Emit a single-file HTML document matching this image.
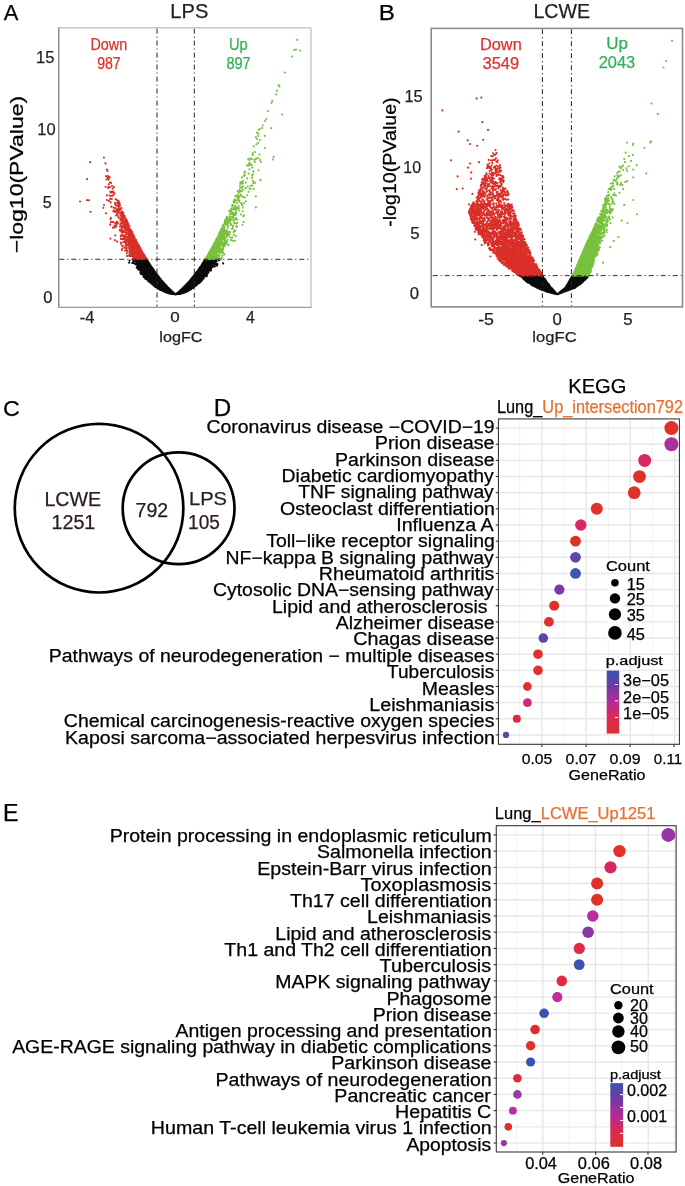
<!DOCTYPE html>
<html><head><meta charset="utf-8"><style>
html,body{margin:0;padding:0;background:#fff;}
svg{display:block;will-change:transform;}
text{font-family:"Liberation Sans",sans-serif;}
</style></head><body>
<svg width="685" height="1186" viewBox="0 0 685 1186">
<rect width="685" height="1186" fill="#fff"/>
<text x="3.85" y="20.10" font-size="22.84" fill="#000" stroke="#000" stroke-width="0.25" textLength="14.60" lengthAdjust="spacingAndGlyphs">A</text>
<text x="170.34" y="17.90" font-size="20.07" fill="#231f20" stroke="#231f20" stroke-width="0.25" textLength="37.96" lengthAdjust="spacingAndGlyphs">LPS</text>
<path d="M136 260h11v1h-11zM205 260h9v1h-9zM137 261h11v1h-11zM204 261h12v1h-12zM138 262h10v1h-10zM203 262h10v1h-10zM214 262h1v1h-1zM137 263h12v1h-12zM203 263h9v1h-9zM137 264h13v1h-13zM202 264h10v1h-10zM216 264h1v1h-1zM138 265h12v1h-12zM202 265h11v1h-11zM137 266h1v1h-1zM139 266h12v1h-12zM201 266h12v1h-12zM140 267h12v1h-12zM200 267h10v1h-10zM211 267h1v1h-1zM139 268h13v1h-13zM199 268h10v1h-10zM140 269h13v1h-13zM199 269h11v1h-11zM141 270h13v1h-13zM198 270h11v1h-11zM142 271h12v1h-12zM197 271h11v1h-11zM142 272h13v1h-13zM196 272h12v1h-12zM143 273h13v1h-13zM196 273h11v1h-11zM144 274h13v1h-13zM195 274h12v1h-12zM145 275h13v1h-13zM194 275h11v1h-11zM144 276h14v1h-14zM194 276h10v1h-10zM144 277h15v1h-15zM193 277h10v1h-10zM145 278h15v1h-15zM192 278h11v1h-11zM149 279h11v1h-11zM191 279h11v1h-11zM150 280h11v1h-11zM190 280h12v1h-12zM149 281h13v1h-13zM189 281h12v1h-12zM151 282h12v1h-12zM188 282h12v1h-12zM152 283h12v1h-12zM187 283h11v1h-11zM153 284h12v1h-12zM187 284h10v1h-10zM154 285h12v1h-12zM186 285h9v1h-9zM155 286h12v1h-12zM185 286h9v1h-9zM157 287h11v1h-11zM184 287h8v1h-8zM159 288h10v1h-10zM183 288h8v1h-8zM160 289h10v1h-10zM182 289h8v1h-8zM162 290h9v1h-9zM180 290h8v1h-8zM165 291h7v1h-7zM179 291h7v1h-7zM167 292h6v1h-6zM178 292h5v1h-5zM171 293h3v1h-3zM177 293h4v1h-4z" fill="#0a0a0a"/><path d="M170.2 293.5h0M166.8 291.8h0M170.2 293.1h0M164.5 290.9h0M171.7 293.3h0M174.1 294.1h0M170.9 293.7h0M172.6 293.2h0M162.7 282.4h0M169.8 292.2h0M167.4 292.6h0M146.6 260.3h0M168.8 292.2h0M171.7 293.8h0M161.8 289.2h0M157.2 276.3h0M163.7 290.0h0M168.4 288.0h0M173.7 294.1h0M151.0 282.6h0M163.2 283.8h0M166.6 291.3h0M157.9 275.8h0M164.7 290.4h0M174.7 294.2h0M171.1 293.0h0M174.3 294.2h0M170.5 293.3h0M161.2 281.2h0M165.6 291.7h0M172.8 293.9h0M170.5 292.9h0M169.8 292.3h0M169.5 292.2h0M174.5 294.2h0M175.1 294.2h0M160.3 279.7h0M168.9 292.1h0M157.6 287.4h0M172.8 293.0h0M175.6 294.4h0M171.5 293.8h0M167.7 287.5h0M163.6 291.0h0M173.9 293.2h0M159.1 278.6h0M161.3 280.9h0M175.0 294.0h0M172.1 293.4h0M160.9 289.6h0M169.9 293.4h0M170.2 293.0h0M169.3 292.8h0M172.2 292.7h0M151.6 282.2h0M168.2 292.7h0M160.9 279.9h0M173.2 293.9h0M164.4 284.6h0M167.9 292.7h0M151.2 266.9h0M154.4 272.0h0M174.9 294.2h0M165.3 291.2h0M157.6 276.4h0M153.0 283.9h0M170.3 292.2h0M172.4 293.8h0M143.6 259.8h0M159.3 289.1h0M170.6 290.4h0M168.4 288.8h0M169.4 293.4h0M160.0 279.8h0M140.7 267.3h0M171.3 290.8h0M167.4 287.6h0M173.2 293.1h0M164.2 290.2h0M169.5 292.8h0M172.1 292.5h0M168.2 292.3h0M156.1 274.1h0M147.0 279.2h0M170.7 293.1h0M163.2 290.1h0M162.3 281.7h0M172.2 292.8h0M162.1 281.0h0M159.4 288.1h0M140.0 269.9h0M169.3 293.0h0M173.7 293.6h0M170.7 292.4h0M169.8 293.4h0M163.3 290.4h0M163.0 282.6h0M169.0 292.3h0M164.3 284.3h0M149.1 264.6h0M172.7 293.1h0M148.1 262.8h0M153.3 271.8h0M170.4 290.9h0M174.0 293.4h0M159.5 278.6h0M149.2 265.8h0M165.4 285.3h0M169.9 289.8h0M164.5 290.2h0M164.9 284.7h0M164.2 283.6h0M136.5 263.5h0M150.0 279.1h0M164.9 291.7h0M173.1 293.6h0M167.7 292.1h0M168.9 293.2h0M149.4 279.7h0M166.5 292.5h0M161.7 281.6h0M148.4 263.3h0M160.2 280.2h0M158.4 288.2h0M173.4 293.3h0M151.7 268.0h0M171.0 293.6h0M153.9 271.0h0M157.5 288.2h0M160.8 280.5h0M172.4 293.9h0M166.2 291.8h0M163.6 290.6h0M156.9 274.6h0M174.2 293.4h0M174.3 293.7h0M164.1 290.8h0M168.3 288.6h0M138.7 259.4h0M161.6 289.8h0M170.4 292.3h0M140.6 267.4h0M154.0 271.1h0M158.7 288.0h0M160.9 289.0h0M174.6 293.6h0M137.1 262.8h0M148.3 278.3h0M172.6 293.5h0M171.2 291.7h0M151.2 268.2h0M159.3 288.6h0M163.2 283.2h0M171.5 292.0h0M166.4 291.8h0M169.9 289.7h0M149.7 279.4h0M172.3 291.9h0M172.1 293.1h0M164.6 283.9h0M144.7 259.4h0M152.4 269.2h0M166.0 292.3h0M165.8 291.8h0M171.2 291.9h0M164.4 291.6h0M148.3 278.6h0M161.2 289.9h0M172.2 291.6h0M163.8 290.2h0M170.2 290.2h0M167.7 292.3h0M152.2 268.0h0M166.9 291.2h0M168.1 288.1h0M154.3 271.6h0M173.3 292.8h0M156.3 287.2h0M167.9 287.5h0M163.6 283.2h0M148.7 263.6h0M165.7 291.2h0M161.3 281.8h0M173.1 292.6h0M145.3 275.4h0M158.2 277.8h0M150.0 266.5h0M165.3 285.5h0M171.0 293.8h0M150.9 281.5h0M159.2 277.4h0M148.5 281.4h0M166.9 292.0h0M154.2 285.4h0M162.4 281.9h0M156.1 274.4h0M159.3 288.4h0M171.4 291.3h0M165.9 291.1h0M152.3 269.8h0M164.8 290.7h0M150.9 280.7h0M161.7 289.7h0M150.6 281.0h0M153.5 269.7h0M154.2 272.5h0M172.7 292.2h0M171.0 290.9h0M158.2 287.0h0M151.1 268.0h0M165.9 291.6h0M150.5 265.8h0M161.4 289.5h0M164.2 291.3h0M172.4 292.5h0M162.4 282.8h0M148.2 263.9h0M168.0 292.3h0M168.6 293.0h0M147.2 261.3h0M141.7 259.4h0M165.3 291.9h0M169.1 289.5h0M149.0 278.5h0M156.8 286.3h0M162.2 282.4h0M154.7 271.7h0M146.4 259.6h0M164.3 284.0h0M160.0 288.3h0M166.8 292.6h0M170.8 292.8h0M143.7 276.4h0M165.2 291.8h0M152.1 268.7h0M149.7 265.3h0M162.7 282.6h0M164.3 290.4h0M161.7 281.9h0M160.9 280.9h0M152.1 269.4h0M172.0 291.9h0M154.1 285.0h0M160.2 278.9h0M152.1 268.3h0M162.5 290.3h0M159.6 279.4h0M171.0 291.3h0M164.3 291.1h0M158.7 277.9h0M154.0 272.2h0M141.8 261.0h0M159.1 279.6h0M171.8 291.8h0M147.8 261.7h0M167.9 293.1h0M151.4 266.9h0M153.7 270.8h0M141.1 270.3h0M163.1 290.6h0M161.3 289.1h0M167.4 292.6h0M167.0 292.7h0M153.7 271.3h0M159.7 289.0h0M156.6 286.7h0M145.4 260.6h0M150.8 281.4h0M157.5 275.7h0M165.2 285.0h0M148.0 262.1h0M167.0 287.4h0M172.2 293.9h0M157.9 287.4h0M168.8 292.7h0M150.3 280.1h0M153.3 270.8h0M163.0 283.0h0M155.9 273.3h0M172.1 291.8h0M147.7 261.8h0M162.1 281.1h0M167.8 293.0h0M147.1 260.9h0M170.7 290.2h0M134.0 260.6h0M162.2 290.6h0M152.6 269.3h0M157.9 276.5h0M164.0 283.4h0M133.1 259.7h0M148.5 263.6h0M146.8 278.0h0M161.2 280.5h0M146.4 279.2h0M163.0 291.1h0M159.6 288.3h0M163.8 291.5h0M163.6 290.4h0M162.1 281.8h0M147.7 261.0h0M162.6 290.4h0M162.8 291.0h0M152.3 284.2h0M145.1 259.6h0M149.4 264.9h0M158.9 288.8h0M155.3 286.9h0M138.8 268.4h0M166.3 286.1h0M161.5 280.5h0M137.5 260.4h0M158.3 276.5h0M154.1 271.5h0M137.4 259.8h0M160.0 281.0h0M174.2 294.2h0M160.6 279.6h0M157.4 275.7h0M153.2 269.9h0M144.1 259.8h0M171.8 291.1h0M137.0 264.7h0M133.2 261.8h0M165.7 291.9h0M155.4 273.9h0M166.7 286.9h0M157.4 276.9h0M164.8 291.0h0M165.9 285.5h0M140.9 274.0h0M153.1 269.8h0M170.3 289.7h0M160.5 279.2h0M155.0 272.0h0M129.2 262.7h0M149.1 279.0h0M150.1 265.8h0M142.5 261.0h0M142.7 274.4h0M143.5 260.8h0M152.5 268.7h0M169.4 289.1h0M160.5 280.1h0M157.5 287.2h0M145.8 260.4h0M137.4 264.2h0M159.1 279.2h0M155.6 273.2h0M168.7 288.8h0M149.1 264.2h0M142.1 260.0h0M168.0 288.9h0M167.6 287.9h0M153.2 285.1h0M151.0 280.4h0M158.0 276.8h0M159.9 278.5h0M145.4 275.2h0M145.2 278.4h0M160.0 279.1h0M137.5 262.1h0M173.8 292.9h0M146.9 259.9h0M152.0 282.3h0M137.4 259.3h0M147.7 261.5h0M151.7 267.7h0M141.9 272.5h0M169.3 288.9h0M164.4 283.8h0M157.6 276.8h0M147.5 260.8h0M145.3 260.6h0M135.5 260.9h0M151.0 267.1h0M163.6 283.5h0M146.1 260.9h0M138.0 266.0h0M149.3 264.5h0M145.7 259.6h0M140.6 269.8h0M144.5 259.7h0M144.6 275.9h0M152.3 283.9h0M158.0 287.5h0M142.7 260.2h0M144.5 274.9h0M143.4 259.5h0M166.7 286.3h0M153.1 284.1h0M157.1 275.3h0M167.1 286.8h0M140.4 260.5h0M155.6 273.9h0M158.8 277.5h0M151.2 267.5h0M148.6 262.9h0M134.5 263.4h0M150.3 266.1h0M170.6 290.4h0M157.9 275.8h0M166.4 286.6h0M156.9 287.5h0M155.3 272.5h0M169.6 289.8h0M159.0 287.4h0M159.6 279.0h0M136.6 261.4h0M147.3 278.9h0M160.1 289.2h0M154.2 285.5h0M144.9 277.0h0M138.6 262.9h0M160.5 280.8h0M142.8 272.8h0M159.4 277.8h0M162.1 290.1h0M165.5 285.8h0M149.7 264.4h0M159.3 279.9h0M160.6 289.2h0M153.0 269.7h0M147.1 262.9h0M148.0 264.0h0M162.7 282.0h0M162.2 290.2h0M155.4 272.7h0M149.7 279.1h0M140.2 267.0h0M143.1 274.7h0M137.8 259.5h0M137.7 261.1h0M136.7 259.9h0M141.6 260.0h0M143.9 274.9h0M149.8 282.0h0M143.3 260.5h0M156.5 274.9h0M139.4 259.8h0M163.8 291.4h0M151.2 283.3h0M142.2 273.9h0M142.5 271.0h0M159.6 289.4h0M148.2 261.9h0M159.1 288.1h0M155.3 273.7h0M161.8 281.7h0M153.3 284.5h0M165.5 292.2h0M157.5 276.2h0M144.2 276.2h0M157.3 276.1h0M152.3 269.8h0M165.9 285.3h0M153.9 270.2h0M169.9 289.3h0M165.0 284.3h0M169.2 289.0h0M138.1 269.3h0M164.2 283.4h0M169.3 293.5h0M161.2 281.9h0M157.9 288.2h0M162.2 290.6h0M137.8 259.3h0M150.0 266.7h0M163.5 282.6h0M164.8 291.8h0M154.4 272.6h0M151.6 282.9h0M142.1 272.1h0M149.3 265.2h0M145.7 279.0h0M159.7 288.8h0M154.3 285.3h0M148.2 263.0h0M153.6 270.4h0M149.7 264.1h0M149.9 264.7h0M136.7 267.7h0M167.1 286.5h0M153.1 271.1h0M144.4 259.3h0M151.7 268.8h0M144.0 260.8h0M163.1 282.1h0M149.6 281.1h0M136.9 267.0h0M159.3 278.5h0M138.7 260.6h0M158.6 288.1h0M138.0 262.9h0M172.7 291.9h0M149.7 281.8h0M155.4 273.7h0M144.8 275.8h0M145.5 260.6h0M147.9 278.2h0M167.9 287.4h0M161.7 281.4h0M159.4 278.6h0M152.2 283.0h0M137.5 265.6h0M150.5 265.4h0M142.1 260.2h0M137.6 264.7h0M156.2 286.8h0M161.5 281.0h0M139.9 259.8h0M133.8 263.0h0M155.8 273.5h0M138.2 262.0h0M158.4 276.6h0M155.7 286.4h0M152.1 267.6h0M165.7 285.1h0M150.8 266.0h0M143.7 259.9h0M144.5 260.3h0M152.4 268.2h0M144.3 260.7h0M157.0 287.3h0M171.2 290.6h0M142.5 274.4h0M141.6 271.4h0M151.5 268.3h0M143.6 260.3h0M171.5 290.9h0M137.3 260.7h0M160.7 289.9h0M142.8 271.2h0M129.6 260.5h0M166.2 286.2h0M141.3 259.7h0M158.7 288.3h0M153.3 270.5h0M153.7 285.6h0M132.3 263.0h0M144.7 260.8h0M173.8 292.9h0M151.5 283.6h0M160.8 279.3h0M152.5 283.0h0M144.8 274.1h0M137.5 266.9h0M140.3 272.2h0M158.9 277.2h0M139.6 260.5h0M136.8 261.1h0M168.8 288.4h0M133.3 260.7h0M135.5 261.4h0M160.5 289.4h0M140.4 267.7h0M154.8 272.7h0M137.6 265.2h0M162.7 281.7h0M135.6 264.3h0M147.2 262.3h0M153.1 269.2h0M142.9 260.9h0M142.3 259.6h0M155.9 286.4h0M154.8 285.3h0M146.5 260.5h0M145.2 260.0h0M152.2 284.1h0M155.4 273.1h0M156.4 274.4h0M146.0 275.5h0M159.9 289.4h0M154.3 272.9h0M138.9 266.5h0M170.9 293.8h0M140.7 259.4h0M166.6 292.6h0M148.8 279.5h0M153.4 284.8h0M141.2 260.9h0M156.3 273.7h0M136.7 260.5h0M141.4 260.2h0M141.7 260.5h0M156.9 287.1h0M154.2 271.1h0M151.7 282.5h0M137.6 265.9h0M140.9 270.4h0M158.6 287.5h0M138.6 265.1h0M150.3 280.7h0M158.3 277.2h0M152.7 283.3h0M139.7 260.1h0M156.8 274.3h0M155.3 286.3h0M169.5 289.0h0M158.4 287.7h0M167.7 287.3h0M155.3 272.9h0M139.1 269.6h0M169.0 288.4h0M138.8 262.4h0M154.7 286.2h0M150.3 266.2h0M140.3 260.0h0M136.5 259.7h0M139.3 266.4h0M160.1 289.8h0M149.5 280.2h0M155.9 286.8h0M154.8 271.9h0M136.6 260.8h0M147.2 279.7h0M150.4 281.5h0M137.9 264.4h0M166.4 285.7h0M136.5 261.2h0M153.7 271.4h0M154.9 286.0h0M137.8 266.9h0M148.8 263.1h0M150.1 280.0h0M139.4 267.5h0M148.1 278.9h0M144.1 276.6h0M168.3 287.8h0M139.3 259.5h0M151.4 283.2h0M149.4 281.1h0M150.5 282.4h0M143.5 273.8h0M148.8 262.9h0M157.5 275.4h0M147.0 262.1h0M147.4 262.7h0M144.1 260.1h0M143.7 276.9h0M165.4 284.9h0M143.3 273.5h0M153.8 270.2h0M142.5 272.7h0M150.7 280.2h0M152.5 268.5h0M179.9 293.0h0M183.6 291.4h0M183.8 291.4h0M177.2 293.2h0M178.9 293.7h0M178.9 292.1h0M178.1 293.0h0M183.1 291.8h0M176.9 294.2h0M175.8 294.3h0M177.9 293.7h0M182.2 292.4h0M178.2 294.0h0M179.5 293.1h0M180.1 293.7h0M182.3 292.6h0M181.0 293.2h0M204.8 262.0h0M190.8 279.5h0M206.8 274.4h0M184.8 292.1h0M187.7 282.9h0M176.4 294.2h0M181.2 293.2h0M192.0 287.9h0M200.2 267.0h0M183.1 291.1h0M206.7 276.3h0M187.2 290.4h0M203.5 262.7h0M184.5 287.8h0M181.1 292.4h0M183.4 292.4h0M187.4 284.7h0M196.0 274.6h0M176.8 294.0h0M183.6 291.8h0M185.2 291.8h0M186.6 290.4h0M177.2 294.0h0M177.1 293.5h0M214.5 263.9h0M192.5 278.8h0M189.7 289.9h0M204.9 260.5h0M182.1 293.1h0M176.2 294.2h0M180.6 293.4h0M190.6 281.0h0M178.3 293.6h0M188.8 282.0h0M187.7 290.5h0M177.4 294.0h0M181.2 289.8h0M195.4 285.0h0M179.4 293.5h0M185.4 291.2h0M178.8 293.1h0M187.3 284.6h0M179.3 291.8h0M187.6 284.4h0M181.9 289.7h0M175.9 294.2h0M185.3 286.1h0M183.0 288.0h0M208.1 268.6h0M183.8 288.4h0M194.9 275.5h0M185.4 291.2h0M180.6 293.2h0M190.5 280.2h0M199.5 283.1h0M213.6 266.3h0M186.5 284.3h0M184.5 286.4h0M184.0 292.1h0M187.8 284.2h0M183.6 292.5h0M206.1 260.2h0M197.7 271.0h0M179.5 293.6h0M187.0 284.1h0M201.5 266.6h0M197.2 284.0h0M182.9 289.3h0M177.9 292.9h0M190.7 280.0h0M181.5 292.7h0M178.7 292.9h0M183.2 292.8h0M188.2 282.8h0M205.2 260.6h0M182.5 292.1h0M183.3 291.9h0M209.9 259.7h0M179.6 291.2h0M181.1 292.7h0M181.6 293.3h0M182.7 290.0h0M184.7 291.3h0M186.8 285.1h0M178.3 292.9h0M183.5 288.1h0M178.6 293.8h0M178.5 293.9h0M200.0 267.4h0M182.5 288.6h0M191.9 279.3h0M179.2 293.8h0M182.7 292.1h0M208.3 268.0h0M203.5 263.4h0M181.6 292.4h0M210.6 260.6h0M206.1 259.9h0M185.7 286.8h0M197.2 284.5h0M196.6 273.5h0M187.4 285.0h0M183.9 291.4h0M180.6 293.6h0M177.4 293.7h0M202.9 264.6h0M182.2 292.2h0M177.7 292.9h0M194.0 285.8h0M182.7 288.6h0M189.0 289.4h0M207.9 260.0h0M181.1 293.4h0M183.8 287.6h0M196.7 273.0h0M184.2 287.1h0M181.1 290.8h0M189.8 281.4h0M189.0 290.0h0M207.4 260.0h0M181.9 291.0h0M196.9 272.5h0M186.7 290.9h0M193.2 287.9h0M191.1 279.7h0M189.3 281.7h0M186.2 285.3h0M182.3 289.1h0M184.9 291.7h0M178.2 293.4h0M179.2 291.6h0M181.1 292.2h0M189.8 281.4h0M183.8 288.0h0M197.8 271.6h0M189.4 281.4h0M188.4 289.6h0M178.5 292.2h0M192.5 277.5h0M202.0 265.7h0M196.4 273.3h0M191.2 279.2h0M190.4 289.2h0M186.7 290.3h0M190.1 289.7h0M180.6 290.7h0M190.9 280.3h0M198.5 269.7h0M185.5 292.0h0M181.3 290.4h0M190.3 288.5h0M176.6 293.7h0M182.5 289.7h0M186.6 291.1h0M195.8 274.9h0M181.7 290.3h0M189.3 281.9h0M215.7 259.4h0M182.7 292.7h0M178.4 292.2h0M184.3 291.6h0M206.9 275.2h0M202.8 263.7h0M195.4 274.2h0M194.2 275.7h0M185.9 291.3h0M191.7 288.3h0M179.6 293.8h0M204.1 261.7h0M184.6 287.0h0M188.2 289.4h0M200.0 269.4h0M191.3 287.7h0M183.9 287.5h0M180.0 292.0h0M188.5 289.8h0M198.0 270.7h0M190.6 280.1h0M209.1 260.2h0M179.7 291.9h0M213.6 265.7h0M192.8 278.3h0M195.2 284.3h0M188.8 289.7h0M183.6 292.7h0M184.5 291.0h0M187.1 283.8h0M189.2 289.4h0M196.5 284.2h0M193.3 286.2h0M215.3 260.0h0M182.9 292.6h0M199.6 269.7h0M202.9 277.2h0M196.9 273.3h0M187.8 283.7h0M182.2 292.7h0M208.8 261.0h0M207.8 271.4h0M191.4 278.9h0M195.8 285.4h0M195.3 285.6h0M196.2 272.7h0M184.7 287.4h0M213.6 260.6h0M184.5 292.2h0M193.5 277.9h0M194.5 275.1h0M183.2 288.8h0M202.6 265.5h0M199.4 268.5h0M205.1 274.2h0M208.4 270.1h0M182.6 288.7h0M212.9 259.7h0M193.1 287.0h0M184.0 292.4h0M186.1 290.1h0M185.4 286.3h0M183.9 287.0h0M188.0 283.6h0M203.2 262.6h0M201.7 265.0h0M183.6 288.7h0M191.3 287.8h0M186.3 291.4h0M190.7 288.6h0M184.6 292.4h0M180.5 290.9h0M178.8 292.5h0M204.6 261.7h0M182.3 293.2h0M188.3 290.4h0M183.6 287.3h0M194.8 276.9h0M188.2 289.5h0M189.2 281.3h0M202.6 263.9h0M192.2 286.6h0M193.7 276.4h0M186.5 284.6h0M193.5 287.7h0M184.4 286.9h0M183.1 288.0h0M185.5 285.7h0M213.9 262.9h0M190.7 288.0h0M201.2 266.2h0M182.1 292.1h0M181.7 290.6h0M202.3 265.3h0M191.7 288.0h0M181.7 289.6h0M188.6 289.4h0M186.8 290.1h0M186.3 285.8h0M195.3 284.9h0M199.3 269.9h0M185.7 286.6h0M202.3 279.7h0M180.1 293.8h0M187.0 290.7h0M209.6 269.1h0M201.8 280.0h0M184.5 292.2h0M186.3 290.9h0M195.6 274.6h0M187.8 290.4h0M192.0 279.6h0M193.7 276.6h0M180.1 290.9h0M199.6 268.8h0M192.2 277.9h0M192.2 286.1h0M211.5 264.2h0M180.3 290.5h0M196.4 272.9h0M196.1 273.0h0M183.9 291.2h0M194.7 276.1h0M191.2 279.9h0M189.8 281.9h0M193.1 277.9h0M179.7 291.7h0M204.5 260.6h0M208.5 260.1h0M190.8 288.3h0M191.8 287.3h0M191.5 278.9h0M203.4 262.3h0M199.0 282.8h0M195.7 273.3h0M195.7 284.3h0M185.1 286.9h0M208.8 259.6h0M187.8 283.1h0M186.2 284.9h0M191.5 279.7h0M207.7 259.4h0M188.1 290.0h0M216.4 264.0h0M193.5 287.1h0M193.1 277.8h0M189.0 290.3h0M202.1 280.2h0M213.2 260.0h0M190.5 288.6h0M181.6 293.5h0M185.0 291.8h0M206.0 259.6h0M193.1 287.5h0M182.1 288.9h0M185.7 291.6h0M204.9 260.0h0M194.2 285.1h0M189.8 280.8h0M186.6 291.4h0M214.9 266.4h0M179.2 293.3h0M197.0 283.5h0M187.8 283.9h0M203.7 261.9h0M194.0 276.6h0M197.6 270.8h0M194.7 286.1h0M195.8 273.9h0M180.7 290.2h0M205.3 259.3h0M191.6 287.2h0M194.0 286.9h0M177.6 293.4h0M211.8 263.1h0M188.9 282.4h0M194.0 277.1h0M209.7 259.5h0M201.4 266.6h0M203.3 263.4h0M192.6 287.4h0M185.7 285.2h0M212.5 266.9h0M195.8 284.7h0M187.9 282.9h0M208.4 272.4h0M205.5 259.5h0M191.7 279.2h0M194.8 274.6h0M206.7 260.0h0M206.8 260.5h0M199.1 269.4h0M210.1 260.6h0M186.0 285.6h0M199.2 269.5h0M183.3 287.6h0M196.8 284.6h0M186.7 284.7h0M215.4 259.8h0M207.5 272.0h0M192.5 287.3h0M207.2 271.5h0M186.3 285.9h0M191.1 287.1h0M194.2 275.6h0M200.7 267.3h0M202.2 277.8h0M197.8 271.9h0M200.3 267.1h0M177.0 293.7h0M210.1 260.1h0M196.2 284.4h0M190.2 289.4h0M190.7 289.1h0M196.4 285.4h0M204.3 261.5h0M194.6 275.2h0M209.4 259.7h0M184.7 286.5h0M192.6 277.9h0M191.2 288.3h0M201.7 279.6h0M197.4 271.6h0M209.3 270.4h0M180.4 293.8h0M197.6 283.6h0M191.9 278.5h0M198.7 271.0h0M197.0 271.9h0M195.0 285.2h0M182.7 293.1h0M203.9 262.4h0M194.5 276.2h0M198.7 270.2h0M198.2 270.3h0M192.6 277.7h0M186.1 291.9h0M200.1 282.2h0M204.8 261.1h0M182.5 288.4h0M211.9 259.8h0M197.3 283.3h0M198.7 282.0h0M212.5 263.3h0M200.6 281.4h0M203.7 262.6h0M216.9 265.7h0M182.0 289.3h0M204.4 261.3h0M183.2 288.6h0M192.0 278.9h0M208.4 259.6h0M207.6 273.4h0M184.7 287.7h0M178.2 292.5h0M195.7 274.1h0M209.3 267.1h0M210.8 267.5h0M202.6 264.6h0M216.0 259.9h0M203.9 276.3h0M198.8 282.3h0M198.6 270.9h0M217.5 264.2h0M207.5 272.8h0M194.6 285.9h0M186.2 285.2h0M201.1 266.6h0M194.8 276.3h0M184.2 292.7h0M193.7 286.5h0M194.3 275.9h0M178.8 291.8h0M194.6 285.5h0M194.5 286.2h0M206.7 259.8h0M188.5 282.6h0M195.1 274.7h0M198.0 282.7h0M202.2 279.9h0M210.2 267.9h0M207.9 260.9h0M195.0 274.6h0M202.5 278.1h0M200.4 281.4h0M219.3 259.9h0M198.0 283.5h0M211.4 264.0h0M187.0 291.0h0M199.7 267.8h0M193.5 277.3h0M193.3 276.5h0M188.8 290.6h0M201.1 279.4h0M195.5 273.5h0M208.4 268.8h0M192.6 278.1h0M204.0 262.1h0M184.9 286.1h0M205.8 260.1h0M211.3 263.0h0M193.7 276.2h0M205.2 260.0h0M193.7 277.7h0M214.7 262.8h0M199.6 268.6h0M196.9 273.7h0M187.3 284.1h0M177.0 294.2h0M211.2 259.4h0M185.5 286.0h0M204.8 276.3h0M202.3 264.0h0M218.7 260.3h0M207.5 271.2h0M194.4 274.9h0M199.5 268.2h0M214.5 261.8h0M191.2 289.2h0M186.8 284.4h0M188.7 283.0h0M203.4 277.7h0M192.9 278.7h0M200.1 267.1h0M192.0 287.4h0M209.7 260.7h0M190.1 280.6h0M184.1 292.7h0M194.6 277.0h0M189.2 290.0h0M192.9 287.0h0M186.1 291.5h0M181.6 290.2h0M212.4 260.2h0M210.2 270.3h0M201.9 266.4h0M212.0 264.1h0M192.4 278.4h0M204.7 275.6h0M179.7 291.0h0M192.8 287.5h0M190.4 288.2h0M188.1 290.7h0M193.4 277.0h0M207.6 259.5h0M187.4 283.3h0M210.4 259.6h0M196.7 274.0h0M202.5 263.8h0M203.7 276.6h0M180.9 289.8h0M210.4 260.5h0M195.5 285.3h0M181.2 289.8h0M199.0 269.5h0M184.6 288.0h0M211.3 268.4h0M183.0 289.7h0M191.8 288.2h0M209.1 269.5h0M215.7 260.3h0M181.5 289.4h0M202.2 265.1h0M196.3 273.8h0M201.4 279.9h0M200.3 267.4h0M192.5 286.3h0M212.7 260.2h0M211.0 270.3h0M205.5 275.6h0M201.6 265.3h0M203.8 263.3h0M195.0 285.9h0M193.3 286.8h0M213.2 261.4h0M215.6 260.1h0M202.9 264.4h0M209.7 267.0h0M202.0 264.4h0M215.1 260.6h0M198.5 269.9h0M191.8 279.9h0M212.8 265.0h0M207.6 260.2h0M203.2 277.0h0M215.2 264.3h0M211.3 260.3h0M199.1 268.7h0M189.7 289.1h0M205.1 274.2h0M196.1 273.7h0M186.8 291.5h0M206.4 260.7h0M210.2 269.6h0M192.6 277.3h0M206.1 259.3h0M191.0 288.8h0M193.9 286.2h0M201.1 279.7h0M187.6 291.0h0M194.1 275.8h0M196.4 272.4h0M194.4 286.8h0M196.8 284.1h0M203.7 278.4h0M223.1 263.4h0M207.2 272.2h0M192.7 286.3h0M215.6 261.9h0M193.9 286.6h0M200.9 266.9h0M205.0 260.4h0M206.6 275.3h0M206.3 260.4h0M206.9 273.3h0M192.7 277.2h0M193.7 286.1h0M216.6 261.6h0M184.1 286.8h0M187.0 291.4h0M212.2 260.3h0M205.8 260.4h0M194.1 276.7h0M187.6 291.1h0M201.6 281.1h0M187.0 285.7h0M177.0 293.3h0M204.4 260.7h0M201.7 280.4h0M203.3 263.6h0M191.8 278.3h0M207.6 261.0h0M209.2 260.8h0M191.0 280.7h0M213.4 262.0h0" stroke="#0a0a0a" stroke-width="2.16" stroke-linecap="round" fill="none"/>
<path d="M108 177h1v1h-1zM121 218h1v1h-1zM126 220h1v1h-1zM116 222h1v1h-1zM126 222h1v1h-1zM116 223h1v1h-1zM126 223h2v1h-2zM125 224h3v1h-3zM124 225h2v1h-2zM123 226h2v1h-2zM124 227h1v1h-1zM125 228h1v1h-1zM126 229h1v1h-1zM128 229h2v1h-2zM129 230h2v1h-2zM129 231h2v1h-2zM128 232h4v1h-4zM127 233h5v1h-5zM129 234h4v1h-4zM130 235h3v1h-3zM129 236h5v1h-5zM124 237h1v1h-1zM127 237h7v1h-7zM123 238h1v1h-1zM128 238h6v1h-6zM127 239h8v1h-8zM126 240h9v1h-9zM125 241h1v1h-1zM128 241h1v1h-1zM130 241h1v1h-1zM132 241h3v1h-3zM135 242h1v1h-1zM136 243h1v1h-1zM128 244h1v1h-1zM135 244h3v1h-3zM133 245h1v1h-1zM136 245h2v1h-2zM130 246h1v1h-1zM132 246h1v1h-1zM137 246h2v1h-2zM130 247h4v1h-4zM136 247h4v1h-4zM130 248h10v1h-10zM130 249h11v1h-11zM131 250h10v1h-10zM132 251h9v1h-9zM132 252h10v1h-10zM133 253h3v1h-3zM137 253h6v1h-6zM134 254h1v1h-1zM138 254h5v1h-5zM133 255h3v1h-3zM137 255h7v1h-7zM134 256h11v1h-11zM135 257h10v1h-10zM134 258h2v1h-2zM137 258h1v1h-1zM140 258h2v1h-2zM143 258h2v1h-2z" fill="#da2f28"/><path d="M135.5 241.5h0M134.7 256.1h0M118.4 216.3h0M113.6 194.8h0M140.3 249.5h0M119.0 210.0h0M141.8 258.0h0M127.0 256.1h0M123.8 231.1h0M129.1 249.0h0M132.3 233.5h0M131.7 232.3h0M135.3 240.9h0M143.6 255.9h0M145.5 258.1h0M128.1 227.3h0M131.8 247.3h0M144.3 257.0h0M136.2 255.6h0M129.3 255.9h0M110.5 219.3h0M122.5 245.8h0M127.3 232.5h0M125.2 219.4h0M117.0 241.7h0M133.8 258.3h0M115.0 211.3h0M129.2 234.0h0M135.6 245.8h0M144.4 257.7h0M142.3 253.2h0M134.3 255.0h0M128.0 229.7h0M128.6 232.5h0M144.0 257.4h0M123.3 223.3h0M135.4 254.5h0M124.6 239.1h0M132.5 256.1h0M137.4 253.9h0M130.8 241.3h0M138.0 255.8h0M141.8 258.4h0M112.0 191.6h0M119.1 202.2h0M127.0 251.0h0M128.5 236.7h0M143.7 254.6h0M118.4 208.7h0M142.8 258.1h0M140.9 258.3h0M122.3 232.9h0M145.2 258.7h0M141.7 251.1h0M131.0 243.3h0M138.6 257.7h0M144.2 257.4h0M119.6 203.4h0M132.3 234.8h0M125.6 224.1h0M130.9 230.3h0M140.0 248.1h0M134.2 240.7h0M144.7 259.1h0M144.2 258.9h0M123.5 213.1h0M125.0 239.4h0M133.8 247.9h0M138.3 244.6h0M122.0 227.1h0M129.0 231.8h0M122.4 220.4h0M121.0 212.7h0M138.8 245.9h0M108.7 184.4h0M140.0 257.0h0M120.8 242.6h0M125.0 240.1h0M144.2 256.1h0M133.1 242.8h0M133.6 236.4h0M134.8 248.1h0M125.4 234.9h0M136.4 257.3h0M113.5 207.6h0M145.5 257.3h0M132.2 243.5h0M140.3 258.1h0M139.2 246.8h0M132.6 241.3h0M140.1 258.7h0M135.6 244.7h0M122.3 229.5h0M117.9 210.5h0M144.9 258.1h0M143.5 258.3h0M143.9 254.8h0M143.9 255.0h0M141.4 258.1h0M126.6 225.2h0M125.8 229.4h0M142.2 257.1h0M134.3 242.7h0M144.2 259.2h0M143.8 258.6h0M128.5 231.6h0M124.8 225.5h0M123.7 235.9h0M110.0 182.4h0M125.6 220.3h0M134.9 240.5h0M118.5 217.5h0M139.0 258.4h0M135.6 258.1h0M138.9 254.0h0M137.2 242.3h0M126.6 249.4h0M140.2 250.0h0M125.4 245.3h0M125.8 237.2h0M134.0 256.9h0M142.3 254.2h0M116.6 215.2h0M139.0 248.2h0M134.5 244.7h0M111.3 206.7h0M115.1 202.9h0M140.7 250.6h0M135.1 255.3h0M129.2 251.7h0M129.7 253.6h0M146.3 258.7h0M134.5 248.9h0M118.1 206.4h0M106.9 200.0h0M131.7 233.6h0M127.0 244.8h0M107.6 177.8h0M125.9 245.4h0M116.9 223.7h0M115.7 199.2h0M127.9 236.9h0M119.2 202.6h0M144.5 257.5h0M126.6 237.0h0M127.1 241.7h0M122.3 239.2h0M118.9 210.8h0M131.5 252.2h0M126.9 253.3h0M109.6 177.1h0M139.0 247.3h0M127.3 232.7h0M137.9 244.2h0M128.2 228.2h0M133.7 235.6h0M133.7 255.8h0M136.5 245.3h0M130.4 242.6h0M111.8 199.0h0M130.9 249.1h0M137.7 246.9h0M122.9 214.9h0M134.2 247.5h0M124.5 232.0h0M135.2 239.6h0M120.9 238.9h0M126.4 245.5h0M130.0 229.1h0M133.5 242.6h0M131.5 252.5h0M130.1 230.0h0M125.9 223.9h0M135.7 241.3h0M142.7 252.8h0M140.8 250.9h0M126.8 220.5h0M128.7 243.3h0M120.8 215.8h0M120.3 208.8h0M123.3 242.1h0M116.1 226.6h0M129.6 247.2h0M131.7 250.5h0M144.5 256.0h0M128.9 238.0h0M133.3 242.5h0M123.9 225.1h0M134.9 258.8h0M137.8 244.3h0M129.5 231.1h0M134.0 241.9h0M126.2 224.6h0M128.5 233.3h0M124.1 247.7h0M134.9 247.6h0M128.3 230.0h0M128.7 238.4h0M144.0 259.1h0M123.7 239.1h0M143.3 254.1h0M132.8 253.4h0M112.2 221.8h0M135.2 255.7h0M136.6 243.9h0M127.7 239.1h0M131.6 247.0h0M143.0 254.1h0M144.5 256.6h0M105.6 186.8h0M132.7 243.0h0M126.5 229.8h0M145.1 258.0h0M133.2 254.8h0M126.6 239.9h0M144.7 256.7h0M142.3 257.6h0M140.9 258.7h0M128.9 243.9h0M128.7 233.1h0M136.1 245.8h0M128.9 228.8h0M121.3 229.0h0M134.1 257.1h0M133.9 244.2h0M144.9 256.4h0M113.1 222.2h0M130.4 231.6h0M125.6 221.0h0M132.3 251.7h0M119.5 210.2h0M139.0 254.8h0M120.5 231.4h0M145.5 258.3h0M118.6 217.8h0M124.8 228.7h0M138.6 257.5h0M117.7 223.3h0M138.1 245.3h0M140.5 248.9h0M130.1 250.6h0M131.5 240.8h0M121.3 219.1h0M109.6 195.5h0M131.9 232.9h0M142.2 253.9h0M132.5 235.6h0M124.1 238.4h0M123.1 214.5h0M138.4 245.6h0M145.0 257.0h0M118.9 209.3h0M125.4 229.4h0M130.2 235.1h0M123.3 236.4h0M133.2 258.2h0M132.9 235.4h0M106.1 176.2h0M134.5 239.0h0M139.4 247.7h0M134.2 245.7h0M126.4 233.4h0M127.0 234.2h0M126.5 230.4h0M124.5 215.9h0M139.6 248.7h0M144.6 258.7h0M144.4 255.5h0M114.0 210.4h0M131.7 251.1h0M126.9 241.8h0M136.4 247.4h0M131.2 233.9h0M139.8 248.7h0M138.9 246.3h0M129.6 226.6h0M144.1 258.8h0M144.8 257.8h0M130.2 241.6h0M128.6 241.5h0M137.6 245.9h0M145.9 258.1h0M142.6 252.6h0M142.8 257.0h0M133.3 234.8h0M138.8 246.5h0M119.4 206.6h0M144.6 258.4h0M137.2 243.1h0M137.8 245.8h0M131.8 241.0h0M130.7 249.4h0M128.4 234.6h0M123.3 227.2h0M139.2 246.1h0M141.4 252.7h0M130.9 247.5h0M129.7 248.5h0M128.9 236.5h0M135.1 259.2h0M131.7 231.2h0M127.3 240.1h0M121.3 208.7h0M133.4 238.2h0M120.3 220.4h0M130.4 229.5h0M135.2 243.1h0M144.8 257.3h0M136.4 256.7h0M123.5 222.1h0M141.2 251.9h0M134.8 248.5h0M111.3 192.7h0M144.2 255.1h0M138.1 255.0h0M120.1 226.7h0M141.7 258.8h0M140.7 251.5h0M133.3 246.4h0M124.1 218.3h0M143.9 255.7h0M125.9 248.1h0M125.5 240.4h0M132.9 246.7h0M128.9 245.8h0M117.3 203.2h0M110.8 222.3h0M128.8 226.5h0M116.1 215.4h0M137.3 243.9h0M143.0 257.5h0M141.4 250.9h0M139.5 247.2h0M131.1 232.1h0M131.0 256.2h0M136.9 243.9h0M134.9 242.1h0M108.7 176.5h0M144.1 255.2h0M136.9 242.1h0M127.1 251.2h0M121.5 211.3h0M134.9 248.9h0M137.2 244.9h0M120.3 224.4h0M142.9 254.8h0M126.5 228.4h0M132.0 255.4h0M128.4 233.6h0M128.5 230.3h0M122.7 218.8h0M122.8 218.9h0M123.4 218.0h0M123.3 226.4h0M116.0 211.2h0M128.7 242.6h0M138.0 254.7h0M113.0 192.3h0M121.4 208.0h0M116.4 205.7h0M122.7 216.6h0M118.8 212.7h0M144.9 258.6h0M133.6 235.9h0M144.5 259.0h0M125.9 228.5h0M132.1 255.7h0M108.6 179.6h0M114.6 193.3h0M143.0 258.0h0M131.9 241.4h0M130.9 255.9h0M144.1 256.1h0M131.7 240.4h0M126.4 243.5h0M120.8 223.4h0M114.7 227.4h0M143.7 259.0h0M128.0 232.3h0M135.2 243.8h0M139.4 246.5h0M124.3 217.0h0M126.6 223.1h0M110.2 195.8h0M135.9 240.9h0M133.2 255.8h0M121.9 217.2h0M134.8 254.2h0M141.4 258.9h0M131.7 253.5h0M129.4 230.7h0M143.0 258.3h0M119.7 230.0h0M123.9 237.6h0M134.9 241.9h0M136.0 239.9h0M122.3 211.8h0M124.9 225.3h0M138.8 254.3h0M134.3 241.3h0M133.5 237.1h0M137.1 247.0h0M116.4 224.8h0M121.1 235.3h0M138.9 257.4h0M114.5 225.5h0M131.4 231.5h0M125.5 221.7h0M127.0 229.6h0M131.9 247.3h0M121.6 218.5h0M116.6 209.4h0M141.9 252.9h0M127.4 222.7h0M115.3 204.6h0M125.7 222.6h0M143.2 254.3h0M142.5 257.4h0M126.0 225.2h0M132.8 252.3h0M132.3 243.2h0M135.1 248.8h0M129.7 244.7h0M137.5 259.3h0M119.4 213.0h0M128.8 225.7h0M145.8 257.8h0M131.3 246.3h0M122.1 221.9h0M125.1 221.7h0M143.2 258.6h0M128.7 245.0h0M125.1 250.6h0M143.6 254.2h0M127.6 238.6h0M133.9 245.0h0M143.1 253.9h0M137.9 245.7h0M126.9 248.1h0M124.9 217.1h0M110.9 217.8h0M125.0 241.7h0M134.2 244.8h0M122.0 249.0h0M136.8 258.0h0M126.8 237.1h0M135.0 248.3h0M125.5 221.3h0M129.2 230.2h0M114.8 240.2h0M126.2 219.5h0M110.2 224.7h0M124.8 224.3h0M141.2 258.4h0M122.0 226.2h0M121.9 250.1h0M127.6 222.4h0M135.6 243.3h0M118.5 204.6h0M128.8 236.8h0M139.9 258.0h0M110.7 202.4h0M129.1 231.1h0M133.3 247.5h0M136.6 247.0h0M109.8 187.2h0M117.4 214.2h0M130.1 253.4h0M121.2 214.0h0M127.9 224.1h0M134.6 237.3h0M118.1 202.2h0M143.4 254.7h0M115.3 208.0h0M132.2 245.7h0M113.3 211.3h0M123.8 215.7h0M138.4 257.6h0M127.7 237.9h0M115.7 222.9h0M136.9 258.8h0M133.4 237.8h0M121.4 212.8h0M134.5 242.2h0M144.3 258.7h0M142.7 257.4h0M142.6 257.7h0M117.9 222.8h0M141.4 251.5h0M134.6 245.2h0M131.2 246.6h0M138.3 244.9h0M126.8 222.8h0M137.8 258.8h0M115.2 235.3h0M135.4 254.9h0M115.1 223.0h0M136.3 253.2h0M126.3 234.5h0M106.0 213.3h0M110.1 198.9h0M124.5 226.1h0M133.6 241.2h0M142.0 257.6h0M141.8 258.8h0M120.6 215.4h0M135.4 245.7h0M134.4 257.6h0M124.2 236.4h0M141.1 249.8h0M129.2 247.3h0M131.6 255.3h0M131.7 233.2h0M145.2 257.8h0M126.2 222.8h0M112.9 227.7h0M126.6 220.6h0M127.3 223.1h0M123.7 221.1h0M127.4 225.7h0M125.6 231.9h0M136.2 252.1h0M130.4 245.4h0M136.7 256.8h0M121.3 243.9h0M122.7 232.5h0M135.9 253.9h0M144.8 258.2h0M135.8 248.5h0M137.1 253.1h0M116.7 221.9h0M135.3 253.9h0M137.7 253.3h0M110.3 191.8h0M120.5 218.5h0M130.4 249.0h0M137.7 245.3h0M121.9 229.6h0M122.5 213.9h0M108.9 200.9h0M134.0 241.3h0M142.9 254.4h0M134.2 237.0h0M140.6 259.0h0M126.2 219.0h0M127.0 221.1h0M122.1 223.7h0M120.1 205.4h0M122.5 222.6h0M131.1 241.0h0M123.5 231.9h0M138.5 254.1h0M137.4 258.3h0M117.5 211.5h0M133.5 254.8h0M123.7 215.2h0M141.9 259.1h0M127.2 227.7h0M117.4 200.4h0M130.6 245.0h0M133.6 255.7h0M123.6 217.8h0M136.2 245.5h0M118.4 200.8h0M108.0 176.1h0M137.0 242.6h0M127.8 227.6h0M138.0 244.6h0M125.5 227.0h0M133.9 247.3h0M140.3 251.5h0M122.2 246.3h0M117.3 213.5h0M122.5 232.3h0M133.1 254.0h0M138.2 246.0h0M134.6 244.9h0M113.3 191.6h0M123.9 221.1h0M132.6 242.0h0M128.4 226.1h0M129.2 235.2h0M128.9 255.3h0M137.7 244.6h0M140.1 248.3h0M115.2 212.2h0M131.2 247.1h0M112.1 195.9h0M125.5 242.9h0M139.2 258.4h0M139.9 247.8h0M133.2 235.3h0M132.0 232.3h0M128.3 228.7h0M133.1 255.2h0M133.5 235.0h0M140.0 248.6h0M131.7 250.9h0M108.1 187.9h0M128.5 230.7h0M128.0 233.2h0M127.6 245.3h0M126.1 245.9h0M127.8 238.9h0M137.1 255.6h0M144.7 258.0h0M131.4 232.4h0M110.4 238.6h0M134.3 245.1h0M130.4 243.1h0M120.9 236.5h0M134.6 237.7h0M130.8 255.6h0M139.7 248.5h0M123.2 221.2h0M121.9 231.0h0M133.4 237.4h0M142.1 258.7h0M132.9 245.3h0M122.5 235.0h0M121.6 214.3h0M142.3 257.9h0M131.0 230.5h0M132.9 259.3h0M124.2 216.0h0M124.2 227.5h0M133.2 247.9h0M112.7 188.7h0M132.5 233.5h0M139.7 247.4h0M143.5 255.2h0M125.4 223.0h0M128.4 224.0h0M134.8 247.7h0M146.0 258.5h0M133.6 253.7h0M126.6 228.9h0M136.9 253.7h0M103.9 157.5h0M90.1 162.2h0M105.5 163.4h0M106.9 169.7h0M107.5 171.0h0M87.1 179.2h0M106.5 179.5h0M108.5 178.0h0M111.1 182.9h0M108.5 187.0h0M112.0 186.0h0M114.0 187.0h0M80.0 201.5h0M87.1 200.2h0M89.0 200.3h0M90.5 211.8h0M106.9 195.3h0M103.3 207.8h0M104.0 205.0h0" stroke="#da2f28" stroke-width="2.16" stroke-linecap="round" fill="none"/>
<path d="M234 208h2v1h-2zM231 209h1v1h-1zM233 214h1v1h-1zM226 219h1v1h-1zM228 219h3v1h-3zM225 220h1v1h-1zM229 220h1v1h-1zM225 221h2v1h-2zM228 221h1v1h-1zM225 222h4v1h-4zM226 223h2v1h-2zM223 226h1v1h-1zM221 229h3v1h-3zM221 230h4v1h-4zM221 231h4v1h-4zM220 232h4v1h-4zM219 233h4v1h-4zM220 234h2v1h-2zM222 237h2v1h-2zM222 238h3v1h-3zM217 239h1v1h-1zM221 239h2v1h-2zM217 240h1v1h-1zM221 240h1v1h-1zM216 241h2v1h-2zM220 241h1v1h-1zM215 242h2v1h-2zM220 242h2v1h-2zM214 243h4v1h-4zM222 243h1v1h-1zM214 244h5v1h-5zM214 245h6v1h-6zM213 246h1v1h-1zM215 246h5v1h-5zM216 247h3v1h-3zM212 248h2v1h-2zM215 248h5v1h-5zM211 249h7v1h-7zM219 249h2v1h-2zM211 250h6v1h-6zM220 250h2v1h-2zM210 251h8v1h-8zM219 251h2v1h-2zM209 252h8v1h-8zM219 252h2v1h-2zM209 253h7v1h-7zM209 254h8v1h-8zM208 255h9v1h-9zM207 256h9v1h-9zM207 257h9v1h-9zM206 258h4v1h-4zM211 258h3v1h-3z" fill="#78c13c"/><path d="M235.7 236.1h0M210.2 258.8h0M247.1 178.4h0M213.3 246.3h0M217.3 249.7h0M241.3 195.4h0M228.8 221.8h0M222.9 238.3h0M255.8 207.4h0M216.2 255.8h0M218.4 249.6h0M245.9 201.3h0M234.7 202.0h0M233.4 216.6h0M233.1 225.9h0M205.6 258.7h0M259.9 140.1h0M233.3 220.7h0M218.0 257.5h0M208.4 258.1h0M221.3 235.8h0M223.4 237.2h0M242.8 189.5h0M215.7 257.5h0M214.7 245.2h0M207.7 257.3h0M230.0 214.3h0M208.8 253.7h0M225.8 242.4h0M215.2 242.6h0M223.4 225.6h0M240.2 188.0h0M218.8 257.3h0M207.7 257.6h0M218.5 235.3h0M218.1 257.6h0M221.0 240.2h0M206.7 257.1h0M207.1 257.4h0M245.6 188.4h0M239.6 190.0h0M209.9 251.9h0M221.4 234.0h0M209.7 254.7h0M221.7 237.2h0M241.8 187.2h0M210.8 258.4h0M242.9 181.2h0M227.0 231.1h0M225.9 223.9h0M208.7 255.2h0M206.9 258.5h0M216.3 240.5h0M207.8 256.6h0M224.7 232.1h0M213.9 248.2h0M222.8 246.2h0M249.5 188.7h0M207.1 257.8h0M233.8 201.2h0M218.4 251.8h0M238.8 208.3h0M226.4 225.0h0M206.6 259.1h0M237.8 191.2h0M217.9 243.9h0M213.6 258.8h0M208.5 259.0h0M221.7 231.7h0M256.9 132.6h0M224.6 246.3h0M211.7 249.4h0M215.3 256.9h0M209.2 252.6h0M211.6 249.6h0M207.9 258.8h0M209.5 254.5h0M229.8 216.3h0M259.4 154.5h0M222.3 244.6h0M227.6 232.0h0M221.9 249.1h0M226.6 217.5h0M214.3 248.8h0M222.7 238.8h0M225.6 233.5h0M209.4 252.9h0M231.9 216.7h0M225.0 231.4h0M214.3 248.9h0M260.5 180.5h0M235.3 206.4h0M218.1 241.4h0M253.7 188.9h0M211.0 250.9h0M228.1 244.8h0M211.0 249.7h0M254.4 159.8h0M225.0 237.6h0M214.6 245.2h0M213.9 244.6h0M259.8 129.0h0M222.6 225.9h0M221.9 240.3h0M238.6 206.0h0M233.8 213.6h0M241.5 191.3h0M206.7 258.4h0M221.4 235.5h0M218.7 251.8h0M226.5 234.2h0M233.7 234.8h0M224.2 243.4h0M219.7 234.0h0M217.1 251.6h0M219.0 235.5h0M219.1 259.0h0M255.8 196.4h0M216.0 246.4h0M244.6 172.0h0M218.8 255.7h0M219.5 250.2h0M216.4 256.7h0M228.3 233.2h0M215.4 248.2h0M225.2 237.6h0M209.9 253.0h0M221.8 228.4h0M231.5 213.0h0M218.5 247.6h0M222.4 234.3h0M207.6 256.0h0M215.6 253.2h0M219.4 255.6h0M220.0 253.2h0M217.6 240.0h0M221.3 238.2h0M228.0 223.2h0M208.0 259.2h0M222.8 238.4h0M209.1 254.5h0M231.9 229.1h0M211.1 249.8h0M218.2 243.5h0M250.4 158.4h0M214.8 242.2h0M216.1 257.3h0M248.6 191.8h0M248.6 173.7h0M218.2 255.4h0M251.9 159.3h0M217.3 237.7h0M207.1 258.2h0M221.3 240.4h0M210.1 251.3h0M225.2 230.6h0M238.2 195.3h0M210.5 250.8h0M212.8 247.5h0M242.8 207.6h0M219.7 242.8h0M217.3 250.9h0M227.9 228.0h0M211.8 250.7h0M216.5 253.4h0M213.5 246.6h0M229.3 231.8h0M243.4 186.5h0M244.2 215.3h0M221.1 231.0h0M222.4 255.5h0M210.6 250.2h0M219.6 248.2h0M224.4 232.3h0M215.9 256.7h0M224.5 224.1h0M218.7 254.8h0M240.6 191.2h0M219.5 237.7h0M212.1 259.1h0M236.2 213.4h0M217.8 251.4h0M216.8 257.0h0M220.8 241.3h0M254.8 161.9h0M214.0 243.7h0M206.8 257.6h0M218.1 241.0h0M233.7 215.1h0M221.8 241.1h0M235.2 207.6h0M219.9 239.6h0M212.9 258.9h0M222.6 237.2h0M234.2 202.6h0M245.7 182.7h0M216.2 255.3h0M223.7 232.4h0M216.5 241.9h0M208.9 254.8h0M217.3 244.0h0M213.8 258.4h0M244.5 172.9h0M216.7 252.2h0M235.7 207.4h0M242.5 225.0h0M238.5 199.4h0M230.8 223.8h0M223.3 226.4h0M218.1 255.5h0M217.3 251.0h0M224.8 223.6h0M217.2 243.2h0M252.0 178.1h0M250.3 164.3h0M223.4 243.5h0M244.7 197.6h0M242.9 183.4h0M219.0 240.0h0M221.1 229.4h0M238.7 192.6h0M215.7 248.7h0M244.8 175.1h0M218.0 249.7h0M252.0 185.5h0M233.4 209.2h0M209.8 252.4h0M220.5 249.0h0M222.6 236.5h0M218.8 244.2h0M248.9 164.3h0M215.7 241.6h0M227.8 223.5h0M213.7 244.3h0M207.4 258.9h0M222.3 237.3h0M253.3 171.6h0M256.0 158.8h0M217.4 254.7h0M207.6 258.9h0M220.6 243.5h0M231.0 224.5h0M227.5 225.1h0M211.8 248.2h0M236.4 226.2h0M206.4 258.1h0M209.4 259.1h0M217.4 240.2h0M213.8 245.7h0M241.0 214.6h0M227.1 224.3h0M223.1 233.7h0M208.4 254.1h0M220.5 231.8h0M217.0 252.3h0M237.0 197.1h0M228.4 232.6h0M225.5 219.5h0M214.4 244.3h0M252.3 175.7h0M215.4 246.1h0M209.6 258.8h0M237.9 199.4h0M209.7 259.1h0M235.0 209.2h0M233.2 216.8h0M225.9 219.2h0M248.6 165.7h0M208.3 255.0h0M228.0 225.9h0M253.4 183.2h0M227.7 232.6h0M220.5 231.2h0M225.5 244.5h0M227.5 239.8h0M219.5 234.8h0M216.8 239.5h0M215.0 243.2h0M218.3 241.2h0M232.5 237.5h0M220.2 246.1h0M218.4 237.1h0M232.8 227.6h0M234.9 213.4h0M225.2 233.9h0M221.2 249.8h0M234.3 230.3h0M240.2 182.6h0M212.8 246.7h0M208.9 258.2h0M219.5 233.2h0M210.9 251.8h0M223.2 253.0h0M220.5 246.6h0M221.6 234.3h0M222.8 248.5h0M222.6 243.3h0M221.7 252.5h0M242.8 211.3h0M224.0 245.2h0M216.1 247.3h0M217.3 258.6h0M238.8 197.6h0M218.3 248.6h0M235.1 214.7h0M223.1 248.8h0M235.2 208.8h0M227.3 224.3h0M218.2 237.7h0M212.4 246.7h0M225.4 221.3h0M233.6 232.0h0M210.2 251.9h0M213.2 248.8h0M232.2 213.9h0M225.6 230.3h0M220.0 242.0h0M207.7 258.7h0M226.9 243.0h0M216.6 240.8h0M224.5 240.1h0M258.2 142.8h0M225.9 222.8h0M220.5 240.9h0M244.0 175.9h0M212.9 246.8h0M205.7 258.5h0M206.2 258.9h0M230.5 210.2h0M229.6 220.2h0M235.4 196.0h0M227.3 216.9h0M207.4 256.5h0M226.4 221.9h0M210.6 257.5h0M239.2 210.5h0M236.5 223.5h0M224.8 242.2h0M227.6 224.8h0M220.0 251.4h0M218.6 247.3h0M226.7 236.9h0M226.6 240.9h0M239.4 200.5h0M210.5 250.4h0M229.7 222.2h0M242.0 205.2h0M207.2 257.8h0M214.5 243.6h0M238.4 196.6h0M237.7 199.8h0M252.6 154.9h0M221.6 239.8h0M219.7 232.5h0M228.2 235.1h0M211.1 250.6h0M220.2 249.6h0M220.7 258.6h0M221.6 237.9h0M214.7 243.0h0M219.2 233.4h0M224.4 254.4h0M219.6 237.4h0M218.9 249.6h0M219.0 252.1h0M248.3 159.2h0M229.4 220.5h0M209.3 253.6h0M206.3 257.5h0M230.9 225.1h0M235.0 219.7h0M210.7 251.3h0M253.0 180.9h0M238.2 208.2h0M207.3 256.0h0M234.3 222.8h0M230.2 218.2h0M249.5 162.7h0M245.2 171.5h0M241.9 177.4h0M227.5 222.7h0M230.8 224.2h0M214.1 258.5h0M239.7 196.5h0M229.8 218.5h0M220.1 244.2h0M247.1 165.3h0M209.9 254.9h0M208.9 253.2h0M229.8 221.0h0M210.5 251.6h0M212.2 247.7h0M207.2 257.2h0M216.2 254.9h0M219.1 241.5h0M212.3 247.8h0M228.2 221.5h0M224.6 224.0h0M235.3 215.2h0M242.3 190.6h0M234.3 207.3h0M222.1 228.5h0M234.3 230.9h0M219.4 234.0h0M232.8 205.2h0M209.3 253.7h0M206.7 258.6h0M214.1 246.2h0M226.7 218.0h0M217.1 238.2h0M215.1 242.1h0M219.9 250.7h0M221.6 229.2h0M226.6 220.7h0M231.4 224.3h0M258.8 130.0h0M218.3 240.2h0M231.7 237.9h0M224.8 222.2h0M208.0 258.6h0M227.3 236.1h0M224.7 223.2h0M238.4 207.8h0M237.1 222.8h0M229.8 237.0h0M242.3 204.5h0M235.6 209.6h0M211.6 250.2h0M236.2 218.1h0M229.8 219.2h0M232.8 240.8h0M237.0 208.1h0M214.7 243.5h0M209.8 251.4h0M221.2 242.9h0M232.4 204.9h0M216.5 242.2h0M223.1 234.4h0M226.2 234.8h0M215.7 242.1h0M236.8 208.9h0M222.0 242.3h0M252.1 167.6h0M222.5 239.8h0M232.2 206.7h0M235.2 231.0h0M208.9 254.4h0M256.4 144.3h0M224.5 227.4h0M218.6 236.5h0M224.3 235.8h0M206.1 258.3h0M236.5 196.6h0M220.3 232.0h0M209.1 254.2h0M235.9 209.6h0M206.4 259.0h0M220.4 250.8h0M247.8 186.3h0M206.9 256.9h0M228.7 233.5h0M212.3 248.8h0M216.0 246.7h0M240.7 194.6h0M223.6 224.6h0M225.2 240.2h0M238.5 208.1h0M219.8 233.2h0M224.7 227.5h0M223.9 229.7h0M229.8 231.9h0M209.7 254.3h0M207.8 255.5h0M220.8 230.1h0M230.8 240.2h0M211.5 248.9h0M233.2 213.1h0M250.7 189.0h0M230.3 220.4h0M223.2 235.0h0M251.6 165.2h0M207.6 258.3h0M216.5 255.3h0M243.3 216.3h0M231.2 212.9h0M211.4 259.0h0M213.8 248.9h0M214.4 249.9h0M214.2 249.2h0M230.6 225.0h0M237.2 219.6h0M235.9 200.6h0M228.3 220.6h0M211.6 249.8h0M209.0 254.8h0M216.7 254.3h0M223.5 227.9h0M220.4 235.7h0M241.0 182.0h0M223.2 234.6h0M228.4 219.7h0M221.5 235.1h0M212.3 258.8h0M242.2 182.0h0M226.4 230.4h0M212.7 247.0h0M207.8 255.8h0M229.7 234.5h0M214.7 257.3h0M212.0 258.7h0M228.6 218.8h0M234.9 208.7h0M207.4 257.5h0M247.3 195.3h0M219.8 233.6h0M216.3 254.1h0M217.2 250.0h0M209.2 255.0h0M207.0 259.0h0M223.0 247.5h0M216.3 254.7h0M205.5 258.8h0M253.5 171.4h0M211.6 248.3h0M244.0 203.1h0M234.4 208.4h0M250.9 185.9h0M215.3 246.4h0M224.3 243.9h0M209.7 252.1h0M221.3 250.9h0M206.0 259.3h0M233.2 218.2h0M213.2 245.8h0M210.5 258.3h0M233.7 201.9h0M221.0 231.2h0M222.1 248.8h0M224.1 224.5h0M213.8 259.0h0M221.0 230.7h0M226.1 231.6h0M222.3 229.4h0M220.7 244.2h0M210.4 258.0h0M217.7 254.8h0M224.5 230.7h0M220.0 249.6h0M226.3 223.0h0M216.5 238.9h0M230.2 219.8h0M219.1 237.7h0M220.1 246.4h0M224.4 230.2h0M233.0 226.2h0M209.9 258.9h0M221.6 259.3h0M219.8 244.6h0M210.9 251.5h0M223.1 242.8h0M214.2 246.1h0M258.6 170.3h0M245.7 188.1h0M228.6 245.2h0M212.4 259.2h0M218.4 239.9h0M219.1 250.1h0M211.9 248.4h0M227.0 216.8h0M215.7 243.0h0M206.4 257.7h0M249.4 169.4h0M218.8 243.9h0M215.5 258.3h0M217.0 242.8h0M223.8 238.4h0M212.4 247.4h0M210.7 251.9h0M211.9 249.7h0M226.8 218.7h0M216.3 250.6h0M222.2 248.6h0M229.1 211.3h0M231.0 211.4h0M235.6 205.5h0M216.9 250.4h0M249.1 159.8h0M237.0 226.9h0M214.5 244.8h0M255.8 137.3h0M215.6 246.6h0M209.5 258.7h0M216.3 256.5h0M237.0 203.0h0M238.6 191.8h0M209.8 251.8h0M209.6 254.1h0M234.7 223.4h0M243.6 221.9h0M220.8 231.2h0M217.6 243.3h0M221.0 251.2h0M235.4 219.0h0M220.2 245.7h0M239.2 192.4h0M222.0 238.0h0M234.8 240.8h0M239.1 201.6h0M220.3 242.3h0M241.4 183.8h0M231.9 212.1h0M231.6 209.8h0M215.1 257.3h0M222.9 250.8h0M215.9 241.4h0M216.0 241.0h0M207.7 257.9h0M228.4 221.9h0M219.1 235.2h0M231.4 208.9h0M216.2 240.2h0M220.1 241.8h0M223.8 239.4h0M208.4 255.0h0M222.8 225.7h0M236.1 211.6h0M217.0 250.2h0M224.8 222.0h0M221.0 252.3h0M210.7 249.9h0M213.4 247.9h0M234.4 201.9h0M219.0 249.9h0M234.7 199.4h0M231.3 219.7h0M255.2 182.7h0M225.0 220.7h0M225.2 237.9h0M239.9 185.5h0M221.5 236.0h0M242.9 196.9h0M228.1 219.4h0M205.9 259.2h0M217.5 239.0h0M232.9 209.3h0M206.7 256.8h0M216.4 239.6h0M237.6 194.8h0M224.2 226.5h0M241.0 203.1h0M221.7 257.8h0M220.3 240.5h0M215.0 253.9h0M297.2 39.9h0M294.1 50.0h0M296.0 49.5h0M300.2 50.5h0M292.1 56.5h0M284.8 72.6h0M278.6 85.1h0M279.5 86.5h0M277.0 90.7h0M276.0 94.5h0M272.2 100.9h0M271.5 103.0h0M267.9 111.0h0M282.0 114.6h0M266.2 119.0h0M265.0 121.0h0M262.8 125.5h0M262.0 128.0h0M271.2 128.2h0M258.5 133.6h0M258.0 136.0h0M264.8 135.9h0M257.1 139.0h0M253.6 146.3h0M255.0 152.0h0M265.1 148.1h0M252.7 153.0h0M273.6 156.9h0M273.0 159.5h0M257.8 158.2h0M260.0 160.0h0M261.0 162.0h0M252.7 174.4h0M260.4 179.8h0" stroke="#78c13c" stroke-width="2.16" stroke-linecap="round" fill="none"/>
<line x1="157.0" y1="28.6" x2="157.0" y2="306.7" stroke="#222" stroke-width="1" stroke-dasharray="5 2.9 1.2 2.9"/>
<line x1="194.3" y1="28.6" x2="194.3" y2="306.7" stroke="#222" stroke-width="1" stroke-dasharray="5 2.9 1.2 2.9"/>
<line x1="59.3" y1="259.3" x2="310.3" y2="259.3" stroke="#333" stroke-width="1" stroke-dasharray="5 2.9 1.2 2.9"/>
<line x1="58.5" y1="27.8" x2="311" y2="27.8" stroke="#c8c8c8" stroke-width="1.5"/>
<line x1="311" y1="27.8" x2="311" y2="307.4" stroke="#c8c8c8" stroke-width="1.5"/>
<line x1="58.8" y1="27.5" x2="58.8" y2="307.6" stroke="#666" stroke-width="1.1"/>
<line x1="58.5" y1="307.3" x2="311.5" y2="307.3" stroke="#999" stroke-width="1.2"/>
<text x="90.42" y="49.90" font-size="16.73" fill="#e0322b" stroke="#e0322b" stroke-width="0.25" textLength="36.71" lengthAdjust="spacingAndGlyphs">Down</text>
<text x="97.13" y="68.50" font-size="16.20" fill="#e0322b" stroke="#e0322b" stroke-width="0.25" textLength="23.59" lengthAdjust="spacingAndGlyphs">987</text>
<text x="229.06" y="49.70" font-size="16.58" fill="#2fb358" stroke="#2fb358" stroke-width="0.25" textLength="18.73" lengthAdjust="spacingAndGlyphs">Up</text>
<text x="226.38" y="68.70" font-size="16.49" fill="#2fb358" stroke="#2fb358" stroke-width="0.25" textLength="24.15" lengthAdjust="spacingAndGlyphs">897</text>
<text x="36.01" y="63.00" font-size="16.87" fill="#231f20" stroke="#231f20" stroke-width="0.25" textLength="18.39" lengthAdjust="spacingAndGlyphs">15</text>
<text x="37.22" y="134.80" font-size="16.63" fill="#231f20" stroke="#231f20" stroke-width="0.25" textLength="18.34" lengthAdjust="spacingAndGlyphs">10</text>
<text x="42.76" y="208.30" font-size="16.44" fill="#231f20" stroke="#231f20" stroke-width="0.25" textLength="8.90" lengthAdjust="spacingAndGlyphs">5</text>
<text x="43.34" y="302.50" font-size="16.20" fill="#231f20" stroke="#231f20" stroke-width="0.25" textLength="9.20" lengthAdjust="spacingAndGlyphs">0</text>
<text x="79.86" y="322.50" font-size="16.73" fill="#231f20" stroke="#231f20" stroke-width="0.25" textLength="14.62" lengthAdjust="spacingAndGlyphs">-4</text>
<text x="170.32" y="322.30" font-size="14.77" fill="#231f20" stroke="#231f20" stroke-width="0.25" textLength="9.43" lengthAdjust="spacingAndGlyphs">0</text>
<text x="245.94" y="322.50" font-size="16.73" fill="#231f20" stroke="#231f20" stroke-width="0.25" textLength="8.81" lengthAdjust="spacingAndGlyphs">4</text>
<text x="159.31" y="342.10" font-size="14.90" fill="#231f20" stroke="#231f20" stroke-width="0.25" textLength="43.20" lengthAdjust="spacingAndGlyphs">logFC</text>
<g transform="translate(22.90,252.10) rotate(-90)"><text x="-1.15" y="0" font-size="18.76" fill="#000" stroke="#000" stroke-width="0.25" textLength="157.43" lengthAdjust="spacingAndGlyphs">−log10(PValue)</text></g>
<text x="378.70" y="20.10" font-size="22.84" fill="#000" stroke="#000" stroke-width="0.25" textLength="16.16" lengthAdjust="spacingAndGlyphs">B</text>
<text x="533.49" y="17.60" font-size="19.78" fill="#231f20" stroke="#231f20" stroke-width="0.25" textLength="56.53" lengthAdjust="spacingAndGlyphs">LCWE</text>
<path d="M522 276h15v1h-15zM538 276h5v1h-5zM573 276h15v1h-15zM523 277h20v1h-20zM572 277h15v1h-15zM523 278h21v1h-21zM571 278h15v1h-15zM525 279h20v1h-20zM571 279h14v1h-14zM526 280h19v1h-19zM570 280h14v1h-14zM527 281h19v1h-19zM569 281h14v1h-14zM529 282h18v1h-18zM569 282h13v1h-13zM530 283h18v1h-18zM568 283h13v1h-13zM531 284h18v1h-18zM568 284h11v1h-11zM533 285h16v1h-16zM567 285h10v1h-10zM535 286h15v1h-15zM567 286h9v1h-9zM538 287h13v1h-13zM566 287h9v1h-9zM539 288h13v1h-13zM565 288h7v1h-7zM542 289h11v1h-11zM564 289h5v1h-5zM545 290h9v1h-9zM562 290h5v1h-5zM548 291h6v1h-6zM561 291h3v1h-3zM551 292h4v1h-4zM560 292h1v1h-1zM555 293h1v1h-1z" fill="#0a0a0a"/><path d="M543.0 289.6h0M549.4 286.4h0M544.3 290.3h0M530.6 276.9h0M555.2 292.3h0M540.7 275.8h0M526.9 280.1h0M542.8 289.9h0M552.5 293.0h0M542.2 289.4h0M552.0 289.5h0M550.8 287.8h0M531.3 275.7h0M550.2 292.5h0M526.9 280.5h0M553.8 293.0h0M550.9 291.9h0M551.4 288.4h0M553.3 292.3h0M555.3 293.8h0M548.9 291.8h0M556.1 293.5h0M545.9 281.5h0M551.8 292.3h0M553.9 293.5h0M553.8 293.4h0M553.0 292.8h0M534.4 285.1h0M553.5 292.2h0M525.5 279.5h0M550.6 291.8h0M554.8 292.5h0M555.7 293.9h0M540.8 288.4h0M556.4 293.7h0M556.9 293.9h0M555.6 293.8h0M554.5 292.7h0M539.4 288.3h0M532.1 284.5h0M549.1 291.6h0M553.9 292.3h0M555.9 294.0h0M541.8 288.7h0M543.1 289.3h0M554.6 293.3h0M554.7 293.7h0M532.6 276.0h0M544.4 289.4h0M549.0 291.1h0M530.1 283.1h0M532.9 285.6h0M550.0 287.6h0M549.4 286.9h0M555.5 292.6h0M542.7 277.4h0M538.3 287.8h0M540.3 288.0h0M536.0 286.3h0M543.2 289.6h0M542.4 290.0h0M532.4 276.7h0M557.2 294.3h0M552.1 292.8h0M538.0 276.5h0M553.1 291.9h0M526.7 276.4h0M550.9 292.5h0M550.0 291.7h0M547.9 290.6h0M537.9 277.6h0M554.4 291.4h0M545.6 280.4h0M556.4 294.0h0M541.6 289.0h0M544.7 279.8h0M527.6 277.0h0M555.1 293.1h0M523.7 276.3h0M551.6 292.9h0M547.1 290.0h0M533.3 276.7h0M545.2 290.2h0M535.9 276.1h0M537.2 276.4h0M554.4 293.2h0M549.9 292.2h0M550.2 291.0h0M553.8 291.4h0M537.5 286.2h0M546.9 290.6h0M555.0 292.8h0M528.9 275.8h0M550.0 292.0h0M549.5 291.6h0M544.2 290.4h0M542.6 275.9h0M536.7 286.0h0M543.7 278.8h0M557.0 294.1h0M530.6 283.8h0M547.9 291.3h0M530.9 283.6h0M547.7 290.2h0M541.4 288.9h0M536.4 286.6h0M540.0 275.8h0M530.1 275.7h0M548.9 291.6h0M535.4 286.3h0M538.2 287.6h0M549.2 291.8h0M553.5 292.0h0M539.9 288.9h0M544.9 289.2h0M537.3 286.2h0M546.6 282.3h0M552.3 292.2h0M526.1 276.4h0M547.7 291.3h0M534.7 285.5h0M546.6 291.3h0M546.3 281.9h0M524.4 278.7h0M546.7 290.1h0M544.5 289.3h0M538.9 288.2h0M539.2 288.2h0M541.8 289.2h0M525.0 276.3h0M538.6 287.5h0M554.2 292.2h0M547.1 291.3h0M544.6 290.4h0M545.2 290.6h0M523.9 277.5h0M553.1 289.8h0M526.5 280.5h0M546.8 291.6h0M549.4 291.9h0M542.1 276.3h0M525.0 279.6h0M538.2 288.2h0M529.2 276.1h0M551.1 292.2h0M552.8 293.1h0M549.5 291.4h0M552.4 289.0h0M552.7 292.9h0M550.7 291.2h0M548.5 284.0h0M554.4 292.2h0M544.9 280.9h0M548.0 291.9h0M549.5 292.3h0M547.1 290.4h0M531.8 284.0h0M550.4 291.4h0M551.3 292.6h0M525.0 278.7h0M531.3 284.5h0M546.0 280.9h0M533.9 276.6h0M533.9 285.5h0M545.4 290.3h0M538.9 288.0h0M555.8 293.3h0M526.8 281.0h0M535.5 277.0h0M548.6 291.6h0M549.3 291.3h0M528.8 281.1h0M553.4 291.1h0M551.4 292.0h0M549.3 285.7h0M553.2 290.7h0M543.6 289.9h0M536.2 286.9h0M553.3 291.3h0M535.8 275.7h0M521.6 276.6h0M532.1 276.8h0M542.5 289.7h0M542.8 277.8h0M551.5 292.3h0M519.9 276.0h0M541.8 288.3h0M540.5 289.0h0M547.0 290.9h0M544.0 289.0h0M537.2 287.3h0M541.4 288.3h0M552.7 289.9h0M541.4 288.2h0M521.9 276.6h0M524.9 275.8h0M548.1 291.4h0M551.3 288.3h0M543.7 278.4h0M537.7 287.2h0M534.8 286.2h0M550.9 291.6h0M554.8 292.8h0M546.6 290.0h0M544.9 289.5h0M527.1 281.4h0M525.3 279.9h0M550.9 287.6h0M545.9 291.1h0M557.0 294.2h0M553.8 291.1h0M527.7 282.4h0M543.6 290.2h0M545.6 281.1h0M549.0 285.2h0M553.6 293.4h0M528.6 282.7h0M551.4 288.6h0M540.5 288.7h0M547.2 291.5h0M547.9 283.9h0M553.1 293.1h0M545.6 290.7h0M547.5 290.9h0M544.5 290.6h0M528.2 281.4h0M554.2 291.7h0M547.6 291.7h0M537.7 287.7h0M554.7 291.7h0M528.3 276.7h0M525.7 279.8h0M539.7 288.5h0M542.2 276.2h0M526.1 280.2h0M533.9 285.2h0M544.2 290.1h0M534.8 276.2h0M554.1 293.3h0M534.3 285.4h0M554.0 291.9h0M550.8 287.3h0M542.6 276.3h0M527.1 276.9h0M544.9 290.6h0M532.6 284.3h0M551.8 288.5h0M547.3 282.5h0M544.0 289.7h0M543.1 277.7h0M526.5 280.6h0M536.5 287.3h0M545.5 291.2h0M534.7 285.1h0M521.0 276.5h0M545.1 279.3h0M536.9 286.4h0M552.9 292.4h0M539.4 276.5h0M538.2 276.0h0M527.4 281.5h0M539.4 288.7h0M533.8 286.0h0M535.5 286.8h0M524.1 276.8h0M544.7 279.1h0M524.1 275.7h0M525.8 276.7h0M547.7 283.4h0M528.2 281.8h0M525.0 275.9h0M521.8 276.6h0M553.8 290.5h0M552.2 288.9h0M528.1 282.2h0M538.4 287.3h0M528.6 282.7h0M539.4 288.9h0M545.6 290.1h0M546.3 290.2h0M540.4 288.4h0M539.4 275.8h0M531.6 284.9h0M555.7 293.1h0M556.6 293.8h0M532.7 285.4h0M525.2 276.9h0M552.9 289.6h0M533.6 285.5h0M531.0 284.2h0M532.2 275.8h0M525.8 281.0h0M541.5 289.2h0M533.7 275.7h0M529.4 276.3h0M554.2 292.8h0M532.7 276.9h0M547.0 290.7h0M548.1 285.1h0M543.5 289.5h0M526.7 275.8h0M555.6 292.6h0M522.6 277.2h0M530.2 283.3h0M528.0 275.7h0M536.3 286.1h0M526.9 281.7h0M539.4 276.8h0M545.1 281.6h0M520.3 276.1h0M536.0 276.2h0M541.2 289.4h0M546.8 291.3h0M542.9 289.3h0M546.1 290.4h0M534.3 276.1h0M536.6 276.6h0M553.3 290.5h0M537.3 286.5h0M543.4 289.1h0M544.3 290.1h0M545.3 291.1h0M553.4 291.4h0M546.4 282.3h0M537.6 276.8h0M540.3 276.1h0M541.3 275.7h0M537.5 277.3h0M541.8 276.8h0M555.3 293.8h0M550.2 292.1h0M533.8 285.3h0M552.5 293.0h0M534.5 286.2h0M523.8 276.2h0M537.3 277.0h0M535.9 287.1h0M554.0 290.8h0M554.6 293.4h0M524.2 278.3h0M534.1 275.9h0M550.2 287.1h0M532.0 275.8h0M530.1 283.5h0M538.0 286.4h0M542.0 276.1h0M539.6 275.6h0M533.0 284.9h0M541.3 289.1h0M541.2 276.5h0M522.3 277.2h0M531.3 276.7h0M540.8 289.1h0M537.1 277.2h0M525.0 276.3h0M543.2 277.1h0M538.9 287.0h0M529.7 282.5h0M539.5 288.0h0M541.8 289.8h0M537.1 287.6h0M522.6 275.6h0M528.8 281.8h0M549.2 286.7h0M543.1 290.2h0M540.7 288.7h0M537.9 287.2h0M524.7 279.6h0M528.5 276.1h0M548.6 285.8h0M523.6 277.8h0M529.8 282.6h0M533.7 276.6h0M546.1 290.9h0M535.9 276.6h0M529.4 276.1h0M548.5 291.8h0M536.9 287.2h0M535.5 286.5h0M552.6 289.5h0M544.9 289.9h0M544.4 280.1h0M549.0 285.3h0M533.7 276.7h0M537.4 286.8h0M525.9 276.7h0M531.5 276.6h0M533.4 276.2h0M536.7 287.6h0M537.9 287.9h0M547.7 290.5h0M536.4 275.9h0M535.1 276.0h0M553.4 290.7h0M554.8 291.9h0M537.5 286.8h0M524.0 279.3h0M525.4 275.6h0M539.9 288.2h0M523.9 276.4h0M529.0 282.5h0M555.9 293.0h0M554.3 291.3h0M533.0 285.6h0M551.7 288.2h0M529.4 277.0h0M528.5 281.1h0M540.8 276.5h0M537.8 286.1h0M533.6 275.9h0M551.7 288.7h0M549.6 286.5h0M545.9 281.2h0M522.0 275.9h0M523.8 278.1h0M532.5 276.2h0M531.2 276.2h0M544.7 280.2h0M523.2 278.6h0M532.0 284.7h0M537.4 277.4h0M529.3 282.8h0M523.0 276.7h0M548.3 284.8h0M541.4 289.7h0M531.2 275.9h0M535.4 276.5h0M523.6 276.7h0M536.8 287.0h0M528.6 276.3h0M543.9 278.4h0M543.6 278.2h0M524.8 279.8h0M542.0 290.0h0M526.7 276.9h0M533.1 275.7h0M524.7 279.1h0M549.0 284.7h0M531.4 284.0h0M527.1 282.0h0M545.6 281.7h0M531.7 284.2h0M549.7 285.9h0M542.3 278.0h0M528.3 282.4h0M548.6 291.4h0M550.4 287.5h0M529.1 275.6h0M526.8 276.1h0M530.4 276.3h0M570.1 289.2h0M569.1 289.8h0M561.8 291.5h0M563.0 290.5h0M564.4 289.3h0M563.7 291.4h0M578.4 276.2h0M560.9 292.1h0M572.1 277.7h0M567.3 290.1h0M557.5 294.2h0M558.7 293.7h0M560.9 292.7h0M568.9 289.3h0M576.6 286.5h0M567.3 289.5h0M559.3 292.8h0M563.7 290.1h0M569.3 288.1h0M559.0 293.2h0M557.5 294.2h0M559.8 292.5h0M558.0 294.0h0M559.4 293.4h0M571.0 279.2h0M558.4 293.8h0M567.9 289.7h0M564.4 289.7h0M562.9 290.8h0M560.8 292.6h0M564.2 290.7h0M575.0 276.5h0M564.2 290.7h0M563.4 289.8h0M572.7 277.5h0M563.5 290.5h0M565.0 288.3h0M568.8 282.4h0M560.0 292.8h0M571.6 277.3h0M559.8 293.2h0M559.0 293.4h0M566.7 287.1h0M561.0 291.7h0M558.2 293.8h0M570.1 288.8h0M562.0 292.5h0M564.4 290.2h0M563.4 290.9h0M569.2 288.4h0M560.0 293.3h0M567.6 289.8h0M567.0 289.3h0M559.5 292.6h0M576.8 285.6h0M563.3 291.8h0M561.4 291.0h0M562.3 291.6h0M562.5 290.6h0M563.1 291.3h0M585.0 279.7h0M562.2 292.0h0M561.0 292.7h0M560.5 292.2h0M565.9 290.6h0M572.3 276.7h0M558.5 293.8h0M561.6 292.2h0M567.7 284.5h0M568.7 283.5h0M568.8 289.5h0M564.1 290.4h0M569.6 289.3h0M562.1 290.6h0M565.9 290.4h0M564.4 288.8h0M561.3 291.2h0M583.1 276.9h0M564.7 289.4h0M577.2 276.5h0M563.8 290.0h0M561.4 292.3h0M577.0 285.7h0M565.4 291.1h0M563.0 290.8h0M562.6 291.7h0M560.2 293.1h0M565.0 291.2h0M566.8 290.5h0M570.0 288.4h0M564.7 290.1h0M586.4 277.4h0M567.6 289.4h0M560.3 293.0h0M562.4 292.2h0M572.1 287.0h0M565.6 290.9h0M569.1 289.3h0M583.7 275.8h0M571.9 288.4h0M565.2 290.2h0M560.4 292.1h0M562.9 291.1h0M564.1 289.7h0M564.8 291.0h0M563.4 291.7h0M567.0 286.8h0M582.2 276.1h0M566.3 290.4h0M565.7 287.9h0M565.6 288.8h0M580.3 276.0h0M581.2 276.5h0M569.3 282.8h0M565.8 288.5h0M566.3 286.9h0M570.2 288.1h0M568.0 289.8h0M561.9 291.2h0M561.4 291.9h0M577.6 276.9h0M570.7 288.8h0M569.0 281.8h0M562.5 290.1h0M564.0 291.7h0M564.2 291.0h0M567.6 285.6h0M564.6 290.3h0M561.1 292.4h0M572.9 276.0h0M565.0 288.4h0M560.7 293.0h0M566.4 287.8h0M568.3 284.8h0M564.9 288.8h0M570.4 288.6h0M565.2 290.3h0M588.3 276.2h0M568.6 290.0h0M570.3 288.7h0M564.5 290.2h0M562.6 292.4h0M562.2 291.3h0M569.9 289.4h0M570.9 279.5h0M568.8 284.2h0M565.5 290.5h0M563.5 289.3h0M576.4 275.9h0M573.8 275.6h0M572.4 288.3h0M573.4 276.5h0M566.7 286.7h0M575.4 276.3h0M561.1 291.8h0M570.0 282.4h0M570.0 288.0h0M569.2 288.7h0M566.0 287.6h0M563.2 291.9h0M577.8 284.5h0M572.4 275.9h0M564.0 289.0h0M565.6 288.4h0M565.4 288.9h0M573.2 287.9h0M571.4 278.5h0M568.3 289.7h0M567.7 289.7h0M572.8 277.2h0M563.6 289.7h0M566.8 286.3h0M570.8 279.9h0M562.0 290.6h0M562.7 292.2h0M562.8 292.1h0M563.0 289.7h0M559.5 292.5h0M567.9 286.7h0M568.5 289.3h0M568.2 283.4h0M580.1 283.5h0M570.9 281.0h0M580.5 284.1h0M567.8 284.2h0M571.1 288.4h0M564.7 289.1h0M570.9 278.7h0M571.9 278.6h0M564.9 290.8h0M572.8 277.9h0M566.1 287.1h0M580.5 276.4h0M567.0 286.1h0M570.5 279.9h0M571.0 288.6h0M572.2 287.3h0M574.1 276.8h0M573.4 287.1h0M570.2 289.4h0M567.4 285.8h0M571.6 279.3h0M583.6 276.8h0M566.6 286.5h0M561.5 291.4h0M566.4 290.9h0M573.4 287.4h0M576.4 285.3h0M568.2 284.3h0M573.5 276.8h0M566.8 290.8h0M573.0 287.6h0M577.0 284.9h0M571.3 277.7h0M581.2 283.1h0M573.3 287.3h0M579.3 276.2h0M571.5 278.7h0M579.8 284.5h0M568.9 285.0h0M569.8 288.4h0M562.5 290.4h0M568.4 283.3h0M587.2 276.2h0M566.1 290.1h0M579.7 276.5h0M566.8 287.9h0M562.8 290.2h0M559.6 293.4h0M561.8 290.8h0M571.6 277.9h0M563.8 289.3h0M565.7 287.3h0M570.4 289.2h0M566.5 287.4h0M572.7 287.1h0M564.0 291.3h0M573.5 276.1h0M568.9 284.4h0M567.5 284.9h0M579.6 275.7h0M578.7 284.5h0M568.7 289.9h0M569.7 289.5h0M568.0 285.0h0M569.7 288.9h0M569.9 280.1h0M585.5 276.8h0M570.4 279.6h0M560.1 292.1h0M582.5 281.4h0M566.8 287.7h0M585.2 275.9h0M572.4 277.2h0M577.5 276.0h0M569.9 280.6h0M578.2 275.7h0M573.9 287.5h0M577.5 276.4h0M575.0 287.4h0M572.1 277.1h0M567.8 289.2h0M585.4 278.2h0M567.6 290.3h0M567.4 290.4h0M569.6 281.0h0M567.8 286.5h0M572.4 277.8h0M561.8 292.6h0M576.8 276.0h0M565.3 288.1h0M584.1 279.2h0M565.4 290.7h0M575.3 286.9h0M574.1 276.0h0M577.6 285.1h0M564.9 288.2h0M564.7 291.4h0M576.2 285.5h0M577.8 276.4h0M567.6 286.6h0M573.5 288.0h0M569.0 282.6h0M558.6 293.3h0M572.1 277.8h0M583.8 276.1h0M571.5 288.3h0M570.2 280.6h0M585.8 278.4h0M569.0 281.7h0M569.9 282.8h0M561.4 292.6h0M570.8 288.3h0M586.0 276.6h0M583.2 281.3h0M567.0 285.2h0M574.5 276.5h0M575.5 276.1h0M564.5 291.4h0M576.0 285.1h0M566.3 287.3h0M576.4 276.5h0M570.5 280.9h0M569.9 281.6h0M578.7 285.0h0M575.9 286.5h0M583.0 280.8h0M577.1 285.1h0M572.7 276.8h0M577.4 277.0h0M569.5 282.6h0M572.0 288.8h0M571.2 278.7h0M586.2 276.9h0M569.5 282.4h0M572.5 277.5h0M562.8 290.1h0M571.0 289.1h0M579.5 276.9h0M570.4 279.2h0M573.5 287.5h0M578.9 276.4h0M580.9 275.7h0M576.7 276.8h0M569.3 281.3h0M581.4 282.1h0M576.3 286.2h0M575.4 276.2h0M566.7 285.8h0M574.3 288.1h0M567.3 286.2h0M579.0 275.7h0M585.6 279.5h0M583.8 276.3h0M572.2 287.7h0M575.5 286.8h0M559.0 293.0h0M583.1 276.2h0M568.7 282.1h0M568.1 283.5h0M573.3 276.7h0M560.5 291.7h0M567.0 285.3h0M568.2 290.3h0M577.9 285.5h0M577.5 285.7h0M563.6 291.8h0M578.0 276.9h0M583.3 276.3h0M575.1 286.1h0M567.3 284.7h0M566.0 291.0h0M567.8 285.6h0M582.8 281.5h0M568.6 284.1h0M571.6 288.7h0M569.0 282.7h0M572.7 276.4h0M575.1 275.7h0M577.4 275.6h0M572.6 288.1h0M580.4 283.2h0M567.6 285.2h0M581.6 276.0h0M581.5 276.2h0M566.4 286.1h0M587.6 276.5h0M573.5 276.2h0M568.6 282.8h0M574.5 275.8h0M568.5 284.3h0M575.1 287.3h0M562.9 289.8h0M574.4 276.8h0M574.7 275.7h0M566.1 286.9h0M577.1 284.0h0M580.1 276.7h0M574.7 276.8h0M575.2 276.1h0M570.1 280.7h0M578.4 284.6h0M572.8 275.7h0M577.5 284.9h0M575.1 286.2h0M570.6 280.5h0M582.0 276.7h0M578.4 276.1h0M572.5 288.1h0M580.7 283.3h0M582.3 282.5h0M582.3 275.7h0M586.9 277.7h0M587.6 276.2h0M577.8 285.3h0M576.2 275.8h0M582.0 281.6h0M574.2 276.0h0M569.7 281.0h0M584.8 279.0h0M586.0 277.1h0M565.9 288.7h0M573.2 276.1h0M574.4 287.7h0M573.5 288.2h0M587.3 277.6h0M575.5 287.4h0M567.6 286.5h0M577.1 276.1h0M565.6 287.6h0M570.8 289.0h0M585.2 276.4h0M584.3 275.6h0M582.7 276.5h0M571.9 279.4h0M585.5 276.1h0M583.6 281.2h0M571.3 279.4h0M573.9 275.6h0M572.8 288.2h0M582.8 276.9h0M579.6 283.1h0M569.6 281.9h0M577.4 284.5h0M584.0 276.7h0M586.3 277.6h0M582.2 276.4h0M566.2 291.0h0M569.8 281.7h0M572.5 276.4h0M571.4 279.2h0M584.3 276.1h0M578.1 275.8h0M563.4 289.4h0M584.4 276.5h0M581.1 276.7h0M572.0 276.9h0M560.9 291.4h0M587.0 275.6h0M574.7 287.9h0M567.2 290.6h0M567.7 285.9h0M581.7 282.5h0M568.7 283.1h0M578.4 284.0h0M564.6 288.4h0M561.4 291.0h0M578.4 284.4h0M571.7 278.3h0M585.9 275.8h0M567.3 285.8h0M579.5 283.6h0M582.1 275.7h0M585.9 278.6h0M582.9 276.1h0M573.4 288.2h0M579.9 275.6h0M585.2 278.9h0M584.0 275.8h0M583.9 280.4h0M580.9 276.1h0M571.8 277.5h0M576.9 276.3h0M576.5 286.3h0M580.4 275.8h0M568.6 282.5h0M579.2 283.4h0M580.1 276.0h0M574.8 287.5h0M577.9 284.8h0M575.6 286.6h0M586.6 278.2h0M568.0 284.2h0M582.5 276.3h0M576.6 276.7h0M575.3 276.8h0M582.8 281.1h0M574.0 287.2h0M579.0 283.1h0M571.2 278.0h0M581.5 276.9h0M578.8 275.9h0M579.1 283.9h0" stroke="#0a0a0a" stroke-width="2.16" stroke-linecap="round" fill="none"/>
<path d="M488 166h1v1h-1zM489 167h1v1h-1zM490 168h1v1h-1zM492 174h1v1h-1zM498 186h1v1h-1zM503 188h1v1h-1zM483 192h1v1h-1zM484 193h1v1h-1zM483 194h2v1h-2zM497 194h1v1h-1zM481 195h2v1h-2zM481 196h1v1h-1zM500 196h1v1h-1zM473 203h1v1h-1zM477 203h1v1h-1zM472 204h1v1h-1zM474 204h1v1h-1zM476 204h1v1h-1zM478 204h1v1h-1zM486 204h2v1h-2zM475 205h1v1h-1zM507 205h1v1h-1zM509 205h2v1h-2zM471 206h2v1h-2zM478 206h1v1h-1zM481 206h1v1h-1zM509 206h3v1h-3zM472 207h1v1h-1zM477 207h1v1h-1zM481 207h3v1h-3zM502 207h1v1h-1zM511 207h1v1h-1zM473 208h1v1h-1zM477 208h2v1h-2zM470 209h1v1h-1zM472 209h3v1h-3zM476 209h4v1h-4zM506 209h1v1h-1zM470 210h7v1h-7zM478 210h1v1h-1zM480 210h1v1h-1zM469 211h7v1h-7zM489 211h1v1h-1zM509 211h1v1h-1zM469 212h6v1h-6zM501 212h1v1h-1zM509 212h1v1h-1zM470 213h6v1h-6zM477 213h1v1h-1zM502 213h1v1h-1zM508 213h1v1h-1zM470 214h2v1h-2zM473 214h2v1h-2zM509 214h1v1h-1zM470 215h1v1h-1zM473 216h2v1h-2zM500 216h1v1h-1zM514 216h1v1h-1zM472 217h2v1h-2zM471 218h2v1h-2zM479 218h1v1h-1zM510 218h1v1h-1zM472 219h2v1h-2zM506 219h1v1h-1zM473 220h1v1h-1zM499 220h1v1h-1zM505 220h1v1h-1zM514 220h2v1h-2zM472 221h2v1h-2zM494 221h1v1h-1zM496 221h1v1h-1zM514 221h1v1h-1zM477 222h1v1h-1zM510 222h1v1h-1zM514 222h2v1h-2zM517 222h1v1h-1zM475 223h1v1h-1zM478 223h1v1h-1zM513 223h5v1h-5zM490 224h1v1h-1zM494 224h1v1h-1zM498 224h1v1h-1zM513 224h2v1h-2zM516 224h1v1h-1zM486 225h1v1h-1zM489 225h1v1h-1zM495 225h1v1h-1zM497 225h4v1h-4zM508 225h1v1h-1zM517 225h1v1h-1zM494 226h1v1h-1zM496 226h2v1h-2zM499 226h1v1h-1zM504 226h2v1h-2zM513 226h1v1h-1zM477 227h1v1h-1zM503 227h2v1h-2zM511 227h2v1h-2zM517 227h1v1h-1zM478 228h2v1h-2zM492 228h1v1h-1zM497 228h1v1h-1zM504 228h1v1h-1zM511 228h1v1h-1zM517 228h2v1h-2zM478 229h3v1h-3zM483 229h1v1h-1zM503 229h2v1h-2zM512 229h1v1h-1zM516 229h2v1h-2zM479 230h1v1h-1zM481 230h2v1h-2zM502 230h2v1h-2zM512 230h1v1h-1zM501 231h2v1h-2zM508 231h2v1h-2zM511 231h2v1h-2zM517 231h1v1h-1zM492 232h1v1h-1zM495 232h1v1h-1zM499 232h3v1h-3zM503 232h1v1h-1zM507 232h1v1h-1zM509 232h5v1h-5zM516 232h1v1h-1zM482 233h1v1h-1zM492 233h1v1h-1zM500 233h1v1h-1zM510 233h2v1h-2zM481 234h1v1h-1zM486 234h2v1h-2zM501 234h1v1h-1zM503 234h2v1h-2zM510 234h1v1h-1zM521 234h1v1h-1zM485 235h2v1h-2zM500 235h5v1h-5zM515 235h2v1h-2zM521 235h2v1h-2zM484 236h2v1h-2zM490 236h1v1h-1zM497 236h1v1h-1zM499 236h7v1h-7zM507 236h1v1h-1zM515 236h3v1h-3zM521 236h2v1h-2zM484 237h1v1h-1zM490 237h1v1h-1zM500 237h1v1h-1zM502 237h6v1h-6zM516 237h3v1h-3zM520 237h1v1h-1zM484 238h1v1h-1zM497 238h1v1h-1zM499 238h1v1h-1zM503 238h3v1h-3zM516 238h4v1h-4zM484 239h2v1h-2zM503 239h2v1h-2zM515 239h3v1h-3zM520 239h1v1h-1zM484 240h2v1h-2zM489 240h1v1h-1zM499 240h1v1h-1zM503 240h3v1h-3zM511 240h2v1h-2zM515 240h2v1h-2zM521 240h1v1h-1zM500 241h1v1h-1zM504 241h1v1h-1zM508 241h5v1h-5zM516 241h2v1h-2zM520 241h3v1h-3zM492 242h2v1h-2zM500 242h1v1h-1zM505 242h1v1h-1zM509 242h5v1h-5zM515 242h1v1h-1zM517 242h7v1h-7zM492 243h3v1h-3zM496 243h2v1h-2zM499 243h2v1h-2zM504 243h1v1h-1zM510 243h3v1h-3zM514 243h1v1h-1zM518 243h5v1h-5zM492 244h1v1h-1zM496 244h2v1h-2zM503 244h3v1h-3zM509 244h3v1h-3zM519 244h4v1h-4zM525 244h1v1h-1zM503 245h7v1h-7zM511 245h2v1h-2zM520 245h2v1h-2zM525 245h1v1h-1zM504 246h3v1h-3zM508 246h1v1h-1zM512 246h3v1h-3zM517 246h1v1h-1zM519 246h4v1h-4zM499 247h1v1h-1zM505 247h1v1h-1zM512 247h1v1h-1zM519 247h3v1h-3zM500 248h1v1h-1zM502 248h1v1h-1zM504 248h3v1h-3zM511 248h1v1h-1zM520 248h1v1h-1zM499 249h1v1h-1zM506 249h2v1h-2zM509 249h4v1h-4zM514 249h1v1h-1zM519 249h2v1h-2zM526 249h2v1h-2zM493 250h1v1h-1zM497 250h4v1h-4zM502 250h1v1h-1zM507 250h6v1h-6zM514 250h1v1h-1zM519 250h3v1h-3zM527 250h1v1h-1zM498 251h2v1h-2zM506 251h6v1h-6zM520 251h3v1h-3zM526 251h1v1h-1zM507 252h1v1h-1zM509 252h4v1h-4zM514 252h1v1h-1zM519 252h6v1h-6zM526 252h1v1h-1zM529 252h1v1h-1zM498 253h2v1h-2zM502 253h3v1h-3zM506 253h1v1h-1zM510 253h3v1h-3zM514 253h10v1h-10zM498 254h10v1h-10zM509 254h1v1h-1zM511 254h1v1h-1zM515 254h10v1h-10zM499 255h1v1h-1zM501 255h8v1h-8zM515 255h11v1h-11zM502 256h8v1h-8zM511 256h2v1h-2zM514 256h11v1h-11zM502 257h6v1h-6zM509 257h17v1h-17zM527 257h2v1h-2zM503 258h4v1h-4zM510 258h22v1h-22zM503 259h5v1h-5zM510 259h22v1h-22zM499 260h1v1h-1zM505 260h3v1h-3zM511 260h5v1h-5zM517 260h14v1h-14zM506 261h3v1h-3zM510 261h5v1h-5zM518 261h14v1h-14zM506 262h2v1h-2zM509 262h7v1h-7zM517 262h11v1h-11zM529 262h4v1h-4zM505 263h1v1h-1zM510 263h17v1h-17zM530 263h4v1h-4zM509 264h19v1h-19zM529 264h6v1h-6zM507 265h26v1h-26zM534 265h2v1h-2zM508 266h24v1h-24zM535 266h2v1h-2zM509 267h4v1h-4zM514 267h19v1h-19zM534 267h3v1h-3zM515 268h18v1h-18zM535 268h2v1h-2zM514 269h12v1h-12zM527 269h5v1h-5zM536 269h2v1h-2zM513 270h12v1h-12zM528 270h5v1h-5zM535 270h4v1h-4zM514 271h12v1h-12zM527 271h13v1h-13zM515 272h17v1h-17zM533 272h7v1h-7zM516 273h15v1h-15zM534 273h7v1h-7zM518 274h7v1h-7zM526 274h6v1h-6zM533 274h3v1h-3zM537 274h5v1h-5z" fill="#da2f28"/><path d="M529.2 255.6h0M490.2 212.7h0M514.4 249.3h0M482.4 222.9h0M517.3 222.6h0M481.7 233.8h0M510.1 223.4h0M528.7 274.1h0M493.4 241.3h0M504.4 235.4h0M491.7 187.2h0M492.2 220.3h0M479.1 190.4h0M483.1 209.0h0M515.0 262.0h0M497.8 254.9h0M520.2 275.4h0M483.5 229.3h0M491.7 211.6h0M513.0 210.4h0M479.6 198.1h0M475.1 209.5h0M503.0 261.9h0M489.3 237.7h0M530.6 275.4h0M508.8 210.6h0M511.8 224.5h0M472.1 221.2h0M492.6 225.3h0M492.7 228.6h0M486.6 229.9h0M496.5 226.6h0M482.3 227.3h0M498.6 205.6h0M481.9 205.1h0M473.8 217.3h0M490.9 201.0h0M497.9 244.9h0M522.5 274.3h0M515.9 244.0h0M494.0 234.4h0M501.5 216.5h0M527.1 255.6h0M509.5 232.8h0M525.0 251.1h0M501.5 229.7h0M524.2 251.5h0M480.3 201.4h0M502.6 251.2h0M518.0 239.3h0M509.3 240.6h0M497.8 227.2h0M482.4 179.6h0M478.8 211.8h0M529.7 274.6h0M518.4 244.7h0M497.0 252.9h0M511.6 211.3h0M514.7 246.9h0M500.8 237.1h0M499.1 240.0h0M501.1 237.1h0M495.6 171.2h0M486.3 228.3h0M536.7 268.9h0M532.0 259.5h0M538.4 270.8h0M501.5 192.4h0M488.8 234.8h0M524.7 244.8h0M497.8 249.3h0M478.7 215.3h0M505.4 194.5h0M497.3 220.5h0M486.5 174.3h0M506.9 266.7h0M493.0 214.7h0M489.0 190.7h0M535.4 266.3h0M518.5 249.8h0M470.9 214.6h0M488.8 223.8h0M532.9 274.4h0M492.6 177.9h0M499.1 246.7h0M513.6 227.0h0M530.3 258.9h0M518.5 274.7h0M509.0 211.4h0M506.1 250.1h0M537.0 267.0h0M505.3 243.4h0M479.0 232.2h0M489.9 223.3h0M487.5 166.6h0M483.7 206.4h0M497.4 217.2h0M513.9 240.7h0M517.6 223.0h0M486.1 177.1h0M480.0 205.0h0M493.8 232.1h0M481.5 188.1h0M488.0 206.1h0M517.0 244.0h0M496.5 256.0h0M499.6 178.3h0M518.8 261.7h0M531.0 274.9h0M526.7 263.4h0M516.7 229.3h0M504.3 249.6h0M507.8 236.3h0M525.8 252.7h0M514.9 261.6h0M475.7 211.5h0M509.4 267.8h0M517.9 236.4h0M500.7 249.9h0M506.1 265.1h0M527.2 271.1h0M505.7 219.8h0M526.3 272.4h0M504.0 189.7h0M493.7 207.1h0M514.6 261.7h0M517.3 273.7h0M505.5 261.5h0M534.2 267.3h0M507.9 203.9h0M502.0 229.5h0M503.2 182.1h0M493.5 240.1h0M508.6 242.3h0M512.3 207.1h0M493.8 218.8h0M513.6 219.5h0M525.9 244.0h0M513.1 267.5h0M497.9 237.1h0M495.6 181.8h0M507.9 206.0h0M506.1 222.8h0M529.0 274.8h0M508.7 260.6h0M492.1 194.6h0M483.1 208.7h0M498.6 226.3h0M534.5 274.2h0M475.0 223.4h0M504.4 242.1h0M478.9 212.1h0M496.8 223.0h0M506.7 265.6h0M517.0 262.7h0M479.8 191.7h0M496.4 165.7h0M477.7 226.5h0M502.7 221.1h0M488.2 228.4h0M498.5 232.6h0M519.3 250.1h0M514.5 221.5h0M489.1 177.9h0M508.3 227.7h0M522.8 238.0h0M517.7 273.2h0M542.0 275.2h0M492.2 238.4h0M506.3 263.0h0M498.7 256.2h0M498.1 257.4h0M524.6 239.3h0M523.0 251.8h0M502.6 256.5h0M495.1 234.5h0M487.9 211.6h0M526.8 271.6h0M473.5 202.3h0M481.1 202.8h0M523.5 246.5h0M531.2 269.7h0M527.8 270.3h0M531.0 258.9h0M515.3 221.3h0M501.1 232.8h0M506.9 266.5h0M492.7 189.4h0M486.7 205.1h0M485.9 236.6h0M513.7 230.5h0M499.1 172.2h0M511.9 267.9h0M482.5 190.0h0M497.3 186.6h0M483.4 192.0h0M509.2 252.1h0M472.8 206.4h0M504.5 263.6h0M520.6 229.2h0M534.2 268.6h0M482.6 225.8h0M475.0 206.7h0M523.6 275.4h0M535.1 265.9h0M473.3 221.1h0M484.4 218.2h0M525.0 245.6h0M489.1 203.1h0M498.5 253.4h0M471.3 217.5h0M509.8 262.2h0M472.3 217.7h0M513.3 256.3h0M499.7 231.8h0M526.3 268.0h0M492.4 175.6h0M496.8 185.9h0M492.8 200.4h0M486.5 173.3h0M501.2 253.6h0M469.5 211.4h0M489.9 201.1h0M478.2 231.0h0M512.7 247.3h0M472.5 222.1h0M468.9 212.6h0M504.4 241.1h0M512.4 270.3h0M492.2 213.5h0M503.5 253.2h0M485.6 232.1h0M511.4 226.6h0M517.2 236.5h0M478.4 193.2h0M513.0 266.0h0M499.5 248.2h0M496.0 243.5h0M532.1 269.1h0M511.2 207.1h0M469.3 213.5h0M471.5 215.3h0M510.4 215.1h0M504.5 230.3h0M518.9 237.7h0M511.7 233.2h0M519.4 248.1h0M528.5 256.5h0M499.1 233.0h0M512.3 248.9h0M497.1 199.8h0M532.2 266.4h0M505.7 254.3h0M482.8 230.1h0M540.4 273.5h0M500.9 181.0h0M479.5 227.4h0M529.8 262.0h0M508.5 224.9h0M519.0 275.1h0M473.1 207.1h0M529.8 257.6h0M508.9 212.8h0M491.3 182.0h0M522.1 274.4h0M526.5 274.3h0M518.0 241.7h0M496.7 255.8h0M490.2 205.0h0M534.9 271.5h0M540.4 271.7h0M489.9 203.4h0M500.7 216.0h0M491.6 188.0h0M511.0 232.7h0M534.2 273.9h0M524.8 245.2h0M485.7 214.3h0M475.3 218.1h0M533.8 272.9h0M482.4 234.5h0M487.3 239.9h0M496.3 236.8h0M528.0 264.0h0M518.7 274.2h0M473.1 217.9h0M509.0 252.5h0M489.8 226.6h0M510.4 253.2h0M485.8 177.9h0M483.2 220.6h0M511.2 238.1h0M487.3 223.6h0M518.5 262.0h0M535.7 270.7h0M487.9 223.6h0M511.2 237.1h0M483.7 212.3h0M485.1 232.1h0M477.5 198.5h0M500.7 228.5h0M503.6 234.4h0M476.7 205.5h0M517.4 252.6h0M511.0 239.1h0M494.8 226.5h0M515.6 260.8h0M485.2 231.4h0M493.0 186.9h0M502.8 253.2h0M508.3 264.5h0M509.0 247.8h0M491.8 169.6h0M509.9 267.4h0M516.4 240.3h0M514.9 254.7h0M481.7 193.6h0M503.5 259.4h0M491.1 223.5h0M516.9 224.7h0M526.5 252.1h0M513.4 266.9h0M478.2 219.0h0M493.5 204.3h0M477.3 215.5h0M473.1 203.4h0M531.2 260.5h0M500.0 251.5h0M513.2 245.9h0M509.5 254.2h0M510.7 260.6h0M508.1 261.9h0M513.0 226.4h0M518.1 261.3h0M524.5 274.8h0M514.4 219.9h0M496.8 200.1h0M478.1 204.7h0M526.1 255.3h0M472.9 213.8h0M497.5 207.4h0M482.2 208.1h0M519.9 274.4h0M533.1 259.2h0M502.2 256.8h0M527.2 269.7h0M489.3 232.9h0M478.5 213.0h0M506.5 217.7h0M529.9 257.1h0M479.5 219.9h0M531.2 266.5h0M475.9 211.7h0M500.5 171.4h0M491.1 174.4h0M491.5 214.8h0M517.5 244.3h0M499.5 215.6h0M503.1 190.8h0M509.8 256.1h0M513.0 226.3h0M495.5 169.8h0M507.0 263.9h0M491.0 228.8h0M501.3 256.0h0M490.1 212.4h0M527.9 274.7h0M513.5 266.8h0M513.5 241.1h0M491.0 197.4h0M509.7 221.5h0M512.3 248.7h0M475.0 204.5h0M493.5 210.6h0M485.5 229.4h0M510.1 234.9h0M514.3 227.8h0M471.0 218.5h0M515.9 220.2h0M499.8 216.4h0M534.3 265.2h0M507.6 224.5h0M535.0 268.3h0M529.6 254.8h0M501.2 243.7h0M500.0 195.9h0M476.3 201.4h0M531.9 274.6h0M511.0 249.7h0M507.2 233.2h0M481.5 234.2h0M534.3 264.8h0M538.9 270.7h0M480.3 214.4h0M494.8 231.6h0M522.0 274.9h0M474.5 220.9h0M506.0 253.1h0M508.2 240.1h0M521.5 275.5h0M509.8 249.0h0M486.9 233.8h0M521.8 232.4h0M499.7 259.1h0M508.2 242.0h0M507.4 218.4h0M516.8 232.5h0M525.6 252.0h0M530.1 274.1h0M508.9 254.3h0M479.1 221.9h0M507.9 254.5h0M536.8 266.5h0M509.2 226.0h0M475.7 212.3h0M538.1 270.7h0M529.5 257.7h0M503.6 259.9h0M507.6 213.3h0M496.5 239.6h0M471.8 210.1h0M488.3 165.6h0M495.9 195.8h0M500.2 234.2h0M507.7 266.1h0M501.5 237.3h0M481.0 184.9h0M523.2 238.6h0M496.6 153.1h0M490.2 236.1h0M503.7 240.9h0M471.0 215.5h0M474.7 215.7h0M540.8 275.1h0M526.8 274.8h0M506.2 212.4h0M532.7 257.5h0M500.5 244.1h0M476.7 214.8h0M483.7 201.5h0M502.3 190.7h0M482.8 206.6h0M475.9 224.9h0M497.9 197.6h0M495.4 224.0h0M540.3 275.5h0M513.2 247.2h0M527.4 264.5h0M471.7 218.1h0M507.0 231.3h0M499.7 235.9h0M481.7 226.5h0M519.4 246.1h0M508.7 245.7h0M519.3 275.5h0M492.5 156.4h0M541.4 275.6h0M490.5 248.9h0M507.8 236.9h0M514.0 256.2h0M488.0 245.4h0M470.0 213.8h0M541.4 273.6h0M496.6 218.9h0M511.3 237.9h0M514.0 211.0h0M476.9 204.3h0M510.2 231.9h0M497.6 240.4h0M527.3 271.4h0M487.9 239.2h0M484.3 240.7h0M480.0 191.9h0M476.0 218.6h0M530.9 273.3h0M525.7 274.5h0M492.4 208.2h0M527.8 264.2h0M489.4 163.3h0M498.4 247.0h0M485.4 224.5h0M481.0 221.0h0M485.0 215.7h0M509.6 243.4h0M502.7 220.7h0M496.8 170.4h0M471.3 207.2h0M506.5 230.9h0M480.5 211.4h0M484.0 193.7h0M525.6 270.1h0M517.6 260.7h0M505.6 188.6h0M513.7 267.4h0M519.7 247.0h0M494.3 242.6h0M537.4 269.4h0M518.9 225.1h0M535.5 269.8h0M500.5 225.0h0M501.6 251.2h0M537.1 269.1h0M526.4 268.7h0M506.2 205.8h0M509.3 221.6h0M506.3 210.1h0M508.3 211.4h0M496.1 254.0h0M528.0 274.2h0M514.6 221.6h0M494.1 246.1h0M508.3 199.5h0M523.0 236.8h0M485.1 186.3h0M498.3 166.5h0M525.1 246.3h0M516.1 262.9h0M509.6 229.5h0M514.6 251.8h0M531.6 260.5h0M478.2 203.6h0M509.8 262.9h0M536.8 273.1h0M533.5 265.6h0M483.6 232.4h0M479.4 205.2h0M479.2 228.0h0M472.0 209.5h0M481.2 209.0h0M511.0 253.9h0M491.1 237.5h0M514.9 239.9h0M488.0 218.5h0M520.6 236.0h0M509.8 209.2h0M513.2 210.4h0M491.3 207.8h0M493.4 174.6h0M523.0 240.0h0M500.1 240.6h0M512.9 247.7h0M518.7 253.3h0M503.7 181.1h0M528.0 250.8h0M528.9 275.4h0M511.4 229.4h0M512.4 269.3h0M533.6 270.5h0M521.6 237.6h0M532.4 268.7h0M527.9 271.4h0M527.1 271.5h0M502.2 245.8h0M499.6 253.0h0M479.0 210.1h0M493.1 181.3h0M500.0 238.7h0M473.1 216.3h0M534.1 264.8h0M489.7 190.2h0M497.8 160.3h0M516.9 250.1h0M486.1 209.7h0M508.2 241.8h0M500.7 244.4h0M499.8 170.6h0M496.3 251.1h0M484.9 203.4h0M471.4 219.5h0M488.9 219.8h0M489.4 215.3h0M482.0 213.0h0M479.5 233.1h0M499.0 206.0h0M476.6 209.2h0M511.0 228.7h0M514.7 247.1h0M525.5 246.3h0M496.3 207.0h0M502.7 205.3h0M484.1 183.8h0M517.6 228.4h0M501.5 180.9h0M493.4 175.1h0M517.1 236.8h0M503.8 245.3h0M499.7 179.1h0M497.4 239.4h0M509.9 261.8h0M505.7 244.2h0M510.4 258.8h0M489.4 218.0h0M498.7 188.6h0M515.7 215.9h0M497.8 250.0h0M532.7 271.9h0M485.5 183.5h0M469.3 211.6h0M482.8 178.8h0M474.2 204.5h0M507.5 246.4h0M503.2 194.3h0M502.8 230.7h0M481.4 186.8h0M517.6 239.3h0M513.3 266.0h0M479.2 213.3h0M490.9 215.3h0M474.2 214.4h0M527.1 269.3h0M474.8 216.2h0M504.8 220.2h0M482.8 232.4h0M475.8 216.2h0M508.6 250.3h0M510.2 267.2h0M508.7 227.1h0M502.9 250.1h0M509.4 235.0h0M510.3 217.2h0M532.9 271.2h0M484.0 229.6h0M496.6 244.8h0M505.3 220.2h0M481.1 229.9h0M528.6 275.1h0M509.2 214.0h0M524.2 274.1h0M515.5 262.7h0M524.5 239.4h0M482.7 203.9h0M514.4 269.0h0M523.2 246.8h0M513.9 253.8h0M477.2 215.1h0M498.3 250.3h0M533.4 270.5h0M517.2 225.9h0M473.1 218.1h0M522.8 274.9h0M508.6 251.0h0M478.1 208.0h0M470.8 219.3h0M496.4 176.0h0M489.8 180.2h0M509.7 257.8h0M502.4 192.5h0M495.0 173.3h0M504.4 250.9h0M521.0 245.8h0M515.8 223.5h0M518.2 227.4h0M469.0 212.0h0M484.7 230.9h0M516.0 227.1h0M491.7 208.0h0M496.9 238.3h0M496.9 172.5h0M512.7 231.9h0M512.6 248.1h0M487.4 235.1h0M487.4 208.8h0M489.4 210.9h0M540.6 275.4h0M510.7 235.3h0M536.2 264.4h0M484.8 196.1h0M513.9 249.4h0M498.7 251.6h0M499.9 182.0h0M504.4 220.6h0M506.1 265.9h0M481.4 217.4h0M479.4 198.1h0M481.0 233.0h0M485.4 185.6h0M499.0 219.9h0M533.5 273.6h0M537.4 275.0h0M487.3 212.8h0M509.4 246.0h0M485.9 229.9h0M513.7 226.3h0M499.9 165.1h0M514.9 219.7h0M512.7 246.6h0M509.1 206.6h0M501.0 170.6h0M491.4 232.9h0M488.0 204.3h0M513.0 226.7h0M475.8 225.7h0M499.6 193.5h0M524.0 270.2h0M500.7 195.6h0M508.2 250.2h0M489.9 224.7h0M493.2 172.8h0M539.4 270.2h0M508.7 254.6h0M488.5 194.7h0M502.9 239.1h0M526.7 268.8h0M494.2 167.2h0M525.3 243.6h0M505.2 242.9h0M500.5 242.1h0M530.7 274.1h0M515.9 229.3h0M517.2 230.9h0M483.8 205.1h0M498.9 243.9h0M504.6 191.7h0M497.7 224.6h0M469.5 213.9h0M504.3 189.2h0M517.3 231.8h0M517.3 240.4h0M480.0 214.0h0M480.4 225.9h0M537.5 268.1h0M538.6 274.5h0M480.4 190.5h0M500.5 241.1h0M509.2 230.1h0M499.2 242.0h0M506.3 246.5h0M496.7 250.8h0M500.7 241.5h0M533.1 272.1h0M492.1 197.6h0M501.4 225.6h0M496.8 255.0h0M515.2 222.3h0M511.3 251.1h0M515.9 260.4h0M480.5 206.3h0M508.1 227.5h0M518.4 235.2h0M483.6 191.3h0M514.6 248.7h0M496.9 245.2h0M539.6 271.6h0M535.7 268.3h0M497.8 185.5h0M538.6 269.5h0M480.2 193.5h0M511.3 208.7h0M511.8 239.2h0M503.1 253.6h0M524.6 275.4h0M495.8 240.9h0M507.3 260.3h0M508.0 248.1h0M494.6 209.2h0M534.8 273.9h0M509.4 252.0h0M511.1 229.2h0M514.3 254.9h0M489.8 194.1h0M481.4 235.6h0M521.3 249.0h0M516.5 274.0h0M482.2 194.7h0M528.0 252.6h0M493.7 226.4h0M496.0 232.5h0M500.9 190.1h0M487.5 164.7h0M509.5 215.7h0M495.7 233.7h0M489.4 225.0h0M491.6 209.1h0M500.1 217.7h0M509.4 245.1h0M507.5 195.3h0M510.8 215.8h0M509.3 267.2h0M490.4 203.9h0M508.5 193.9h0M482.8 203.6h0M479.8 218.0h0M501.2 197.4h0M517.0 253.6h0M486.7 234.3h0M498.8 194.6h0M470.9 206.7h0M508.1 240.9h0M506.8 244.8h0M502.8 259.1h0M513.1 227.3h0M491.1 160.4h0M505.0 249.1h0M507.7 257.5h0M507.3 264.3h0M508.9 256.6h0M500.5 258.7h0M515.8 260.9h0M494.1 182.7h0M496.0 189.0h0M488.1 186.0h0M473.9 203.2h0M524.3 253.6h0M530.7 263.8h0M504.9 205.2h0M508.5 261.1h0M496.9 225.4h0M497.4 236.0h0M487.3 204.9h0M514.8 232.9h0M538.7 269.3h0M507.9 192.1h0M528.4 261.2h0M493.7 238.0h0M504.5 246.6h0M517.7 245.4h0M477.2 203.1h0M493.5 236.7h0M524.3 254.2h0M512.8 245.6h0M541.4 273.4h0M505.2 195.1h0M499.8 205.2h0M532.3 266.8h0M489.4 236.4h0M502.0 263.2h0M518.1 225.5h0M537.3 274.2h0M489.5 247.9h0M487.0 168.2h0M485.4 235.0h0M481.9 183.8h0M504.3 263.5h0M512.8 255.0h0M496.2 210.4h0M505.0 211.9h0M502.9 239.4h0M502.4 250.7h0M519.5 242.9h0M515.4 223.7h0M498.8 240.5h0M508.0 218.8h0M503.3 258.3h0M505.6 262.5h0M471.1 215.9h0M516.7 259.7h0M501.2 186.1h0M512.1 243.5h0M483.2 195.6h0M487.4 226.7h0M502.5 229.9h0M491.2 224.1h0M510.8 260.6h0M512.2 230.6h0M502.0 239.1h0M502.9 227.7h0M492.7 231.0h0M469.4 211.3h0M519.3 251.0h0M507.4 264.7h0M508.6 214.5h0M511.1 222.4h0M483.8 240.3h0M502.2 176.1h0M527.1 252.2h0M500.8 216.9h0M507.2 238.2h0M497.6 250.5h0M508.1 244.4h0M520.0 228.5h0M533.6 275.6h0M495.1 216.9h0M501.3 241.8h0M510.1 223.7h0M474.0 212.5h0M497.8 242.9h0M531.1 261.2h0M516.0 250.6h0M513.6 256.4h0M502.7 247.2h0M513.8 250.4h0M531.7 273.0h0M499.8 241.4h0M540.6 273.2h0M534.9 266.1h0M496.3 236.5h0M483.9 225.2h0M513.7 233.0h0M480.9 185.4h0M488.0 209.7h0M522.1 234.8h0M504.3 246.5h0M515.0 224.7h0M536.7 268.2h0M516.4 237.9h0M510.7 259.7h0M505.8 229.5h0M502.5 257.1h0M474.0 208.8h0M509.3 262.4h0M533.8 265.6h0M511.4 205.0h0M517.3 231.3h0M477.2 203.7h0M473.9 223.7h0M539.7 272.2h0M514.6 247.4h0M509.0 268.7h0M522.9 244.9h0M532.9 270.7h0M536.9 269.4h0M486.9 212.9h0M474.3 226.0h0M493.0 241.3h0M489.0 203.9h0M478.2 232.5h0M505.5 249.5h0M492.8 249.3h0M489.4 197.3h0M526.0 274.2h0M494.9 243.0h0M504.2 203.2h0M500.2 215.4h0M531.2 273.9h0M526.8 272.3h0M516.0 232.2h0M483.8 236.4h0M532.6 261.4h0M516.7 252.7h0M497.6 258.4h0M533.1 274.9h0M505.7 209.0h0M521.5 247.8h0M504.6 218.0h0M514.4 243.0h0M500.8 253.9h0M535.9 270.1h0M479.8 215.8h0M472.0 205.1h0M507.9 240.8h0M474.2 206.1h0M503.5 213.5h0M488.8 237.6h0M491.8 165.5h0M496.2 203.6h0M526.1 258.1h0M508.8 226.3h0M491.2 238.4h0M518.3 238.7h0M493.0 250.9h0M487.2 226.0h0M497.2 229.0h0M491.4 170.2h0M515.1 272.1h0M472.4 206.6h0M499.5 221.0h0M503.1 176.4h0M470.8 213.9h0M515.9 254.8h0M507.2 210.1h0M492.9 190.8h0M524.6 251.6h0M506.5 219.2h0M507.4 241.2h0M532.5 274.3h0M534.0 270.8h0M513.4 231.9h0M513.9 225.5h0M497.1 226.6h0M479.9 193.6h0M470.0 209.8h0M531.6 274.3h0M501.4 179.6h0M531.4 266.9h0M509.3 253.6h0M471.4 205.8h0M519.2 228.3h0M506.2 242.7h0M501.3 247.2h0M496.2 242.7h0M493.5 244.6h0M508.1 265.4h0M488.3 239.9h0M528.1 249.7h0M535.8 275.1h0M496.6 205.6h0M476.5 214.7h0M501.1 237.9h0M541.0 275.4h0M499.8 214.1h0M508.8 256.8h0M481.1 185.5h0M514.0 242.3h0M488.6 201.4h0M499.8 221.0h0M517.8 243.5h0M477.2 213.8h0M511.1 231.2h0M486.5 208.2h0M501.2 211.9h0M504.0 248.6h0M490.2 195.0h0M492.4 227.3h0M524.8 274.9h0M487.4 200.3h0M510.3 268.3h0M513.8 250.9h0M528.1 265.3h0M527.2 248.8h0M482.8 200.2h0M522.3 274.8h0M516.0 241.8h0M489.0 177.5h0M486.6 236.0h0M512.4 270.9h0M513.8 218.7h0M529.9 255.6h0M501.7 257.2h0M500.9 224.1h0M491.6 198.8h0M512.0 245.4h0M492.5 233.6h0M524.8 254.3h0M513.3 243.2h0M515.7 253.1h0M529.6 274.8h0M528.0 256.5h0M493.9 167.6h0M503.6 230.5h0M501.2 231.0h0M510.8 261.7h0M516.0 273.1h0M474.5 203.6h0M531.4 257.9h0M472.2 220.0h0M511.0 253.2h0M498.8 252.8h0M480.5 207.2h0M530.7 274.7h0M484.6 196.9h0M518.1 226.2h0M504.9 248.5h0M513.5 266.4h0M532.9 267.3h0M482.2 234.5h0M507.8 234.0h0M506.5 233.0h0M477.2 208.0h0M510.9 241.7h0M502.6 251.7h0M497.7 224.4h0M533.5 274.5h0M491.5 177.6h0M482.2 236.7h0M512.6 256.4h0M482.2 221.4h0M507.0 253.4h0M533.4 275.1h0M518.9 233.3h0M492.0 239.0h0M513.9 229.6h0M475.9 223.4h0M509.1 246.3h0M528.1 249.4h0M491.1 211.8h0M477.8 227.4h0M518.8 235.2h0M510.1 240.5h0M515.0 243.3h0M500.7 253.3h0M505.2 260.6h0M526.0 256.0h0M483.6 185.2h0M514.7 246.0h0M508.9 231.5h0M487.1 221.8h0M506.8 231.1h0M509.4 242.7h0M499.8 186.9h0M530.4 255.5h0M499.4 179.4h0M532.1 274.6h0M479.9 215.4h0M526.4 254.9h0M532.7 266.5h0M473.9 203.5h0M504.9 227.2h0M482.8 182.7h0M532.4 258.5h0M494.6 236.5h0M516.6 240.1h0M486.7 206.8h0M531.4 258.9h0M513.5 242.4h0M495.8 168.8h0M478.4 211.3h0M503.0 252.6h0M483.0 230.8h0M506.1 247.7h0M476.5 209.8h0M521.8 275.4h0M496.6 227.0h0M505.9 223.2h0M506.1 261.2h0M512.5 227.6h0M501.1 205.0h0M512.8 232.2h0M515.6 237.9h0M489.2 248.6h0M513.9 270.9h0M513.0 230.4h0M486.4 230.8h0M511.1 240.1h0M493.1 217.5h0M501.2 242.8h0M510.6 212.8h0M497.0 222.2h0M522.7 244.0h0M508.1 206.4h0M506.9 219.9h0M492.7 193.2h0M509.3 267.7h0M520.8 245.5h0M474.1 204.8h0M504.5 233.2h0M478.9 200.3h0M534.0 268.6h0M520.6 238.9h0M493.6 221.3h0M514.9 256.6h0M496.6 254.3h0M505.2 192.0h0M509.6 244.7h0M514.8 235.4h0M512.5 230.5h0M525.4 256.0h0M504.0 250.8h0M516.3 222.5h0M501.7 216.2h0M533.8 272.5h0M494.7 231.4h0M519.9 237.3h0M477.8 212.5h0M504.7 210.2h0M515.2 249.1h0M481.7 212.3h0M507.2 192.5h0M476.6 207.9h0M494.9 189.9h0M512.4 267.9h0M506.3 231.8h0M499.5 206.2h0M473.6 208.9h0M527.7 270.5h0M525.2 252.3h0M501.0 235.5h0M494.2 224.9h0M538.7 274.9h0M503.3 262.6h0M539.4 274.2h0M469.8 209.6h0M519.1 231.5h0M515.6 235.0h0M508.7 257.1h0M479.4 208.5h0M531.9 269.7h0M517.4 261.2h0M483.0 236.0h0M517.0 229.5h0M484.4 219.8h0M501.8 259.4h0M484.0 230.8h0M481.4 230.0h0M478.4 206.2h0M486.9 233.9h0M523.9 249.5h0M515.9 218.3h0M511.9 238.4h0M469.6 210.9h0M493.6 250.9h0M503.9 250.2h0M505.8 221.5h0M476.7 197.4h0M469.7 210.8h0M512.1 244.6h0M481.3 231.3h0M495.3 223.4h0M481.1 196.4h0M505.2 239.4h0M505.1 207.7h0M497.4 162.2h0M471.9 219.2h0M531.9 275.5h0M518.2 252.5h0M512.3 229.0h0M531.0 257.2h0M475.7 219.5h0M527.3 264.4h0M517.8 245.8h0M472.4 206.5h0M500.0 227.8h0M513.5 253.5h0M475.1 205.0h0M527.9 252.9h0M491.0 242.5h0M512.1 255.5h0M488.0 214.0h0M482.1 233.2h0M476.2 225.2h0M517.6 254.0h0M512.2 254.2h0M513.6 216.1h0M482.9 233.5h0M498.2 236.8h0M481.7 182.4h0M484.7 183.5h0M473.2 207.9h0M501.9 261.7h0M521.5 274.3h0M476.2 226.1h0M486.6 199.5h0M532.1 266.9h0M513.3 267.7h0M513.5 224.5h0M502.8 241.8h0M499.4 253.2h0M518.0 262.5h0M503.5 214.0h0M532.5 266.2h0M504.6 217.6h0M477.0 226.6h0M492.6 232.0h0M525.1 257.6h0M480.2 215.8h0M471.1 217.1h0M511.3 260.2h0M517.1 240.0h0M513.3 266.4h0M485.8 206.7h0M520.9 232.5h0M485.9 179.2h0M503.0 188.6h0M500.2 255.7h0M497.0 251.1h0M506.8 258.5h0M508.3 241.3h0M495.5 197.9h0M484.0 214.1h0M496.1 225.8h0M489.6 173.6h0M509.9 245.7h0M521.3 236.4h0M478.9 224.7h0M539.4 270.1h0M514.4 267.7h0M529.3 258.6h0M510.4 224.0h0M509.3 255.9h0M488.3 237.8h0M507.2 249.6h0M482.2 179.6h0M502.2 211.8h0M496.9 229.8h0M531.1 273.8h0M510.1 268.5h0M509.8 255.1h0M485.5 241.5h0M532.4 269.3h0M501.3 232.4h0M520.3 235.1h0M517.1 260.8h0M495.9 221.5h0M483.4 180.2h0M476.3 227.0h0M501.0 261.8h0M485.8 242.3h0M487.2 195.9h0M495.0 231.9h0M507.7 259.1h0M501.3 254.1h0M503.7 262.8h0M502.9 258.3h0M508.5 232.1h0M507.3 235.8h0M512.7 249.6h0M488.5 219.6h0M477.1 210.7h0M525.0 252.3h0M517.0 260.7h0M485.3 207.0h0M512.5 236.5h0M515.8 268.3h0M513.6 236.6h0M499.1 253.5h0M481.2 197.5h0M480.8 226.6h0M488.7 159.9h0M505.6 241.0h0M514.7 213.6h0M522.6 251.2h0M502.5 237.7h0M513.1 252.2h0M508.4 231.7h0M470.2 215.5h0M497.8 216.0h0M502.0 243.5h0M508.7 262.4h0M512.1 243.8h0M511.7 208.8h0M520.1 241.6h0M497.0 228.7h0M532.3 261.4h0M505.0 193.0h0M511.5 237.5h0M489.9 212.7h0M506.5 220.1h0M494.5 250.7h0M481.8 195.6h0M528.8 264.5h0M500.7 234.6h0M520.4 249.2h0M485.6 237.5h0M504.3 219.8h0M532.0 272.3h0M518.6 261.4h0M496.9 174.8h0M493.9 206.5h0M480.8 229.9h0M506.0 221.5h0M494.7 248.3h0M526.7 275.0h0M535.5 275.1h0M511.4 251.7h0M518.6 249.2h0M532.1 259.7h0M488.5 231.3h0M537.9 274.6h0M512.2 232.5h0M520.6 248.2h0M531.4 266.1h0M478.5 215.6h0M531.1 275.5h0M497.2 249.8h0M531.1 259.9h0M498.3 197.3h0M527.3 270.5h0M498.3 233.3h0M503.7 232.5h0M505.8 235.9h0M504.7 264.7h0M513.4 271.6h0M481.3 204.5h0M504.0 226.3h0M525.1 274.7h0M531.6 269.7h0M478.4 196.2h0M499.0 220.5h0M504.7 247.8h0M501.5 248.3h0M494.8 159.9h0M497.1 220.7h0M510.6 206.3h0M516.8 252.4h0M485.6 189.2h0M520.6 274.5h0M524.2 242.9h0M483.6 227.8h0M521.1 233.9h0M523.3 241.8h0M539.0 271.3h0M484.9 241.6h0M487.0 227.2h0M509.4 263.9h0M469.3 211.2h0M499.5 200.4h0M528.6 262.0h0M494.2 234.9h0M487.9 231.4h0M526.8 274.3h0M508.8 259.5h0M477.3 214.4h0M528.9 270.1h0M513.2 271.0h0M479.4 198.7h0M497.4 220.3h0M518.0 222.5h0M516.6 237.8h0M518.5 223.6h0M508.4 231.2h0M486.1 226.0h0M487.8 232.4h0M531.4 275.4h0M507.3 242.1h0M482.4 231.3h0M489.6 186.2h0M497.5 193.2h0M517.4 241.4h0M529.4 274.3h0M470.4 209.8h0M507.2 190.9h0M502.0 244.9h0M487.1 185.6h0M485.9 183.1h0M489.2 234.4h0M492.0 178.2h0M500.5 240.3h0M506.3 225.4h0M490.0 206.3h0M503.7 248.2h0M502.3 177.9h0M504.9 251.8h0M505.1 234.6h0M525.6 273.4h0M518.3 261.4h0M512.0 207.4h0M483.6 228.0h0M523.0 235.6h0M478.4 195.4h0M479.0 199.1h0M512.4 241.8h0M503.6 244.4h0M484.1 192.3h0M513.6 225.9h0M500.8 212.6h0M503.5 241.0h0M514.1 233.9h0M501.9 251.5h0M492.2 186.0h0M498.1 247.8h0M524.0 244.2h0M478.6 192.7h0M515.8 252.8h0M495.4 196.5h0M503.0 187.8h0M508.3 255.6h0M508.0 262.3h0M516.2 246.0h0M482.7 215.0h0M526.0 269.4h0M484.4 218.8h0M484.6 238.1h0M486.6 240.3h0M491.4 244.1h0M514.5 244.2h0M510.3 234.8h0M530.3 274.8h0M507.8 262.6h0M523.4 252.6h0M505.4 242.3h0M518.1 235.5h0M506.3 234.7h0M488.6 213.5h0M495.2 184.4h0M478.5 227.9h0M487.2 191.0h0M509.7 246.4h0M484.7 194.0h0M505.9 251.8h0M498.2 238.8h0M534.0 273.2h0M520.2 274.3h0M527.6 275.6h0M488.4 220.4h0M508.4 194.5h0M517.8 232.0h0M502.9 231.7h0M510.0 241.3h0M498.7 202.4h0M534.1 260.7h0M481.0 210.9h0M491.3 156.1h0M537.0 266.6h0M493.4 184.0h0M500.4 260.3h0M501.2 236.8h0M469.7 212.3h0M493.2 211.3h0M533.7 272.7h0M509.0 231.0h0M496.2 220.7h0M530.4 273.0h0M521.2 234.5h0M527.6 262.0h0M515.5 232.3h0M484.8 240.6h0M479.7 192.9h0M526.9 251.3h0M513.1 269.1h0M524.8 274.6h0M522.1 247.1h0M526.5 274.6h0M497.2 247.8h0M502.7 249.8h0M489.0 228.5h0M510.6 259.5h0M536.7 267.1h0M480.3 207.1h0M480.3 195.4h0M501.5 211.8h0M511.9 267.7h0M508.4 249.3h0M528.3 270.2h0M491.4 243.6h0M504.1 228.0h0M493.9 247.1h0M529.6 250.7h0M488.9 218.6h0M516.6 220.4h0M498.6 257.7h0M487.1 223.3h0M497.1 213.4h0M475.1 211.6h0M518.9 261.7h0M491.8 246.1h0M476.4 218.4h0M533.3 263.1h0M471.8 206.4h0M479.8 228.5h0M493.6 236.4h0M506.4 209.8h0M538.6 270.3h0M518.3 274.5h0M508.6 266.1h0M508.1 241.5h0M509.3 236.9h0M501.5 179.2h0M501.9 231.4h0M472.0 220.0h0M515.3 219.2h0M487.3 187.7h0M507.8 229.2h0M496.4 252.3h0M471.2 218.6h0M517.8 246.4h0M487.1 180.1h0M505.3 206.6h0M496.0 182.8h0M526.5 275.4h0M525.9 274.5h0M500.6 206.5h0M535.9 274.5h0M532.9 268.7h0M515.8 244.3h0M502.1 209.6h0M475.2 214.2h0M539.0 270.8h0M527.2 262.9h0M494.5 213.6h0M512.9 240.0h0M524.0 248.4h0M526.8 248.9h0M507.5 265.5h0M510.6 224.4h0M510.3 257.4h0M485.9 174.8h0M516.4 246.7h0M511.7 234.6h0M522.3 240.0h0M533.0 275.1h0M489.2 218.4h0M511.9 204.8h0M511.6 248.2h0M502.2 214.0h0M514.0 257.8h0M536.5 265.9h0M470.2 208.7h0M497.1 194.4h0M513.5 270.1h0M511.4 251.1h0M479.7 213.6h0M504.5 259.9h0M504.1 198.7h0M512.6 235.5h0M486.3 180.8h0M503.5 223.5h0M495.6 219.4h0M490.6 203.3h0M526.6 254.0h0M481.8 230.7h0M497.7 168.4h0M472.5 207.3h0M520.9 230.0h0M499.1 252.3h0M505.3 249.4h0M505.0 247.3h0M490.4 182.0h0M506.1 238.6h0M517.3 244.0h0M500.6 248.8h0M485.3 193.9h0M490.6 233.7h0M498.7 209.8h0M500.1 233.9h0M513.7 252.8h0M482.3 215.4h0M482.6 230.9h0M495.4 247.9h0M505.1 214.1h0M506.4 212.5h0M533.6 263.0h0M514.9 233.0h0M502.6 238.7h0M499.7 260.6h0M500.5 222.4h0M531.0 269.0h0M480.4 218.3h0M506.1 238.9h0M507.1 250.2h0M489.9 166.8h0M494.4 155.1h0M499.4 217.8h0M497.0 229.7h0M496.7 244.4h0M493.6 233.4h0M507.4 194.6h0M511.1 225.6h0M521.4 240.6h0M490.4 207.1h0M497.6 175.3h0M478.2 201.0h0M510.7 216.2h0M522.7 246.5h0M526.8 269.3h0M503.9 241.0h0M527.9 252.4h0M482.5 231.1h0M492.1 178.9h0M506.2 225.2h0M503.6 228.0h0M482.8 207.3h0M536.8 268.0h0M482.0 224.1h0M514.0 226.0h0M503.8 264.8h0M485.4 225.4h0M502.0 222.6h0M507.3 266.5h0M536.6 266.2h0M534.3 275.0h0M509.2 234.8h0M506.5 236.6h0M487.8 221.1h0M520.9 239.2h0M504.2 234.5h0M532.3 269.7h0M492.2 234.4h0M489.6 171.1h0M470.3 208.5h0M536.3 269.7h0M476.8 225.8h0M510.9 254.7h0M532.9 275.5h0M470.4 214.4h0M501.6 196.1h0M476.2 216.2h0M495.5 150.1h0M508.0 250.8h0M491.1 168.7h0M528.1 247.6h0M503.7 221.8h0M525.6 271.3h0M499.0 210.4h0M477.5 197.9h0M486.2 188.5h0M511.2 256.2h0M504.3 229.0h0M515.4 250.4h0M535.3 269.5h0M483.8 184.9h0M510.9 254.0h0M502.8 248.5h0M518.3 252.5h0M511.2 246.8h0M515.1 248.2h0M497.3 225.8h0M495.0 232.4h0M497.2 213.0h0M487.6 243.4h0M481.4 202.2h0M520.6 236.6h0M501.4 191.2h0M505.1 225.4h0M535.5 274.2h0M525.7 269.1h0M496.2 209.8h0M523.3 248.0h0M507.4 219.0h0M489.4 236.1h0M492.8 217.3h0M508.6 205.5h0M490.0 225.5h0M494.2 214.7h0M511.3 235.3h0M512.2 223.9h0M492.1 160.6h0M487.8 231.9h0M498.3 214.3h0M498.6 196.3h0M509.5 258.6h0M507.9 210.8h0M496.0 158.3h0M504.8 198.8h0M512.1 216.6h0M484.7 219.7h0M496.9 243.4h0M493.4 244.0h0M506.5 199.7h0M485.6 241.9h0M498.3 244.6h0M493.3 250.0h0M471.2 206.3h0M514.0 215.5h0M484.4 227.5h0M490.9 226.1h0M509.5 207.7h0M506.6 251.8h0M491.3 179.7h0M504.8 263.6h0M525.1 273.4h0M527.2 251.4h0M503.9 226.8h0M528.6 270.7h0M524.0 244.7h0M497.6 191.5h0M480.0 228.1h0M515.8 273.3h0M501.1 202.4h0M511.7 231.0h0M535.2 271.0h0M502.3 232.6h0M496.6 192.2h0M521.8 274.3h0M520.2 274.9h0M499.8 237.5h0M527.3 251.3h0M472.0 221.1h0M504.9 243.1h0M509.3 208.2h0M473.4 217.8h0M490.5 248.7h0M493.5 229.4h0M520.9 235.3h0M493.5 188.4h0M504.2 251.1h0M501.6 178.3h0M507.1 237.6h0M520.6 275.1h0M481.1 206.6h0M509.6 230.1h0M509.8 263.4h0M487.7 181.3h0M496.0 232.9h0M492.6 222.5h0M493.7 203.1h0M504.6 241.0h0M499.1 204.1h0M525.6 252.6h0M498.5 174.4h0M506.8 249.0h0M498.3 223.5h0M511.4 224.4h0M507.7 260.1h0M503.4 180.1h0M500.2 226.4h0M487.7 236.1h0M498.7 243.3h0M524.0 250.0h0M492.9 240.8h0M482.4 199.9h0M489.1 244.5h0M535.9 264.5h0M534.6 266.0h0M515.6 255.8h0M497.3 238.6h0M504.3 209.7h0M482.5 218.4h0M527.9 262.1h0M507.5 250.7h0M497.6 228.0h0M501.3 207.4h0M509.1 237.2h0M526.8 272.2h0M523.6 251.9h0M516.1 242.5h0M490.5 226.4h0M477.9 206.1h0M491.1 168.0h0M492.3 219.6h0M481.5 205.8h0M512.5 244.0h0M479.4 226.0h0M484.5 176.1h0M475.4 209.9h0M508.8 205.5h0M484.6 243.3h0M503.6 238.1h0M516.9 242.7h0M506.9 253.7h0M498.0 225.5h0M495.3 208.0h0M517.3 248.9h0M534.6 273.1h0M491.0 192.4h0M501.1 217.5h0M510.2 256.2h0M491.0 217.5h0M503.8 207.6h0M515.8 218.9h0M508.9 221.6h0M512.9 213.4h0M512.1 248.4h0M488.9 198.3h0M476.7 213.9h0M472.2 208.1h0M498.6 228.6h0M495.7 166.3h0M526.0 249.7h0M478.2 228.9h0M514.7 244.5h0M536.3 268.5h0M532.6 272.6h0M475.0 211.8h0M482.5 196.2h0M474.5 209.4h0M497.5 224.3h0M503.2 252.4h0M503.0 240.3h0M473.9 215.9h0M499.7 168.8h0M515.3 256.0h0M512.9 250.7h0M528.4 275.2h0M516.0 261.0h0M500.8 254.1h0M526.7 268.3h0M515.6 261.6h0M486.4 192.0h0M510.0 249.5h0M475.5 228.6h0M528.5 262.6h0M482.9 207.6h0M511.9 268.4h0M487.2 232.3h0M493.2 252.4h0M533.0 264.5h0M494.2 246.4h0M527.7 269.0h0M493.2 153.4h0M516.1 241.5h0M514.6 217.4h0M500.5 247.6h0M486.8 203.9h0M530.8 274.4h0M492.0 172.6h0M505.7 265.4h0M532.0 272.2h0M515.0 248.5h0M493.4 246.6h0M484.5 241.6h0M505.5 247.3h0M502.7 199.6h0M534.0 273.9h0M511.4 256.2h0M522.0 246.4h0M498.4 201.7h0M498.6 201.8h0M495.0 248.7h0M529.9 264.5h0M515.0 250.5h0M517.4 228.0h0M514.3 261.2h0M477.9 199.5h0M499.9 249.9h0M510.2 214.4h0M490.9 177.3h0M507.5 258.5h0M479.4 209.2h0M484.5 178.2h0M509.8 249.3h0M526.5 264.0h0M505.1 194.4h0M502.5 229.5h0M495.9 236.5h0M480.2 233.9h0M512.3 240.8h0M497.9 214.3h0M486.8 217.8h0M518.4 237.0h0M490.3 223.8h0M478.7 234.3h0M472.1 207.3h0M502.2 252.4h0M473.5 222.5h0M483.4 238.1h0M522.0 240.7h0M505.6 263.9h0M484.4 208.0h0M507.6 263.8h0M484.1 196.2h0M499.7 257.5h0M496.6 212.3h0M515.3 260.1h0M540.3 275.6h0M493.2 194.1h0M520.2 274.5h0M483.5 219.1h0M513.4 219.1h0M521.3 249.6h0M492.3 174.0h0M527.7 275.5h0M517.3 244.1h0M480.5 222.9h0M522.2 244.9h0M474.4 217.6h0M494.6 246.5h0M487.3 212.1h0M490.3 232.7h0M516.7 232.2h0M513.2 242.6h0M517.0 231.1h0M508.1 267.0h0M510.2 214.7h0M488.7 194.6h0M498.9 224.8h0M487.3 198.0h0M513.7 253.2h0M497.3 241.5h0M482.8 225.7h0M501.7 214.0h0M505.8 234.3h0M475.7 225.8h0M528.3 275.3h0M512.4 268.2h0M483.1 213.2h0M516.4 234.9h0M492.9 242.5h0M501.4 185.7h0M510.3 222.0h0M504.6 188.9h0M533.7 270.2h0M494.3 249.9h0M494.6 223.1h0M514.7 233.5h0M498.7 232.1h0M479.1 206.2h0M498.6 199.3h0M518.4 243.7h0M515.2 227.7h0M540.0 274.6h0M478.8 200.0h0M489.4 167.9h0M522.2 246.7h0M509.3 214.8h0M505.3 264.0h0M489.7 214.3h0M523.2 274.2h0M515.5 246.4h0M525.5 255.3h0M504.7 252.6h0M498.9 228.6h0M500.0 206.7h0M485.7 241.1h0M500.2 175.1h0M507.9 245.0h0M510.5 240.4h0M490.2 226.5h0M477.4 210.3h0M527.9 257.2h0M482.5 192.1h0M511.5 238.5h0M478.6 230.1h0M503.8 239.2h0M503.2 198.4h0M508.5 255.4h0M469.6 213.6h0M487.3 237.3h0M513.1 229.3h0M492.9 217.8h0M506.4 209.0h0M472.1 222.0h0M477.0 220.4h0M524.8 249.4h0M513.6 267.7h0M485.1 204.6h0M506.2 222.3h0M478.5 222.1h0M506.2 248.8h0M500.3 175.2h0M514.6 251.2h0M505.5 222.7h0M535.4 264.4h0M512.3 237.1h0M517.3 222.1h0M518.6 228.4h0M512.6 249.1h0M475.2 205.7h0M510.9 249.2h0M488.2 225.6h0M483.8 211.3h0M494.8 167.4h0M504.8 239.8h0M519.9 239.1h0M503.4 239.3h0M476.2 230.1h0M534.4 265.6h0M489.3 240.9h0M510.7 248.8h0M510.7 207.7h0M476.9 222.9h0M491.8 250.0h0M531.1 274.6h0M511.2 267.6h0M511.0 237.3h0M509.7 236.9h0M489.9 229.1h0M523.1 252.4h0M518.6 232.9h0M472.0 214.2h0M505.2 228.0h0M494.9 228.2h0M494.7 227.6h0M507.6 205.1h0M500.7 244.3h0M477.6 228.3h0M512.5 253.0h0M488.4 234.4h0M537.6 274.2h0M531.6 273.8h0M492.6 243.9h0M529.6 253.6h0M479.9 230.8h0M532.4 274.4h0M471.4 217.8h0M514.1 229.1h0M482.5 207.6h0M507.7 223.5h0M506.0 195.4h0M475.7 209.5h0M524.9 249.2h0M519.0 229.7h0M531.3 258.4h0M483.0 187.6h0M502.4 256.9h0M477.5 209.1h0M495.8 243.4h0M495.0 208.7h0M479.7 223.3h0M502.2 235.0h0M512.7 230.4h0M494.6 221.7h0M504.0 243.5h0M482.0 231.6h0M495.8 172.3h0M524.3 244.7h0M500.1 220.5h0M521.8 247.5h0M485.5 239.2h0M494.6 220.0h0M500.6 234.4h0M483.3 193.4h0M511.1 216.2h0M474.8 216.8h0M541.9 274.4h0M511.7 255.1h0M480.6 188.7h0M524.6 254.1h0M501.8 233.9h0M494.8 243.2h0M507.9 195.2h0M500.1 200.9h0M516.7 228.9h0M475.7 217.3h0M534.6 267.3h0M502.4 227.5h0M486.1 230.1h0M502.7 220.2h0M477.2 226.6h0M493.7 228.7h0M529.0 252.8h0M507.4 258.7h0M501.3 229.3h0M510.2 206.1h0M485.0 210.3h0M527.2 250.4h0M525.2 274.6h0M522.4 239.8h0M542.1 275.6h0M517.5 247.1h0M508.5 229.9h0M498.6 254.5h0M503.1 254.0h0M474.5 208.5h0M483.1 214.7h0M469.1 212.2h0M511.0 240.8h0M501.8 184.0h0M508.4 215.3h0M510.0 222.2h0M534.8 273.7h0M476.0 216.9h0M523.2 244.0h0M533.0 262.6h0M508.9 260.1h0M535.9 266.3h0M484.6 179.3h0M484.9 182.6h0M510.7 211.3h0M483.4 222.9h0M482.4 215.0h0M472.8 223.0h0M469.6 210.5h0M514.6 236.6h0M531.3 274.9h0M507.7 231.9h0M500.3 240.7h0M494.4 244.1h0M525.1 244.5h0M475.5 222.5h0M507.0 252.9h0M482.4 218.6h0M504.0 216.9h0M490.2 220.8h0M485.9 215.5h0M496.1 251.9h0M474.4 209.6h0M493.2 196.8h0M469.9 210.4h0M499.1 226.0h0M519.4 229.1h0M472.3 205.1h0M512.8 244.9h0M526.1 244.0h0M497.6 243.6h0M508.2 256.3h0M518.5 246.8h0M519.3 244.6h0M514.0 267.6h0M502.4 207.0h0M510.1 244.4h0M509.2 248.9h0M522.9 275.4h0M521.8 240.0h0M499.6 185.8h0M509.4 204.7h0M496.1 244.4h0M480.7 211.7h0M517.0 250.9h0M493.3 186.5h0M483.9 224.9h0M529.1 252.0h0M509.1 245.9h0M501.3 179.9h0M499.8 260.9h0M518.1 242.5h0M532.0 270.8h0M476.7 201.3h0M509.6 213.3h0M496.1 212.8h0M529.4 264.7h0M492.4 180.4h0M521.2 236.6h0M507.8 224.5h0M508.9 261.7h0M500.7 231.3h0M477.9 223.4h0M498.8 187.0h0M488.3 175.9h0M529.0 256.0h0M499.2 256.0h0M515.2 240.0h0M508.3 250.7h0M529.0 270.7h0M497.6 254.3h0M496.4 235.6h0M497.8 253.7h0M495.0 196.8h0M506.6 263.7h0M498.9 206.6h0M508.0 213.5h0M483.5 218.6h0M497.5 195.3h0M484.3 230.5h0M523.2 274.6h0M507.1 265.3h0M513.1 233.4h0M508.0 257.3h0M492.8 204.4h0M490.3 168.0h0M508.7 262.2h0M525.2 242.2h0M509.3 243.2h0M523.9 252.4h0M504.6 253.4h0M507.7 209.2h0M505.2 248.3h0M504.7 216.1h0M533.0 263.4h0M479.6 190.5h0M520.4 234.3h0M513.4 247.6h0M499.3 178.6h0M483.9 194.7h0M527.2 257.1h0M511.2 230.8h0M508.6 237.1h0M487.6 226.3h0M495.0 186.2h0M499.6 257.9h0M492.4 162.9h0M475.6 211.5h0M498.9 260.0h0M484.6 220.9h0M508.8 214.0h0M522.0 245.4h0M482.8 229.1h0M498.1 212.3h0M533.7 271.7h0M495.3 173.3h0M515.1 216.5h0M510.3 235.5h0M497.5 253.4h0M516.4 224.8h0M495.9 252.4h0M517.0 273.3h0M516.3 260.7h0M516.5 230.7h0M503.6 230.0h0M498.2 226.2h0M516.2 233.3h0M497.9 249.9h0M506.0 226.9h0M486.5 209.0h0M482.6 190.4h0M533.6 264.6h0M490.8 220.8h0M513.3 223.0h0M470.5 209.4h0M529.5 253.9h0M506.1 232.9h0M531.4 259.3h0M532.4 269.9h0M531.3 274.6h0M484.4 235.5h0M519.6 238.0h0M477.0 225.4h0M483.8 232.6h0M526.1 247.5h0M511.9 247.0h0M483.5 180.8h0M492.2 245.1h0M479.0 230.8h0M485.8 224.2h0M490.9 224.5h0M499.6 242.7h0M499.9 167.5h0M525.9 270.2h0M504.6 248.9h0M503.9 228.2h0M521.8 248.7h0M516.8 232.9h0M501.1 183.7h0M482.9 199.3h0M487.8 167.5h0M508.9 260.9h0M492.6 229.2h0M523.5 252.9h0M511.1 268.7h0M512.4 251.2h0M526.1 268.1h0M510.6 268.1h0M502.1 212.8h0M514.5 247.2h0M530.2 274.0h0M494.5 253.3h0M521.5 250.0h0M502.4 208.7h0M524.0 275.4h0M510.2 243.1h0M485.8 181.0h0M494.2 225.8h0M510.6 220.2h0M514.2 222.3h0M521.5 245.5h0M490.2 250.1h0M515.2 255.4h0M539.1 272.0h0M513.1 243.5h0M539.1 275.4h0M518.3 231.6h0M512.0 247.8h0M494.1 178.5h0M514.8 249.7h0M472.0 204.8h0M499.4 237.6h0M518.0 223.3h0M500.6 215.6h0M478.1 230.8h0M526.7 257.6h0M476.0 227.1h0M514.0 245.0h0M500.9 211.5h0M486.7 215.7h0M499.3 171.6h0M488.4 215.4h0M474.6 220.3h0M515.4 268.0h0M509.9 204.6h0M496.5 161.6h0M523.1 275.0h0M502.6 256.3h0M507.2 218.2h0M499.4 244.2h0M488.8 225.3h0M479.8 232.1h0M520.1 229.5h0M484.4 201.4h0M497.2 241.4h0M516.4 252.8h0M476.4 227.3h0M499.5 196.1h0M488.3 240.3h0M503.0 231.8h0M488.7 197.8h0M522.5 275.5h0M487.7 228.1h0M478.2 227.4h0M516.2 220.8h0M475.1 213.9h0M488.8 242.8h0M494.0 195.5h0M486.4 189.4h0M519.1 251.9h0M504.9 248.7h0M507.6 225.1h0M527.8 264.7h0M484.2 234.1h0M517.7 274.2h0M498.8 205.7h0M515.4 236.8h0M483.2 212.7h0M510.8 223.0h0M487.4 178.6h0M529.6 263.4h0M500.4 167.3h0M490.9 236.0h0M533.0 270.3h0M528.0 248.9h0M491.1 169.7h0M516.2 273.2h0M530.4 252.8h0M490.2 192.4h0M491.7 245.7h0M504.7 253.0h0M474.2 219.5h0M493.2 224.6h0M505.5 235.8h0M498.1 198.4h0M505.5 261.8h0M520.5 240.0h0M511.7 234.9h0M527.0 252.0h0M495.5 154.6h0M518.1 232.8h0M505.8 260.5h0M477.3 229.1h0M507.5 207.0h0M492.1 199.8h0M475.5 223.5h0M506.8 246.4h0M504.4 239.6h0M500.8 248.5h0M497.4 221.8h0M503.0 239.0h0M510.9 218.5h0M481.2 207.1h0M476.3 226.7h0M533.3 267.3h0M506.6 240.3h0M492.6 241.8h0M488.5 166.7h0M470.3 216.1h0M506.1 237.5h0M490.9 227.8h0M494.4 198.5h0M477.6 218.1h0M515.0 221.3h0M522.3 243.3h0M517.2 227.6h0M503.0 195.9h0M493.0 212.5h0M497.3 170.7h0M475.3 224.0h0M517.9 273.7h0M526.8 274.6h0M506.6 262.6h0M517.9 229.1h0M486.1 239.3h0M513.3 221.1h0M479.1 213.5h0M539.3 271.5h0M530.4 253.3h0M469.8 211.1h0M518.8 241.8h0M511.3 260.4h0M508.9 251.5h0M487.3 200.2h0M503.8 246.2h0M476.4 210.9h0M533.9 263.4h0M538.9 269.8h0M525.3 255.4h0M504.1 239.4h0M535.2 268.8h0M492.5 242.3h0M509.2 253.9h0M503.3 199.8h0M491.5 175.1h0M507.0 247.1h0M531.9 261.5h0M515.4 248.3h0M514.2 226.0h0M493.7 159.8h0M506.5 253.2h0M541.4 274.1h0M486.2 224.0h0M491.9 183.0h0M500.4 250.4h0M499.4 241.4h0M494.0 223.0h0M525.2 257.3h0M480.3 209.9h0M501.5 212.2h0M488.4 205.3h0M534.3 271.4h0M509.0 245.3h0M493.0 191.0h0M497.1 207.6h0M522.5 250.9h0M516.2 248.5h0M469.6 210.4h0M491.2 222.3h0M501.0 193.6h0M489.3 184.0h0M480.4 211.7h0M504.2 233.4h0M484.0 239.8h0M524.5 252.4h0M509.9 236.0h0M529.7 254.4h0M505.0 235.9h0M500.0 195.7h0M499.4 257.5h0M497.3 234.7h0M494.1 227.1h0M489.3 223.7h0M527.0 245.5h0M492.0 250.1h0M476.2 223.7h0M520.5 241.8h0M490.7 235.8h0M526.1 268.9h0M518.7 235.4h0M507.7 248.7h0M535.7 266.9h0M540.4 274.7h0M496.5 248.4h0M510.2 240.4h0M511.6 234.0h0M529.9 254.6h0M523.7 247.4h0M479.2 231.8h0M480.8 216.3h0M492.5 224.8h0M495.6 218.7h0M510.2 233.9h0M508.2 261.2h0M509.8 213.0h0M502.1 222.6h0M503.3 198.2h0M495.5 189.7h0M514.6 272.0h0M521.7 274.5h0M477.6 222.0h0M527.1 275.4h0M510.1 215.2h0M491.2 215.9h0M483.8 227.7h0M497.4 183.2h0M497.2 221.6h0M470.4 215.2h0M499.9 196.5h0M484.2 187.5h0M530.6 257.5h0M535.0 266.3h0M526.3 248.3h0M511.9 240.6h0M490.6 215.3h0M488.0 203.1h0M511.2 227.6h0M509.2 236.9h0M506.0 245.8h0M487.1 240.5h0M501.9 229.8h0M504.3 230.7h0M498.4 222.7h0M526.2 254.9h0M479.5 230.8h0M513.3 222.5h0M491.1 236.2h0M509.6 218.6h0M485.9 235.5h0M490.3 239.5h0M498.2 211.4h0M492.1 219.7h0M481.1 234.6h0M490.7 240.7h0M503.5 177.4h0M494.7 242.3h0M487.9 184.0h0M519.4 229.4h0M503.0 195.0h0M442.4 110.4h0M476.6 98.4h0M481.3 97.6h0M482.3 122.1h0M458.6 131.6h0M488.0 129.9h0M467.7 140.3h0M470.0 144.1h0M477.2 145.8h0M483.2 139.8h0M451.0 160.3h0M457.6 176.4h0M456.7 189.1h0M462.7 188.5h0M470.0 163.5h0M468.0 167.7h0M471.3 172.4h0M470.9 178.7h0M479.0 162.2h0M474.7 231.8h0M475.3 239.4h0M481.7 245.1h0M490.4 256.5h0M472.4 193.9h0M469.0 204.3h0M471.8 210.9h0M473.4 218.9h0" stroke="#da2f28" stroke-width="2.16" stroke-linecap="round" fill="none"/>
<path d="M606 198h1v1h-1zM605 199h1v1h-1zM605 203h1v1h-1zM605 209h1v1h-1zM604 210h1v1h-1zM607 211h1v1h-1zM601 214h1v1h-1zM604 215h1v1h-1zM602 218h1v1h-1zM598 219h1v1h-1zM598 220h3v1h-3zM602 220h1v1h-1zM599 221h3v1h-3zM599 222h2v1h-2zM601 223h1v1h-1zM602 224h1v1h-1zM606 224h1v1h-1zM595 226h2v1h-2zM594 227h4v1h-4zM600 227h1v1h-1zM594 228h2v1h-2zM600 228h2v1h-2zM594 229h1v1h-1zM601 229h1v1h-1zM593 230h2v1h-2zM600 230h1v1h-1zM593 231h3v1h-3zM592 232h6v1h-6zM592 233h5v1h-5zM591 234h5v1h-5zM590 235h7v1h-7zM590 236h8v1h-8zM590 237h4v1h-4zM595 237h2v1h-2zM589 238h4v1h-4zM596 238h2v1h-2zM599 238h1v1h-1zM589 239h4v1h-4zM596 239h4v1h-4zM588 240h6v1h-6zM596 240h3v1h-3zM588 241h6v1h-6zM597 241h3v1h-3zM587 242h2v1h-2zM590 242h5v1h-5zM596 242h2v1h-2zM587 243h1v1h-1zM591 243h6v1h-6zM587 244h2v1h-2zM590 244h7v1h-7zM586 245h10v1h-10zM586 246h9v1h-9zM585 247h11v1h-11zM584 248h10v1h-10zM595 248h1v1h-1zM597 248h1v1h-1zM584 249h9v1h-9zM584 250h8v1h-8zM593 250h1v1h-1zM595 250h1v1h-1zM597 250h1v1h-1zM583 251h8v1h-8zM594 251h3v1h-3zM583 252h9v1h-9zM594 252h1v1h-1zM596 252h1v1h-1zM582 253h10v1h-10zM582 254h11v1h-11zM594 254h1v1h-1zM581 255h12v1h-12zM594 255h2v1h-2zM581 256h7v1h-7zM589 256h3v1h-3zM581 257h6v1h-6zM590 257h2v1h-2zM580 258h8v1h-8zM589 258h4v1h-4zM580 259h13v1h-13zM580 260h12v1h-12zM593 260h1v1h-1zM579 261h12v1h-12zM579 262h10v1h-10zM590 262h2v1h-2zM578 263h10v1h-10zM591 263h2v1h-2zM578 264h11v1h-11zM590 264h3v1h-3zM577 265h15v1h-15zM577 266h15v1h-15zM577 267h15v1h-15zM576 268h15v1h-15zM576 269h14v1h-14zM575 270h16v1h-16zM575 271h15v1h-15zM575 272h15v1h-15zM574 273h15v1h-15zM574 274h15v1h-15z" fill="#78c13c"/><path d="M614.2 188.9h0M594.3 252.6h0M599.6 227.3h0M584.9 249.1h0M580.1 258.3h0M599.9 243.4h0M574.9 270.9h0M590.2 258.0h0M609.8 206.8h0M592.9 260.1h0M590.5 261.0h0M596.8 237.9h0M609.9 210.9h0M580.5 275.1h0M575.3 271.3h0M582.5 274.3h0M582.9 253.9h0M601.4 227.2h0M600.7 222.6h0M576.9 275.3h0M590.3 243.5h0M606.1 222.2h0M603.3 228.5h0M575.6 275.3h0M597.7 244.1h0M608.8 201.1h0M582.8 254.1h0M594.9 237.3h0M603.9 227.4h0M577.4 274.1h0M576.0 274.0h0M598.0 227.3h0M576.1 274.1h0M598.3 225.1h0M576.2 274.2h0M574.6 275.6h0M594.5 246.1h0M593.8 238.2h0M590.5 262.7h0M594.4 241.6h0M580.5 259.7h0M593.0 261.0h0M578.6 274.4h0M597.4 230.7h0M589.9 245.7h0M599.3 241.9h0M595.1 234.1h0M601.0 220.6h0M594.1 242.6h0M576.9 275.1h0M611.8 211.2h0M617.6 184.2h0M595.7 254.9h0M594.4 228.8h0M596.7 234.8h0M612.7 202.0h0M596.7 245.2h0M587.8 275.2h0M604.9 215.3h0M594.7 246.4h0M593.5 241.3h0M584.6 249.4h0M600.1 229.9h0M575.8 268.9h0M608.2 192.1h0M575.0 272.1h0M581.9 275.6h0M594.4 258.0h0M588.3 258.9h0M580.9 258.8h0M597.1 236.5h0M597.6 226.8h0M593.4 258.7h0M593.6 228.7h0M596.6 226.0h0M585.7 274.8h0M579.4 262.7h0M588.7 258.2h0M594.0 237.4h0M605.8 204.9h0M602.4 224.9h0M575.5 270.5h0M599.9 241.6h0M580.7 274.0h0M587.2 244.8h0M596.3 252.7h0M578.2 263.7h0M608.5 216.6h0M591.8 263.9h0M602.8 217.8h0M575.4 270.0h0M574.3 272.9h0M597.3 231.0h0M580.4 274.5h0M583.3 250.9h0M589.5 238.9h0M612.7 217.4h0M593.7 249.0h0M595.7 230.9h0M576.8 274.6h0M578.7 275.2h0M600.8 227.7h0M580.2 259.6h0M577.1 267.3h0M605.0 203.1h0M620.3 184.9h0M581.5 255.5h0M601.5 215.3h0M589.9 269.2h0M593.1 237.0h0M582.0 255.6h0M586.6 244.7h0M597.1 224.5h0M602.5 228.6h0M593.3 252.3h0M603.1 205.6h0M596.9 248.5h0M598.4 238.3h0M588.4 275.3h0M579.8 260.4h0M592.9 264.3h0M575.7 271.8h0M604.4 214.5h0M593.4 258.4h0M597.2 243.2h0M591.1 250.7h0M598.3 249.6h0M600.2 214.2h0M595.6 225.0h0M589.2 257.0h0M590.0 258.4h0M615.9 181.1h0M582.0 257.4h0M596.3 255.7h0M586.8 244.8h0M583.9 252.3h0M587.3 241.7h0M596.5 226.0h0M593.8 252.2h0M602.4 224.8h0M589.1 274.3h0M601.3 234.3h0M605.7 202.6h0M590.2 235.4h0M579.9 274.1h0M612.7 209.2h0M610.9 190.0h0M585.6 275.2h0M587.9 242.7h0M603.7 206.6h0M590.8 243.8h0M585.0 247.2h0M593.3 248.7h0M596.0 252.8h0M599.0 230.9h0M591.9 262.5h0M590.7 251.8h0M597.9 220.9h0M589.1 274.5h0M619.6 171.6h0M589.6 265.0h0M618.0 171.8h0M582.8 253.2h0M600.3 231.3h0M595.3 246.5h0M580.0 275.6h0M587.5 258.7h0M580.5 259.6h0M575.0 275.1h0M579.8 275.1h0M589.2 271.3h0M594.8 226.1h0M594.0 242.2h0M590.2 261.7h0M606.0 226.4h0M592.9 258.1h0M578.2 263.2h0M583.4 274.8h0M594.4 229.9h0M579.4 262.6h0M610.1 219.6h0M592.8 231.8h0M597.5 253.4h0M594.6 237.0h0M576.5 268.2h0M575.9 272.6h0M588.7 239.5h0M588.6 264.0h0M596.6 242.9h0M575.8 268.5h0M577.1 265.6h0M613.5 201.8h0M592.0 266.7h0M595.3 249.4h0M581.2 255.5h0M593.0 263.5h0M574.0 274.7h0M614.4 193.6h0M578.8 264.5h0M585.9 247.1h0M604.3 230.4h0M614.6 195.1h0M592.1 250.4h0M579.3 274.7h0M580.8 256.5h0M588.8 263.8h0M580.2 260.0h0M576.1 269.7h0M611.3 197.1h0M601.0 230.0h0M598.2 242.4h0M586.7 275.0h0M574.9 273.3h0M587.4 263.8h0M592.4 263.5h0M589.1 265.5h0M577.9 275.0h0M594.2 247.3h0M600.5 232.5h0M597.2 244.5h0M577.0 265.7h0M596.3 243.3h0M588.5 275.6h0M588.1 259.7h0M590.2 236.4h0M595.1 243.8h0M617.2 173.5h0M589.1 245.7h0M588.2 264.2h0M584.0 250.4h0M612.7 182.8h0M598.7 219.2h0M592.3 231.9h0M600.6 226.4h0M607.5 218.8h0M602.9 208.2h0M602.0 229.3h0M602.9 232.9h0M602.6 212.2h0M578.6 262.0h0M589.6 273.8h0M587.1 242.1h0M592.1 232.1h0M599.2 233.3h0M581.2 274.4h0M619.5 192.9h0M603.6 204.9h0M588.7 241.1h0M597.7 227.4h0M606.4 220.3h0M582.6 275.2h0M575.5 274.6h0M596.1 228.6h0M598.4 246.0h0M595.4 250.3h0M586.6 245.5h0M582.1 253.3h0M594.9 237.5h0M598.0 218.5h0M598.5 222.3h0M592.4 259.8h0M593.7 240.8h0M576.2 269.1h0M596.2 232.5h0M582.9 254.4h0M578.9 274.1h0M589.8 258.2h0M607.3 203.1h0M574.4 273.6h0M594.2 255.6h0M601.7 224.9h0M575.7 272.9h0M598.8 250.3h0M609.3 194.8h0M609.8 209.0h0M608.3 203.8h0M604.3 217.1h0M591.0 271.1h0M595.4 248.3h0M603.8 206.3h0M604.6 212.7h0M591.4 266.8h0M591.7 252.0h0M595.5 247.4h0M578.8 274.0h0M619.0 176.5h0M574.3 272.2h0M595.1 256.2h0M596.1 253.2h0M591.8 233.9h0M602.7 223.9h0M606.9 224.0h0M601.6 228.0h0M574.1 273.5h0M592.8 259.2h0M593.9 249.1h0M602.5 217.9h0M578.7 262.1h0M587.2 256.2h0M579.7 262.6h0M573.5 275.4h0M589.0 242.0h0M621.1 182.9h0M592.6 265.5h0M576.8 269.3h0M617.2 184.6h0M602.8 210.0h0M598.1 241.9h0M602.6 216.3h0M587.3 256.0h0M606.7 232.2h0M590.0 236.9h0M578.4 274.4h0M602.5 220.2h0M611.7 186.9h0M599.5 242.5h0M599.8 237.2h0M611.1 183.6h0M574.5 274.1h0M607.0 209.8h0M596.0 247.6h0M598.8 248.3h0M585.1 274.8h0M586.9 242.8h0M601.2 236.8h0M576.0 271.3h0M593.9 237.8h0M587.1 263.7h0M593.3 231.3h0M596.7 250.8h0M596.8 235.7h0M599.8 247.4h0M588.7 262.5h0M606.8 229.5h0M595.9 228.0h0M596.2 234.7h0M590.1 271.4h0M620.9 175.3h0M601.3 222.5h0M592.0 260.6h0M581.3 256.4h0M595.1 232.0h0M582.4 274.2h0M598.9 236.4h0M574.7 273.9h0M575.9 275.0h0M575.7 272.0h0M595.3 237.8h0M575.3 272.3h0M597.0 241.5h0M606.9 203.2h0M593.9 250.7h0M606.4 197.9h0M573.3 274.8h0M603.2 205.2h0M584.0 251.1h0M594.2 242.9h0M587.9 241.0h0M583.1 251.4h0M588.3 258.5h0M618.3 175.9h0M588.1 243.0h0M586.5 274.9h0M605.8 212.8h0M592.2 265.5h0M594.9 226.7h0M595.1 243.5h0M580.1 274.7h0M605.6 205.1h0M595.3 224.9h0M604.0 210.9h0M576.8 266.0h0M603.0 210.9h0M602.0 240.8h0M592.9 250.3h0M603.2 224.7h0M596.3 241.0h0M589.8 256.0h0M600.0 223.4h0M613.2 195.1h0M603.8 214.7h0M576.3 274.9h0M596.4 241.5h0M593.1 240.9h0M610.3 223.1h0M596.7 240.5h0M582.1 274.9h0M574.6 273.1h0M578.8 263.0h0M582.5 254.4h0M582.3 275.0h0M580.5 275.5h0M576.6 267.1h0M596.2 231.7h0M613.6 179.9h0M587.4 244.5h0M581.2 256.4h0M601.6 225.3h0M604.1 220.4h0M580.8 258.1h0M594.4 236.2h0M590.7 236.4h0M577.0 267.2h0M593.6 249.7h0M590.1 263.0h0M575.5 275.6h0M602.1 227.0h0M589.7 264.2h0M597.8 248.6h0M597.8 226.5h0M600.9 218.6h0M604.1 228.8h0M583.4 252.5h0M587.0 245.2h0M588.5 259.7h0M588.2 259.9h0M608.9 211.7h0M589.0 245.5h0M587.9 258.7h0M591.4 258.0h0M595.8 251.9h0M587.7 258.2h0M594.5 252.7h0M616.7 178.9h0M577.8 265.7h0M599.3 233.9h0M594.3 241.0h0M575.0 270.4h0M611.6 210.9h0M593.3 259.7h0M574.9 271.6h0M575.3 271.9h0M596.9 235.7h0M579.0 274.4h0M592.3 253.9h0M612.2 199.1h0M587.5 257.5h0M577.2 266.6h0M607.7 218.8h0M575.4 270.9h0M589.9 239.6h0M599.9 238.8h0M577.3 274.9h0M595.8 240.0h0M582.0 275.5h0M607.9 220.9h0M593.9 248.5h0M579.5 274.8h0M587.7 256.2h0M602.6 225.6h0M590.7 242.1h0M588.7 240.3h0M579.4 260.5h0M589.4 258.8h0M587.4 256.8h0M589.4 262.7h0M594.5 251.0h0M600.9 229.7h0M583.9 275.1h0M606.9 202.2h0M606.5 199.3h0M586.9 274.9h0M599.2 236.6h0M578.9 261.1h0M575.7 271.4h0M596.4 251.4h0M598.2 239.3h0M598.7 230.0h0M599.9 241.1h0M599.3 239.4h0M592.9 249.4h0M604.6 218.6h0M596.4 237.5h0M594.8 241.7h0M596.8 231.6h0M595.3 250.5h0M586.0 245.5h0M574.3 274.5h0M575.4 275.4h0M610.4 188.2h0M593.7 239.9h0M593.5 254.7h0M591.4 233.0h0M595.9 240.9h0M576.7 274.8h0M599.9 221.4h0M596.2 225.5h0M600.7 220.2h0M589.7 261.4h0M573.6 274.1h0M608.5 195.8h0M597.4 253.3h0M605.8 208.1h0M575.1 274.8h0M595.3 252.6h0M579.4 260.1h0M616.0 195.5h0M598.2 249.4h0M597.1 224.0h0M601.6 224.0h0M586.1 245.1h0M626.4 168.3h0M575.0 274.3h0M603.7 215.7h0M609.9 213.1h0M600.2 214.4h0M602.6 211.1h0M604.9 224.4h0M624.9 162.2h0M592.7 259.4h0M613.3 185.8h0M611.4 189.4h0M597.9 218.2h0M598.8 248.8h0M600.2 216.9h0M596.0 242.1h0M593.9 260.2h0M597.0 255.2h0M595.0 234.4h0M573.2 275.3h0M593.6 228.2h0M604.2 227.1h0M574.1 273.2h0M595.7 229.9h0M596.6 225.7h0M583.0 252.0h0M599.8 220.5h0M595.5 238.3h0M588.6 242.1h0M607.4 210.0h0M580.8 274.9h0M589.4 244.7h0M591.0 263.3h0M599.6 221.9h0M580.0 262.2h0M573.3 274.6h0M594.3 229.2h0M588.1 242.3h0M591.1 250.5h0M612.1 203.5h0M575.2 275.3h0M574.0 275.0h0M590.4 269.4h0M605.4 198.3h0M590.0 272.5h0M607.2 224.9h0M589.0 238.8h0M603.3 235.5h0M599.4 228.4h0M589.5 269.6h0M604.0 218.0h0M593.3 238.3h0M597.4 251.9h0M596.1 239.3h0M601.9 213.5h0M593.1 240.5h0M593.8 237.9h0M600.8 238.6h0M603.7 227.0h0M586.7 257.4h0M588.0 274.0h0M581.2 257.5h0M573.0 275.3h0M588.4 256.1h0M595.0 242.1h0M601.0 222.8h0M592.4 239.9h0M604.4 209.9h0M598.7 229.8h0M586.6 275.0h0M600.9 230.3h0M577.3 265.0h0M590.5 261.5h0M605.8 210.2h0M598.1 221.2h0M594.5 241.1h0M592.5 256.3h0M583.8 249.9h0M611.3 188.1h0M589.0 275.3h0M590.9 270.7h0M595.4 246.3h0M604.3 233.2h0M576.4 267.5h0M582.8 275.3h0M576.6 267.4h0M594.5 228.1h0M581.8 256.0h0M573.7 274.5h0M598.4 218.1h0M596.9 226.3h0M587.4 275.1h0M611.3 209.4h0M591.9 234.6h0M610.0 204.7h0M598.6 217.7h0M597.6 219.4h0M593.5 261.8h0M604.2 211.0h0M604.3 232.5h0M620.8 168.2h0M607.0 225.7h0M590.2 268.7h0M577.7 275.3h0M590.2 270.1h0M612.5 200.1h0M575.8 274.5h0M578.4 263.6h0M583.1 251.6h0M574.7 272.2h0M600.5 214.0h0M574.9 270.5h0M598.9 220.2h0M599.7 241.5h0M583.7 250.8h0M591.6 260.8h0M605.7 204.7h0M578.6 275.5h0M591.8 232.7h0M614.4 204.1h0M573.9 274.1h0M577.1 267.9h0M576.6 266.7h0M602.7 208.5h0M580.7 259.8h0M583.1 275.5h0M596.3 245.2h0M574.3 275.5h0M581.7 274.9h0M589.5 271.8h0M604.3 235.9h0M589.0 264.7h0M613.1 183.5h0M593.3 263.9h0M598.8 232.9h0M589.4 238.1h0M617.5 178.1h0M611.2 197.6h0M603.9 231.2h0M601.1 211.0h0M578.2 275.1h0M590.2 269.8h0M595.1 245.4h0M586.9 274.5h0M577.3 275.2h0M580.4 259.1h0M606.2 222.5h0M603.2 218.0h0M596.6 226.5h0M594.6 236.2h0M579.5 274.2h0M587.3 274.6h0M594.3 253.6h0M593.5 229.9h0M587.5 275.5h0M605.7 216.3h0M590.0 269.2h0M599.1 219.2h0M596.3 227.1h0M598.8 241.4h0M588.2 240.2h0M585.4 275.4h0M583.5 250.8h0M590.3 268.9h0M600.5 228.2h0M591.8 233.8h0M593.5 255.2h0M607.1 221.7h0M588.6 273.6h0M593.2 239.6h0M596.0 233.1h0M589.9 245.2h0M593.5 263.0h0M578.3 274.7h0M578.5 274.2h0M577.4 275.3h0M575.1 273.0h0M595.5 246.6h0M594.4 257.6h0M595.6 240.1h0M602.2 233.4h0M598.2 245.5h0M591.5 261.5h0M591.9 267.2h0M617.1 182.8h0M596.3 235.2h0M580.6 257.2h0M585.2 246.1h0M600.8 217.9h0M584.8 275.1h0M606.4 230.1h0M623.0 165.6h0M600.6 227.5h0M596.0 238.2h0M590.9 268.5h0M600.7 231.6h0M576.8 269.7h0M583.9 274.5h0M574.7 272.7h0M606.8 195.9h0M578.7 263.7h0M582.0 255.1h0M587.6 263.9h0M608.6 198.6h0M598.1 230.3h0M574.1 274.1h0M590.5 272.1h0M595.5 247.3h0M592.9 230.1h0M592.6 253.2h0M601.1 221.8h0M572.9 275.2h0M609.1 216.6h0M608.8 189.2h0M596.1 242.3h0M601.5 220.4h0M595.6 228.3h0M595.5 234.0h0M608.9 204.0h0M600.6 226.0h0M595.6 245.7h0M593.8 255.4h0M580.4 260.4h0M575.6 269.2h0M591.7 257.9h0M604.1 225.1h0M587.3 243.6h0M609.3 218.0h0M608.3 195.2h0M587.9 244.2h0M607.1 211.5h0M603.3 224.1h0M594.7 250.6h0M574.7 274.7h0M592.0 256.1h0M589.0 258.5h0M581.7 274.3h0M590.4 269.0h0M596.6 248.5h0M591.3 260.7h0M602.4 214.6h0M595.5 227.0h0M592.9 231.2h0M620.7 175.3h0M587.1 275.5h0M585.8 274.1h0M578.0 274.4h0M585.8 275.3h0M605.9 205.6h0M593.4 250.1h0M589.2 261.4h0M597.4 233.2h0M576.8 266.4h0M579.6 275.1h0M590.6 265.0h0M596.8 221.2h0M575.1 274.5h0M578.9 275.5h0M597.5 247.9h0M610.4 213.4h0M580.7 260.5h0M596.5 227.7h0M596.5 240.7h0M595.2 230.5h0M586.6 246.6h0M602.3 219.7h0M600.4 228.5h0M581.2 275.0h0M588.3 256.0h0M602.4 237.7h0M584.2 248.3h0M590.0 261.8h0M576.3 275.5h0M596.1 247.2h0M586.6 244.0h0M594.2 237.1h0M592.3 258.2h0M591.9 233.2h0M595.6 223.7h0M609.5 211.8h0M592.3 252.3h0M576.5 274.6h0M580.2 275.4h0M589.5 272.3h0M582.2 254.4h0M589.4 273.4h0M600.7 217.7h0M574.4 275.3h0M601.7 214.5h0M589.3 237.2h0M591.2 253.2h0M575.1 272.4h0M595.8 250.1h0M592.5 254.8h0M586.1 274.9h0M578.9 264.4h0M597.8 226.3h0M602.8 218.3h0M583.5 274.2h0M593.2 250.2h0M597.3 238.1h0M593.9 260.8h0M592.2 238.7h0M580.3 258.5h0M576.0 271.4h0M582.0 275.2h0M586.2 244.2h0M586.5 257.1h0M590.7 243.4h0M589.2 265.0h0M594.1 255.6h0M573.6 273.6h0M623.2 169.9h0M579.9 275.4h0M594.5 246.5h0M574.5 271.8h0M595.9 238.0h0M589.1 241.7h0M599.9 230.8h0M599.7 227.9h0M605.2 207.5h0M606.1 217.0h0M605.0 199.5h0M605.4 209.4h0M605.2 201.1h0M597.5 250.4h0M589.2 256.0h0M592.2 233.1h0M591.5 243.9h0M576.2 269.4h0M584.5 250.8h0M605.9 201.1h0M591.6 243.6h0M601.8 218.4h0M594.3 257.4h0M590.6 270.6h0M605.3 215.2h0M577.7 264.1h0M599.2 220.6h0M610.3 212.2h0M597.0 231.5h0M589.9 264.7h0M597.7 245.6h0M602.6 221.6h0M574.5 274.6h0M583.0 252.6h0M595.1 243.2h0M575.7 271.0h0M591.5 253.0h0M588.8 240.9h0M590.5 244.7h0M594.1 254.4h0M580.8 275.5h0M599.9 239.6h0M590.5 251.3h0M581.4 257.4h0M585.9 274.7h0M579.1 275.2h0M588.5 241.5h0M598.3 229.3h0M578.0 264.4h0M599.3 235.6h0M573.9 273.1h0M591.9 250.1h0M607.7 200.1h0M614.6 176.3h0M589.7 242.4h0M577.0 274.3h0M596.5 234.1h0M590.6 251.2h0M597.2 228.4h0M581.2 257.9h0M590.2 244.7h0M590.1 237.9h0M576.9 274.7h0M601.8 227.7h0M579.6 260.0h0M594.5 256.9h0M602.5 212.7h0M607.3 212.9h0M589.5 265.4h0M593.7 251.9h0M587.2 274.9h0M591.7 256.5h0M607.0 198.9h0M598.9 225.4h0M579.2 261.4h0M591.4 262.0h0M594.1 240.3h0M596.8 247.1h0M577.1 274.6h0M595.8 239.3h0M598.3 233.1h0M576.1 267.9h0M587.5 256.2h0M590.3 235.1h0M599.5 235.8h0M593.3 239.8h0M598.4 249.6h0M587.9 241.8h0M599.0 217.5h0M592.9 262.8h0M593.7 238.8h0M595.5 229.8h0M581.7 275.4h0M603.1 218.2h0M672.0 40.8h0M666.0 61.0h0M663.5 67.5h0M651.5 103.5h0M657.9 113.9h0M651.2 141.3h0M650.0 142.5h0M644.4 147.8h0M627.1 142.6h0M633.2 143.6h0M633.0 145.0h0M625.7 152.6h0M629.0 156.1h0M632.9 154.8h0M624.2 159.0h0M631.0 160.9h0M636.7 165.2h0M619.4 166.7h0M621.7 167.0h0M628.6 166.3h0M633.2 169.6h0M627.1 170.9h0M646.3 173.4h0M617.4 175.8h0M633.2 177.3h0M614.5 180.2h0M627.1 181.2h0M625.1 182.1h0M622.3 185.0h0M623.2 188.9h0M633.2 200.0h0M624.2 204.9h0M637.1 214.3h0M621.7 220.7h0M627.5 223.0h0M618.4 237.0h0M613.6 240.9h0M610.1 247.2h0M603.0 262.7h0M597.2 274.2h0" stroke="#78c13c" stroke-width="2.16" stroke-linecap="round" fill="none"/>
<line x1="542.4" y1="29.2" x2="542.4" y2="306.1" stroke="#222" stroke-width="1" stroke-dasharray="5 2.9 1.2 2.9"/>
<line x1="571.4" y1="29.2" x2="571.4" y2="306.1" stroke="#222" stroke-width="1" stroke-dasharray="5 2.9 1.2 2.9"/>
<line x1="432.7" y1="275.6" x2="681.7" y2="275.6" stroke="#333" stroke-width="1" stroke-dasharray="5 2.9 1.2 2.9"/>
<rect x="431.2" y="28.4" width="251.3" height="278.5" fill="none" stroke="#8a8a8a" stroke-width="1.6"/>
<text x="479.95" y="49.70" font-size="16.44" fill="#e0322b" stroke="#e0322b" stroke-width="0.25" textLength="41.80" lengthAdjust="spacingAndGlyphs">Down</text>
<text x="482.48" y="68.50" font-size="15.63" fill="#e0322b" stroke="#e0322b" stroke-width="0.25" textLength="36.70" lengthAdjust="spacingAndGlyphs">3549</text>
<text x="606.18" y="49.30" font-size="16.44" fill="#2fb358" stroke="#2fb358" stroke-width="0.25" textLength="21.71" lengthAdjust="spacingAndGlyphs">Up</text>
<text x="598.68" y="68.30" font-size="16.20" fill="#2fb358" stroke="#2fb358" stroke-width="0.25" textLength="36.56" lengthAdjust="spacingAndGlyphs">2043</text>
<text x="404.42" y="101.80" font-size="16.87" fill="#231f20" stroke="#231f20" stroke-width="0.25" textLength="18.27" lengthAdjust="spacingAndGlyphs">15</text>
<text x="403.27" y="172.90" font-size="16.63" fill="#231f20" stroke="#231f20" stroke-width="0.25" textLength="17.77" lengthAdjust="spacingAndGlyphs">10</text>
<text x="410.23" y="239.20" font-size="16.58" fill="#231f20" stroke="#231f20" stroke-width="0.25" textLength="9.37" lengthAdjust="spacingAndGlyphs">5</text>
<text x="409.83" y="299.20" font-size="16.77" fill="#231f20" stroke="#231f20" stroke-width="0.25" textLength="9.32" lengthAdjust="spacingAndGlyphs">0</text>
<text x="478.20" y="325.00" font-size="16.00" fill="#231f20" stroke="#231f20" stroke-width="0.25" textLength="15.84" lengthAdjust="spacingAndGlyphs">-5</text>
<text x="552.63" y="325.00" font-size="15.77" fill="#231f20" stroke="#231f20" stroke-width="0.25" textLength="9.32" lengthAdjust="spacingAndGlyphs">0</text>
<text x="623.33" y="325.00" font-size="16.00" fill="#231f20" stroke="#231f20" stroke-width="0.25" textLength="9.37" lengthAdjust="spacingAndGlyphs">5</text>
<text x="532.38" y="341.80" font-size="15.31" fill="#231f20" stroke="#231f20" stroke-width="0.25" textLength="44.24" lengthAdjust="spacingAndGlyphs">logFC</text>
<g transform="translate(396.00,225.90) rotate(-90)"><text x="-0.88" y="0" font-size="18.76" fill="#000" stroke="#000" stroke-width="0.25" textLength="129.39" lengthAdjust="spacingAndGlyphs">-log10(PValue)</text></g>
<text x="3.13" y="415.80" font-size="22.37" fill="#000" stroke="#000" stroke-width="0.25" textLength="16.83" lengthAdjust="spacingAndGlyphs">C</text>
<circle cx="99.05" cy="508.2" r="84.3" fill="none" stroke="#000" stroke-width="2.7"/>
<circle cx="178.6" cy="508.3" r="55.9" fill="none" stroke="#000" stroke-width="2.7"/>
<text x="44.48" y="505.70" font-size="19.93" fill="#2a1d1b" stroke="#2a1d1b" stroke-width="0.25" textLength="56.63" lengthAdjust="spacingAndGlyphs">LCWE</text>
<text x="51.40" y="528.90" font-size="19.78" fill="#2a1d1b" stroke="#2a1d1b" stroke-width="0.25" textLength="43.99" lengthAdjust="spacingAndGlyphs">1251</text>
<text x="135.62" y="517.40" font-size="19.64" fill="#2a1d1b" stroke="#2a1d1b" stroke-width="0.25" textLength="32.57" lengthAdjust="spacingAndGlyphs">792</text>
<text x="188.94" y="505.40" font-size="18.78" fill="#2a1d1b" stroke="#2a1d1b" stroke-width="0.25" textLength="38.07" lengthAdjust="spacingAndGlyphs">LPS</text>
<text x="188.07" y="528.80" font-size="19.93" fill="#2a1d1b" stroke="#2a1d1b" stroke-width="0.25" textLength="31.81" lengthAdjust="spacingAndGlyphs">105</text>
<text x="213.81" y="415.70" font-size="23.71" fill="#000" stroke="#000" stroke-width="0.25" textLength="17.43" lengthAdjust="spacingAndGlyphs">D</text>
<text x="568.24" y="392.80" font-size="19.93" fill="#000" stroke="#000" stroke-width="0.25" textLength="58.06" lengthAdjust="spacingAndGlyphs">KEGG</text>
<defs><linearGradient id="gD" x1="0" y1="1" x2="0" y2="0">
<stop offset="0" stop-color="#e0302a"/><stop offset="0.25" stop-color="#d92a52"/>
<stop offset="0.5" stop-color="#b42a96"/><stop offset="0.75" stop-color="#6e3aa2"/><stop offset="1" stop-color="#3a55b0"/></linearGradient><linearGradient id="gE" x1="0" y1="1" x2="0" y2="0">
<stop offset="0" stop-color="#e0302a"/><stop offset="0.25" stop-color="#d92a52"/>
<stop offset="0.5" stop-color="#b42a96"/><stop offset="0.75" stop-color="#6e3aa2"/><stop offset="1" stop-color="#3a55b0"/></linearGradient></defs>
<line x1="519.70" y1="418.9" x2="519.70" y2="744.3" stroke="#f0f0f0" stroke-width="0.9"/>
<line x1="564.00" y1="418.9" x2="564.00" y2="744.3" stroke="#f0f0f0" stroke-width="0.9"/>
<line x1="608.30" y1="418.9" x2="608.30" y2="744.3" stroke="#f0f0f0" stroke-width="0.9"/>
<line x1="652.60" y1="418.9" x2="652.60" y2="744.3" stroke="#f0f0f0" stroke-width="0.9"/>
<line x1="541.80" y1="418.9" x2="541.80" y2="744.3" stroke="#e7e7e7" stroke-width="1.4"/>
<line x1="586.10" y1="418.9" x2="586.10" y2="744.3" stroke="#e7e7e7" stroke-width="1.4"/>
<line x1="630.30" y1="418.9" x2="630.30" y2="744.3" stroke="#e7e7e7" stroke-width="1.4"/>
<line x1="674.70" y1="418.9" x2="674.70" y2="744.3" stroke="#e7e7e7" stroke-width="1.4"/>
<line x1="498.45" y1="428.10" x2="679.45" y2="428.10" stroke="#e7e7e7" stroke-width="1.4"/>
<line x1="498.45" y1="444.25" x2="679.45" y2="444.25" stroke="#e7e7e7" stroke-width="1.4"/>
<line x1="498.45" y1="460.40" x2="679.45" y2="460.40" stroke="#e7e7e7" stroke-width="1.4"/>
<line x1="498.45" y1="476.55" x2="679.45" y2="476.55" stroke="#e7e7e7" stroke-width="1.4"/>
<line x1="498.45" y1="492.70" x2="679.45" y2="492.70" stroke="#e7e7e7" stroke-width="1.4"/>
<line x1="498.45" y1="508.85" x2="679.45" y2="508.85" stroke="#e7e7e7" stroke-width="1.4"/>
<line x1="498.45" y1="525.00" x2="679.45" y2="525.00" stroke="#e7e7e7" stroke-width="1.4"/>
<line x1="498.45" y1="541.15" x2="679.45" y2="541.15" stroke="#e7e7e7" stroke-width="1.4"/>
<line x1="498.45" y1="557.30" x2="679.45" y2="557.30" stroke="#e7e7e7" stroke-width="1.4"/>
<line x1="498.45" y1="573.45" x2="679.45" y2="573.45" stroke="#e7e7e7" stroke-width="1.4"/>
<line x1="498.45" y1="589.60" x2="679.45" y2="589.60" stroke="#e7e7e7" stroke-width="1.4"/>
<line x1="498.45" y1="605.75" x2="679.45" y2="605.75" stroke="#e7e7e7" stroke-width="1.4"/>
<line x1="498.45" y1="621.90" x2="679.45" y2="621.90" stroke="#e7e7e7" stroke-width="1.4"/>
<line x1="498.45" y1="638.05" x2="679.45" y2="638.05" stroke="#e7e7e7" stroke-width="1.4"/>
<line x1="498.45" y1="654.20" x2="679.45" y2="654.20" stroke="#e7e7e7" stroke-width="1.4"/>
<line x1="498.45" y1="670.35" x2="679.45" y2="670.35" stroke="#e7e7e7" stroke-width="1.4"/>
<line x1="498.45" y1="686.50" x2="679.45" y2="686.50" stroke="#e7e7e7" stroke-width="1.4"/>
<line x1="498.45" y1="702.65" x2="679.45" y2="702.65" stroke="#e7e7e7" stroke-width="1.4"/>
<line x1="498.45" y1="718.80" x2="679.45" y2="718.80" stroke="#e7e7e7" stroke-width="1.4"/>
<line x1="498.45" y1="734.95" x2="679.45" y2="734.95" stroke="#e7e7e7" stroke-width="1.4"/>
<circle cx="671.4" cy="428.10" r="7.0" fill="#e0322a"/>
<circle cx="671.4" cy="444.25" r="7.0" fill="#a5339b"/>
<circle cx="644.7" cy="460.40" r="6.5" fill="#d52a5c"/>
<circle cx="639.5" cy="476.55" r="6.4" fill="#e0302a"/>
<circle cx="634.2" cy="492.70" r="6.4" fill="#e0302a"/>
<circle cx="596.8" cy="508.85" r="6.0" fill="#e0302a"/>
<circle cx="580.8" cy="525.00" r="5.7" fill="#d62a5c"/>
<circle cx="575.5" cy="541.15" r="5.4" fill="#e0302a"/>
<circle cx="575.5" cy="557.30" r="5.4" fill="#5d47a8"/>
<circle cx="575.5" cy="573.45" r="5.4" fill="#3a58b0"/>
<circle cx="559.4" cy="589.60" r="5.1" fill="#7a3aa8"/>
<circle cx="554.2" cy="605.75" r="5.0" fill="#e0302a"/>
<circle cx="548.9" cy="621.90" r="4.9" fill="#e0302a"/>
<circle cx="543.3" cy="638.05" r="4.8" fill="#5a46a8"/>
<circle cx="538.0" cy="654.20" r="4.8" fill="#e0302a"/>
<circle cx="538.0" cy="670.35" r="4.8" fill="#e0302a"/>
<circle cx="527.4" cy="686.50" r="4.4" fill="#e0302a"/>
<circle cx="527.4" cy="702.65" r="4.4" fill="#d02a70"/>
<circle cx="516.8" cy="718.80" r="4.0" fill="#e0283a"/>
<circle cx="506.0" cy="734.95" r="3.1" fill="#5a46a8"/>
<rect x="607" y="575" width="16" height="66" fill="#fff"/>
<circle cx="614.96" cy="582.8" r="3.8" fill="#000"/>
<circle cx="614.96" cy="598.4" r="5.2" fill="#000"/>
<circle cx="614.96" cy="614.3" r="6.1" fill="#000"/>
<circle cx="614.96" cy="632.9" r="6.8" fill="#000"/>
<text x="605.98" y="571.10" font-size="14.48" fill="#000" stroke="#000" stroke-width="0.25" textLength="43.96" lengthAdjust="spacingAndGlyphs">Count</text>
<text x="626.78" y="589.50" font-size="15.80" fill="#000" stroke="#000" stroke-width="0.25" textLength="18.19" lengthAdjust="spacingAndGlyphs">15</text>
<text x="626.78" y="605.20" font-size="15.80" fill="#000" stroke="#000" stroke-width="0.25" textLength="18.19" lengthAdjust="spacingAndGlyphs">25</text>
<text x="626.78" y="620.90" font-size="15.80" fill="#000" stroke="#000" stroke-width="0.25" textLength="18.19" lengthAdjust="spacingAndGlyphs">35</text>
<text x="626.78" y="639.50" font-size="15.80" fill="#000" stroke="#000" stroke-width="0.25" textLength="18.19" lengthAdjust="spacingAndGlyphs">45</text>
<text x="605.74" y="665.00" font-size="13.24" fill="#000" stroke="#000" stroke-width="0.25" textLength="57.18" lengthAdjust="spacingAndGlyphs">p.adjust</text>
<rect x="606.7" y="670.6" width="12.5" height="63" fill="url(#gD)"/>
<line x1="614.9" y1="684.5" x2="617.9" y2="684.5" stroke="#fff" stroke-width="1"/>
<line x1="614.9" y1="700.8" x2="617.9" y2="700.8" stroke="#fff" stroke-width="1"/>
<line x1="614.9" y1="717.4" x2="617.9" y2="717.4" stroke="#fff" stroke-width="1"/>
<text x="623.09" y="685.70" font-size="15.80" fill="#000" stroke="#000" stroke-width="0.25" textLength="45.93" lengthAdjust="spacingAndGlyphs">3e−05</text>
<text x="623.09" y="702.50" font-size="15.80" fill="#000" stroke="#000" stroke-width="0.25" textLength="45.93" lengthAdjust="spacingAndGlyphs">2e−05</text>
<text x="623.09" y="718.50" font-size="15.80" fill="#000" stroke="#000" stroke-width="0.25" textLength="45.93" lengthAdjust="spacingAndGlyphs">1e−05</text>
<rect x="498.45" y="418.9" width="181.00" height="325.40" fill="none" stroke="#3a3a3a" stroke-width="1.1"/>
<line x1="495.7" y1="428.10" x2="498.45" y2="428.10" stroke="#333" stroke-width="1.1"/>
<line x1="495.7" y1="444.25" x2="498.45" y2="444.25" stroke="#333" stroke-width="1.1"/>
<line x1="495.7" y1="460.40" x2="498.45" y2="460.40" stroke="#333" stroke-width="1.1"/>
<line x1="495.7" y1="476.55" x2="498.45" y2="476.55" stroke="#333" stroke-width="1.1"/>
<line x1="495.7" y1="492.70" x2="498.45" y2="492.70" stroke="#333" stroke-width="1.1"/>
<line x1="495.7" y1="508.85" x2="498.45" y2="508.85" stroke="#333" stroke-width="1.1"/>
<line x1="495.7" y1="525.00" x2="498.45" y2="525.00" stroke="#333" stroke-width="1.1"/>
<line x1="495.7" y1="541.15" x2="498.45" y2="541.15" stroke="#333" stroke-width="1.1"/>
<line x1="495.7" y1="557.30" x2="498.45" y2="557.30" stroke="#333" stroke-width="1.1"/>
<line x1="495.7" y1="573.45" x2="498.45" y2="573.45" stroke="#333" stroke-width="1.1"/>
<line x1="495.7" y1="589.60" x2="498.45" y2="589.60" stroke="#333" stroke-width="1.1"/>
<line x1="495.7" y1="605.75" x2="498.45" y2="605.75" stroke="#333" stroke-width="1.1"/>
<line x1="495.7" y1="621.90" x2="498.45" y2="621.90" stroke="#333" stroke-width="1.1"/>
<line x1="495.7" y1="638.05" x2="498.45" y2="638.05" stroke="#333" stroke-width="1.1"/>
<line x1="495.7" y1="654.20" x2="498.45" y2="654.20" stroke="#333" stroke-width="1.1"/>
<line x1="495.7" y1="670.35" x2="498.45" y2="670.35" stroke="#333" stroke-width="1.1"/>
<line x1="495.7" y1="686.50" x2="498.45" y2="686.50" stroke="#333" stroke-width="1.1"/>
<line x1="495.7" y1="702.65" x2="498.45" y2="702.65" stroke="#333" stroke-width="1.1"/>
<line x1="495.7" y1="718.80" x2="498.45" y2="718.80" stroke="#333" stroke-width="1.1"/>
<line x1="495.7" y1="734.95" x2="498.45" y2="734.95" stroke="#333" stroke-width="1.1"/>
<line x1="541.9" y1="744.3" x2="541.9" y2="747.1" stroke="#333" stroke-width="1.1"/>
<line x1="586.1" y1="744.3" x2="586.1" y2="747.1" stroke="#333" stroke-width="1.1"/>
<line x1="630.1" y1="744.3" x2="630.1" y2="747.1" stroke="#333" stroke-width="1.1"/>
<line x1="674.0" y1="744.3" x2="674.0" y2="747.1" stroke="#333" stroke-width="1.1"/>
<text x="206.43" y="432.90" font-size="18.00" fill="#000" stroke="#000" stroke-width="0.25" textLength="288.17" lengthAdjust="spacingAndGlyphs">Coronavirus disease −COVID−19</text>
<text x="374.87" y="449.25" font-size="18.00" fill="#000" stroke="#000" stroke-width="0.25" textLength="119.70" lengthAdjust="spacingAndGlyphs">Prion disease</text>
<text x="335.09" y="465.60" font-size="18.00" fill="#000" stroke="#000" stroke-width="0.25" textLength="159.47" lengthAdjust="spacingAndGlyphs">Parkinson disease</text>
<text x="281.60" y="481.95" font-size="18.00" fill="#000" stroke="#000" stroke-width="0.25" textLength="212.15" lengthAdjust="spacingAndGlyphs">Diabetic cardiomyopathy</text>
<text x="298.17" y="498.30" font-size="18.00" fill="#000" stroke="#000" stroke-width="0.25" textLength="195.57" lengthAdjust="spacingAndGlyphs">TNF signaling pathway</text>
<text x="280.07" y="514.65" font-size="18.00" fill="#000" stroke="#000" stroke-width="0.25" textLength="214.87" lengthAdjust="spacingAndGlyphs">Osteoclast differentiation</text>
<text x="396.18" y="531.00" font-size="18.00" fill="#000" stroke="#000" stroke-width="0.25" textLength="97.54" lengthAdjust="spacingAndGlyphs">Influenza A</text>
<text x="266.16" y="547.35" font-size="18.00" fill="#000" stroke="#000" stroke-width="0.25" textLength="228.79" lengthAdjust="spacingAndGlyphs">Toll−like receptor signaling</text>
<text x="225.60" y="563.70" font-size="18.00" fill="#000" stroke="#000" stroke-width="0.25" textLength="268.14" lengthAdjust="spacingAndGlyphs">NF−kappa B signaling pathway</text>
<text x="318.88" y="580.05" font-size="18.00" fill="#000" stroke="#000" stroke-width="0.25" textLength="175.53" lengthAdjust="spacingAndGlyphs">Rheumatoid arthritis</text>
<text x="213.03" y="596.40" font-size="18.00" fill="#000" stroke="#000" stroke-width="0.25" textLength="280.71" lengthAdjust="spacingAndGlyphs">Cytosolic DNA−sensing pathway</text>
<text x="271.99" y="612.75" font-size="18.00" fill="#000" stroke="#000" stroke-width="0.25" textLength="215.59" lengthAdjust="spacingAndGlyphs">Lipid and atherosclerosis</text>
<text x="335.75" y="629.10" font-size="18.00" fill="#000" stroke="#000" stroke-width="0.25" textLength="158.79" lengthAdjust="spacingAndGlyphs">Alzheimer disease</text>
<text x="353.21" y="645.45" font-size="18.00" fill="#000" stroke="#000" stroke-width="0.25" textLength="141.35" lengthAdjust="spacingAndGlyphs">Chagas disease</text>
<text x="48.80" y="661.80" font-size="18.00" fill="#000" stroke="#000" stroke-width="0.25" textLength="445.57" lengthAdjust="spacingAndGlyphs">Pathways of neurodegeneration − multiple diseases</text>
<text x="387.07" y="678.15" font-size="18.00" fill="#000" stroke="#000" stroke-width="0.25" textLength="107.29" lengthAdjust="spacingAndGlyphs">Tuberculosis</text>
<text x="421.79" y="694.50" font-size="18.00" fill="#000" stroke="#000" stroke-width="0.25" textLength="72.61" lengthAdjust="spacingAndGlyphs">Measles</text>
<text x="369.17" y="710.85" font-size="18.00" fill="#000" stroke="#000" stroke-width="0.25" textLength="125.20" lengthAdjust="spacingAndGlyphs">Leishmaniasis</text>
<text x="63.83" y="727.20" font-size="18.00" fill="#000" stroke="#000" stroke-width="0.25" textLength="430.55" lengthAdjust="spacingAndGlyphs">Chemical carcinogenesis-reactive oxygen species</text>
<text x="64.99" y="743.55" font-size="18.00" fill="#000" stroke="#000" stroke-width="0.25" textLength="429.97" lengthAdjust="spacingAndGlyphs">Kaposi sarcoma−associated herpesvirus infection</text>
<text x="521.67" y="763.50" font-size="14.62" fill="#000" stroke="#000" stroke-width="0.25" textLength="30.58" lengthAdjust="spacingAndGlyphs">0.05</text>
<text x="565.57" y="763.50" font-size="14.62" fill="#000" stroke="#000" stroke-width="0.25" textLength="30.85" lengthAdjust="spacingAndGlyphs">0.07</text>
<text x="609.56" y="763.50" font-size="14.62" fill="#000" stroke="#000" stroke-width="0.25" textLength="30.97" lengthAdjust="spacingAndGlyphs">0.09</text>
<text x="653.80" y="763.50" font-size="14.62" fill="#000" stroke="#000" stroke-width="0.25" textLength="28.26" lengthAdjust="spacingAndGlyphs">0.11</text>
<text x="568.49" y="780.40" font-size="15.17" fill="#000" stroke="#000" stroke-width="0.25" textLength="77.07" lengthAdjust="spacingAndGlyphs">GeneRatio</text>
<text x="496.95" y="413.10" font-size="17.66" fill="#000" stroke="#000" stroke-width="0.25" textLength="186.07" lengthAdjust="spacingAndGlyphs">Lung_<tspan fill="#e8702e" stroke="#e8702e">Up_intersection792</tspan></text>
<line x1="516.60" y1="825.7" x2="516.60" y2="1152.0" stroke="#f0f0f0" stroke-width="0.9"/>
<line x1="569.20" y1="825.7" x2="569.20" y2="1152.0" stroke="#f0f0f0" stroke-width="0.9"/>
<line x1="621.70" y1="825.7" x2="621.70" y2="1152.0" stroke="#f0f0f0" stroke-width="0.9"/>
<line x1="674.70" y1="825.7" x2="674.70" y2="1152.0" stroke="#f0f0f0" stroke-width="0.9"/>
<line x1="542.80" y1="825.7" x2="542.80" y2="1152.0" stroke="#e7e7e7" stroke-width="1.4"/>
<line x1="595.40" y1="825.7" x2="595.40" y2="1152.0" stroke="#e7e7e7" stroke-width="1.4"/>
<line x1="648.30" y1="825.7" x2="648.30" y2="1152.0" stroke="#e7e7e7" stroke-width="1.4"/>
<line x1="496.3" y1="834.90" x2="676.1" y2="834.90" stroke="#e7e7e7" stroke-width="1.4"/>
<line x1="496.3" y1="851.12" x2="676.1" y2="851.12" stroke="#e7e7e7" stroke-width="1.4"/>
<line x1="496.3" y1="867.34" x2="676.1" y2="867.34" stroke="#e7e7e7" stroke-width="1.4"/>
<line x1="496.3" y1="883.56" x2="676.1" y2="883.56" stroke="#e7e7e7" stroke-width="1.4"/>
<line x1="496.3" y1="899.78" x2="676.1" y2="899.78" stroke="#e7e7e7" stroke-width="1.4"/>
<line x1="496.3" y1="916.00" x2="676.1" y2="916.00" stroke="#e7e7e7" stroke-width="1.4"/>
<line x1="496.3" y1="932.22" x2="676.1" y2="932.22" stroke="#e7e7e7" stroke-width="1.4"/>
<line x1="496.3" y1="948.44" x2="676.1" y2="948.44" stroke="#e7e7e7" stroke-width="1.4"/>
<line x1="496.3" y1="964.66" x2="676.1" y2="964.66" stroke="#e7e7e7" stroke-width="1.4"/>
<line x1="496.3" y1="980.88" x2="676.1" y2="980.88" stroke="#e7e7e7" stroke-width="1.4"/>
<line x1="496.3" y1="997.10" x2="676.1" y2="997.10" stroke="#e7e7e7" stroke-width="1.4"/>
<line x1="496.3" y1="1013.32" x2="676.1" y2="1013.32" stroke="#e7e7e7" stroke-width="1.4"/>
<line x1="496.3" y1="1029.54" x2="676.1" y2="1029.54" stroke="#e7e7e7" stroke-width="1.4"/>
<line x1="496.3" y1="1045.76" x2="676.1" y2="1045.76" stroke="#e7e7e7" stroke-width="1.4"/>
<line x1="496.3" y1="1061.98" x2="676.1" y2="1061.98" stroke="#e7e7e7" stroke-width="1.4"/>
<line x1="496.3" y1="1078.20" x2="676.1" y2="1078.20" stroke="#e7e7e7" stroke-width="1.4"/>
<line x1="496.3" y1="1094.42" x2="676.1" y2="1094.42" stroke="#e7e7e7" stroke-width="1.4"/>
<line x1="496.3" y1="1110.64" x2="676.1" y2="1110.64" stroke="#e7e7e7" stroke-width="1.4"/>
<line x1="496.3" y1="1126.86" x2="676.1" y2="1126.86" stroke="#e7e7e7" stroke-width="1.4"/>
<line x1="496.3" y1="1143.08" x2="676.1" y2="1143.08" stroke="#e7e7e7" stroke-width="1.4"/>
<circle cx="668.3" cy="834.90" r="7.0" fill="#9a35a8"/>
<circle cx="619.5" cy="851.12" r="6.2" fill="#e0302a"/>
<circle cx="610.5" cy="867.34" r="6.1" fill="#d62a5e"/>
<circle cx="597.1" cy="883.56" r="6.0" fill="#e0302a"/>
<circle cx="597.1" cy="899.78" r="6.0" fill="#e0302a"/>
<circle cx="592.8" cy="916.00" r="5.8" fill="#b82ea0"/>
<circle cx="588.1" cy="932.22" r="5.8" fill="#8a38a8"/>
<circle cx="579.3" cy="948.44" r="5.6" fill="#e02a45"/>
<circle cx="579.2" cy="964.66" r="5.4" fill="#3a52b0"/>
<circle cx="561.8" cy="980.88" r="5.3" fill="#e0283e"/>
<circle cx="557.3" cy="997.10" r="5.1" fill="#c02c98"/>
<circle cx="544.1" cy="1013.32" r="4.8" fill="#3a52b0"/>
<circle cx="535.1" cy="1029.54" r="4.8" fill="#e02a30"/>
<circle cx="530.6" cy="1045.76" r="4.7" fill="#e0302a"/>
<circle cx="530.6" cy="1061.98" r="4.6" fill="#3a52b0"/>
<circle cx="517.4" cy="1078.20" r="4.3" fill="#e02a40"/>
<circle cx="517.4" cy="1094.42" r="4.3" fill="#9a38a8"/>
<circle cx="512.9" cy="1110.64" r="3.9" fill="#b82ea8"/>
<circle cx="508.3" cy="1126.86" r="3.8" fill="#e0302a"/>
<circle cx="503.9" cy="1143.08" r="3.1" fill="#9a38a8"/>
<rect x="610" y="999" width="17" height="56" fill="#fff"/>
<circle cx="618.4" cy="1005.2" r="4.2" fill="#000"/>
<circle cx="618.4" cy="1018.0" r="5.4" fill="#000"/>
<circle cx="618.4" cy="1031.5" r="6.2" fill="#000"/>
<circle cx="618.4" cy="1047.4" r="6.9" fill="#000"/>
<text x="610.09" y="993.50" font-size="13.91" fill="#000" stroke="#000" stroke-width="0.25" textLength="43.45" lengthAdjust="spacingAndGlyphs">Count</text>
<text x="630.09" y="1010.70" font-size="15.60" fill="#000" stroke="#000" stroke-width="0.25" textLength="17.96" lengthAdjust="spacingAndGlyphs">20</text>
<text x="630.09" y="1023.50" font-size="15.60" fill="#000" stroke="#000" stroke-width="0.25" textLength="17.96" lengthAdjust="spacingAndGlyphs">30</text>
<text x="630.09" y="1037.30" font-size="15.60" fill="#000" stroke="#000" stroke-width="0.25" textLength="17.96" lengthAdjust="spacingAndGlyphs">40</text>
<text x="630.09" y="1052.30" font-size="15.60" fill="#000" stroke="#000" stroke-width="0.25" textLength="17.96" lengthAdjust="spacingAndGlyphs">50</text>
<text x="609.96" y="1078.50" font-size="11.86" fill="#000" stroke="#000" stroke-width="0.25" textLength="50.85" lengthAdjust="spacingAndGlyphs">p.adjust</text>
<rect x="610.3" y="1083.1" width="12.8" height="63.7" fill="url(#gE)"/>
<line x1="620" y1="1094.6" x2="623" y2="1094.6" stroke="#fff" stroke-width="1"/>
<line x1="620" y1="1107.4" x2="623" y2="1107.4" stroke="#fff" stroke-width="1"/>
<line x1="620" y1="1120.4" x2="623" y2="1120.4" stroke="#fff" stroke-width="1"/>
<line x1="620" y1="1133.3" x2="623" y2="1133.3" stroke="#fff" stroke-width="1"/>
<text x="626.96" y="1096.40" font-size="15.60" fill="#000" stroke="#000" stroke-width="0.25" textLength="40.21" lengthAdjust="spacingAndGlyphs">0.002</text>
<text x="626.96" y="1122.20" font-size="15.60" fill="#000" stroke="#000" stroke-width="0.25" textLength="40.21" lengthAdjust="spacingAndGlyphs">0.001</text>
<rect x="496.3" y="825.7" width="179.80" height="326.30" fill="none" stroke="#3a3a3a" stroke-width="1.1"/>
<line x1="493.6" y1="834.90" x2="496.3" y2="834.90" stroke="#333" stroke-width="1.1"/>
<line x1="493.6" y1="851.12" x2="496.3" y2="851.12" stroke="#333" stroke-width="1.1"/>
<line x1="493.6" y1="867.34" x2="496.3" y2="867.34" stroke="#333" stroke-width="1.1"/>
<line x1="493.6" y1="883.56" x2="496.3" y2="883.56" stroke="#333" stroke-width="1.1"/>
<line x1="493.6" y1="899.78" x2="496.3" y2="899.78" stroke="#333" stroke-width="1.1"/>
<line x1="493.6" y1="916.00" x2="496.3" y2="916.00" stroke="#333" stroke-width="1.1"/>
<line x1="493.6" y1="932.22" x2="496.3" y2="932.22" stroke="#333" stroke-width="1.1"/>
<line x1="493.6" y1="948.44" x2="496.3" y2="948.44" stroke="#333" stroke-width="1.1"/>
<line x1="493.6" y1="964.66" x2="496.3" y2="964.66" stroke="#333" stroke-width="1.1"/>
<line x1="493.6" y1="980.88" x2="496.3" y2="980.88" stroke="#333" stroke-width="1.1"/>
<line x1="493.6" y1="997.10" x2="496.3" y2="997.10" stroke="#333" stroke-width="1.1"/>
<line x1="493.6" y1="1013.32" x2="496.3" y2="1013.32" stroke="#333" stroke-width="1.1"/>
<line x1="493.6" y1="1029.54" x2="496.3" y2="1029.54" stroke="#333" stroke-width="1.1"/>
<line x1="493.6" y1="1045.76" x2="496.3" y2="1045.76" stroke="#333" stroke-width="1.1"/>
<line x1="493.6" y1="1061.98" x2="496.3" y2="1061.98" stroke="#333" stroke-width="1.1"/>
<line x1="493.6" y1="1078.20" x2="496.3" y2="1078.20" stroke="#333" stroke-width="1.1"/>
<line x1="493.6" y1="1094.42" x2="496.3" y2="1094.42" stroke="#333" stroke-width="1.1"/>
<line x1="493.6" y1="1110.64" x2="496.3" y2="1110.64" stroke="#333" stroke-width="1.1"/>
<line x1="493.6" y1="1126.86" x2="496.3" y2="1126.86" stroke="#333" stroke-width="1.1"/>
<line x1="493.6" y1="1143.08" x2="496.3" y2="1143.08" stroke="#333" stroke-width="1.1"/>
<line x1="542.7" y1="1152.0" x2="542.7" y2="1154.8" stroke="#333" stroke-width="1.1"/>
<line x1="595.6" y1="1152.0" x2="595.6" y2="1154.8" stroke="#333" stroke-width="1.1"/>
<line x1="648.0" y1="1152.0" x2="648.0" y2="1154.8" stroke="#333" stroke-width="1.1"/>
<text x="109.69" y="842.10" font-size="18.00" fill="#000" stroke="#000" stroke-width="0.25" textLength="382.09" lengthAdjust="spacingAndGlyphs">Protein processing in endoplasmic reticulum</text>
<text x="317.12" y="858.34" font-size="18.00" fill="#000" stroke="#000" stroke-width="0.25" textLength="174.60" lengthAdjust="spacingAndGlyphs">Salmonella infection</text>
<text x="257.18" y="874.58" font-size="18.00" fill="#000" stroke="#000" stroke-width="0.25" textLength="234.59" lengthAdjust="spacingAndGlyphs">Epstein-Barr virus infection</text>
<text x="360.55" y="890.82" font-size="18.00" fill="#000" stroke="#000" stroke-width="0.25" textLength="130.66" lengthAdjust="spacingAndGlyphs">Toxoplasmosis</text>
<text x="290.06" y="907.06" font-size="18.00" fill="#000" stroke="#000" stroke-width="0.25" textLength="201.70" lengthAdjust="spacingAndGlyphs">Th17 cell differentiation</text>
<text x="367.08" y="923.30" font-size="18.00" fill="#000" stroke="#000" stroke-width="0.25" textLength="124.08" lengthAdjust="spacingAndGlyphs">Leishmaniasis</text>
<text x="275.29" y="939.54" font-size="18.00" fill="#000" stroke="#000" stroke-width="0.25" textLength="215.89" lengthAdjust="spacingAndGlyphs">Lipid and atherosclerosis</text>
<text x="224.36" y="955.78" font-size="18.00" fill="#000" stroke="#000" stroke-width="0.25" textLength="267.36" lengthAdjust="spacingAndGlyphs">Th1 and Th2 cell differentiation</text>
<text x="379.55" y="972.02" font-size="18.00" fill="#000" stroke="#000" stroke-width="0.25" textLength="111.63" lengthAdjust="spacingAndGlyphs">Tuberculosis</text>
<text x="275.29" y="988.26" font-size="18.00" fill="#000" stroke="#000" stroke-width="0.25" textLength="215.24" lengthAdjust="spacingAndGlyphs">MAPK signaling pathway</text>
<text x="386.48" y="1004.50" font-size="18.00" fill="#000" stroke="#000" stroke-width="0.25" textLength="104.90" lengthAdjust="spacingAndGlyphs">Phagosome</text>
<text x="372.68" y="1020.74" font-size="18.00" fill="#000" stroke="#000" stroke-width="0.25" textLength="118.68" lengthAdjust="spacingAndGlyphs">Prion disease</text>
<text x="175.55" y="1036.98" font-size="18.00" fill="#000" stroke="#000" stroke-width="0.25" textLength="316.19" lengthAdjust="spacingAndGlyphs">Antigen processing and presentation</text>
<text x="12.15" y="1053.22" font-size="18.00" fill="#000" stroke="#000" stroke-width="0.25" textLength="479.01" lengthAdjust="spacingAndGlyphs">AGE-RAGE signaling pathway in diabetic complications</text>
<text x="331.28" y="1069.46" font-size="18.00" fill="#000" stroke="#000" stroke-width="0.25" textLength="160.08" lengthAdjust="spacingAndGlyphs">Parkinson disease</text>
<text x="215.59" y="1085.70" font-size="18.00" fill="#000" stroke="#000" stroke-width="0.25" textLength="276.17" lengthAdjust="spacingAndGlyphs">Pathways of neurodegeneration</text>
<text x="334.39" y="1101.94" font-size="18.00" fill="#000" stroke="#000" stroke-width="0.25" textLength="156.44" lengthAdjust="spacingAndGlyphs">Pancreatic cancer</text>
<text x="395.08" y="1118.18" font-size="18.00" fill="#000" stroke="#000" stroke-width="0.25" textLength="96.18" lengthAdjust="spacingAndGlyphs">Hepatitis C</text>
<text x="150.88" y="1134.42" font-size="18.00" fill="#000" stroke="#000" stroke-width="0.25" textLength="340.86" lengthAdjust="spacingAndGlyphs">Human T-cell leukemia virus 1 infection</text>
<text x="406.45" y="1150.66" font-size="18.00" fill="#000" stroke="#000" stroke-width="0.25" textLength="84.71" lengthAdjust="spacingAndGlyphs">Apoptosis</text>
<text x="525.15" y="1168.80" font-size="15.77" fill="#000" stroke="#000" stroke-width="0.25" textLength="31.83" lengthAdjust="spacingAndGlyphs">0.04</text>
<text x="577.84" y="1168.80" font-size="15.77" fill="#000" stroke="#000" stroke-width="0.25" textLength="31.98" lengthAdjust="spacingAndGlyphs">0.06</text>
<text x="630.14" y="1168.80" font-size="15.77" fill="#000" stroke="#000" stroke-width="0.25" textLength="32.08" lengthAdjust="spacingAndGlyphs">0.08</text>
<text x="557.70" y="1183.30" font-size="14.76" fill="#000" stroke="#000" stroke-width="0.25" textLength="76.86" lengthAdjust="spacingAndGlyphs">GeneRatio</text>
<text x="494.84" y="819.40" font-size="16.49" fill="#000" stroke="#000" stroke-width="0.25" textLength="160.54" lengthAdjust="spacingAndGlyphs">Lung_<tspan fill="#e8702e" stroke="#e8702e">LCWE_Up1251</tspan></text>
<text x="2.98" y="821.40" font-size="23.42" fill="#000" stroke="#000" stroke-width="0.25" textLength="15.49" lengthAdjust="spacingAndGlyphs">E</text>
</svg></body></html>
